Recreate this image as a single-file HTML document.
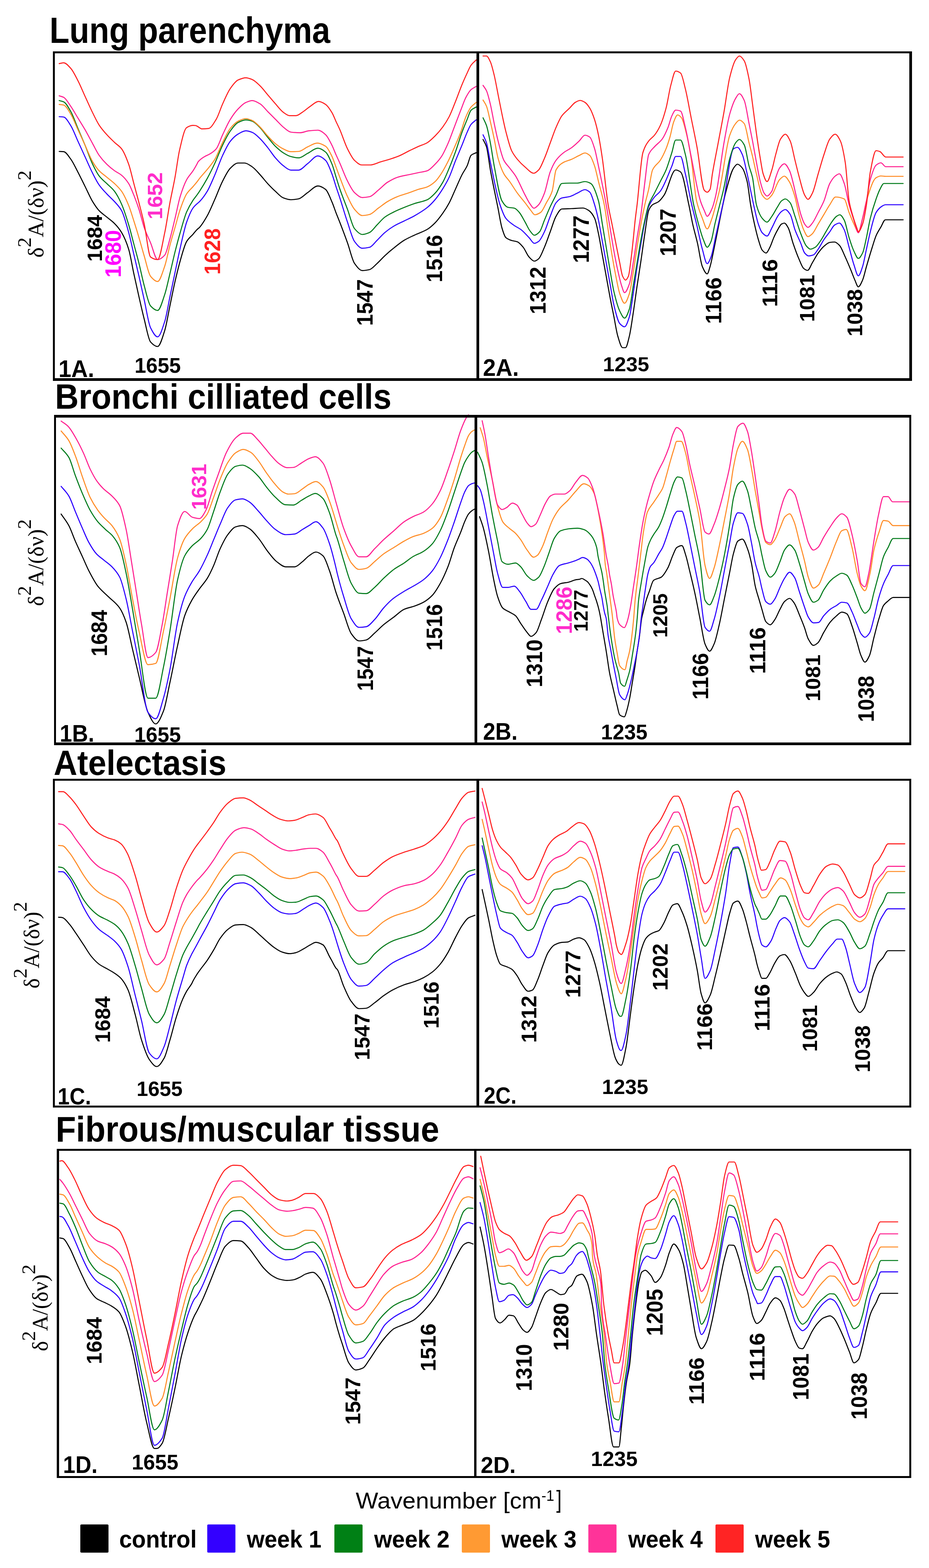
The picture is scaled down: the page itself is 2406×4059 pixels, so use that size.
<!DOCTYPE html><html><head><meta charset="utf-8"><style>html,body{margin:0;padding:0;background:#fff;}svg{display:block;}</style></head><body><svg xmlns="http://www.w3.org/2000/svg" width="2406" height="4059" viewBox="0 0 2406 4059">
<rect width="2406" height="4059" fill="#ffffff"/>
<g fill="none" stroke-width="2.7" stroke-linejoin="round" stroke-linecap="round">
<path d="M153.3,392.0 C157.2,392.2 161.1,392.3 165.0,392.7 C171.1,393.3 177.2,403.8 183.3,412.0 C189.4,420.2 195.6,433.7 201.7,445.3 C207.8,457.0 213.9,469.8 220.0,482.0 C226.7,495.3 233.3,511.1 240.0,522.0 C245.6,531.1 251.1,539.5 256.7,545.3 C263.3,552.4 270.0,556.4 276.7,562.0 C283.3,567.6 290.0,571.9 296.7,578.7 C302.8,584.8 308.9,591.9 315.0,602.0 C321.1,612.1 327.2,625.7 333.3,645.3 C337.8,659.6 342.2,688.1 346.7,708.7 C351.1,729.2 355.6,749.2 360.0,768.7 C364.4,788.1 368.9,808.0 373.3,825.3 C378.9,847.1 384.4,879.3 390.0,885.3 C396.1,892.0 402.2,897.0 408.3,897.0 C414.4,897.0 420.6,874.5 426.7,855.3 C431.1,841.4 435.6,813.1 440.0,792.0 C444.4,770.9 448.9,748.0 453.3,728.7 C457.8,709.4 462.2,690.7 466.7,675.3 C472.2,656.2 477.8,634.5 483.3,625.3 C488.9,616.1 494.4,612.7 500.0,606.3 C503.4,602.3 506.9,597.6 510.3,594.2 C512.4,592.1 514.6,590.9 516.7,588.7 C523.3,581.7 530.0,570.5 536.7,558.7 C543.3,546.8 550.0,530.3 556.7,515.3 C563.3,500.4 570.0,481.6 576.7,468.7 C583.3,455.7 590.0,441.7 596.7,435.3 C603.3,429.0 610.0,422.0 616.7,422.0 C622.2,422.0 627.8,422.0 633.3,422.0 C640.0,422.0 646.7,427.6 653.3,432.0 C660.0,436.4 666.7,444.8 673.3,452.0 C680.0,459.2 686.7,468.2 693.3,475.3 C700.0,482.5 706.7,489.3 713.3,495.3 C720.0,501.4 726.7,509.4 733.3,512.0 C740.0,514.6 746.7,517.0 753.3,517.0 C760.0,517.0 766.7,516.0 773.3,514.7 C781.1,513.1 788.9,503.9 796.7,498.7 C805.6,492.7 814.4,481.3 823.3,481.3 C830.0,481.3 836.7,485.3 843.3,490.3 C848.9,494.5 854.4,510.6 860.0,523.4 C863.4,531.3 866.9,542.0 870.3,550.9 C873.6,559.3 876.8,567.0 880.0,575.3 C886.7,592.6 893.3,610.1 900.0,628.7 C906.1,645.7 912.2,673.4 918.3,682.0 C925.0,691.4 931.7,700.3 938.3,700.3 C944.4,700.3 950.6,699.3 956.7,698.0 C963.3,696.6 970.0,687.9 976.7,682.0 C983.3,676.1 990.0,668.2 996.7,662.0 C1004.4,654.8 1012.2,648.2 1020.0,642.0 C1028.9,634.9 1037.8,627.3 1046.7,622.0 C1055.6,616.7 1064.4,612.9 1073.3,608.7 C1084.4,603.4 1095.6,600.3 1106.7,593.7 C1113.3,589.7 1120.0,583.7 1126.7,577.0 C1133.3,570.3 1140.0,561.4 1146.7,552.0 C1152.2,544.2 1157.8,535.6 1163.3,525.3 C1168.9,515.0 1174.4,500.9 1180.0,488.7 C1185.6,476.4 1191.1,462.8 1196.7,452.0 C1201.1,443.4 1205.6,438.2 1210.0,428.7 C1213.3,421.6 1216.7,404.9 1220.0,402.0 C1224.4,398.1 1228.9,397.6 1233.3,395.3" stroke="#000000"/>
<path d="M153.3,302.0 C157.2,302.3 161.1,302.4 165.0,303.0 C171.1,303.9 177.2,315.8 183.3,325.3 C189.4,334.9 195.6,352.0 201.7,365.3 C207.8,378.7 213.9,392.0 220.0,405.3 C226.7,419.8 233.3,435.6 240.0,448.7 C245.6,459.6 251.1,470.8 256.7,478.7 C263.3,488.2 270.0,494.8 276.7,502.0 C283.3,509.2 290.0,514.5 296.7,522.0 C302.8,528.9 308.9,534.3 315.0,545.3 C321.1,556.4 327.2,579.9 333.3,602.0 C337.8,618.0 342.2,639.8 346.7,658.7 C351.1,677.6 355.6,695.9 360.0,715.3 C364.4,734.8 368.9,755.5 373.3,775.3 C378.9,800.1 384.4,837.6 390.0,848.7 C396.1,860.8 402.2,872.0 408.3,872.0 C414.4,872.0 420.6,850.6 426.7,832.0 C431.1,818.4 435.6,789.8 440.0,768.7 C444.4,747.6 448.9,726.4 453.3,705.3 C457.8,684.2 462.2,661.4 466.7,642.0 C472.2,617.8 477.8,591.2 483.3,575.3 C488.9,559.4 494.4,545.9 500.0,538.2 C503.4,533.5 506.9,530.7 510.3,527.5 C512.4,525.5 514.6,524.1 516.7,522.0 C523.3,515.3 530.0,506.3 536.7,495.3 C543.3,484.3 550.0,467.5 556.7,452.0 C563.3,436.5 570.0,416.1 576.7,402.0 C583.3,387.9 590.0,373.5 596.7,365.3 C603.3,357.2 610.0,350.8 616.7,347.0 C623.3,343.2 630.0,338.7 636.7,338.7 C642.2,338.7 647.8,340.6 653.3,342.7 C660.0,345.1 666.7,352.3 673.3,358.7 C680.0,365.0 686.7,373.7 693.3,382.0 C700.0,390.3 706.7,401.0 713.3,408.7 C720.0,416.3 726.7,423.8 733.3,428.7 C740.0,433.6 746.7,440.3 753.3,440.3 C760.0,440.3 766.7,440.3 773.3,440.3 C781.1,440.3 788.9,429.4 796.7,423.7 C805.6,417.2 814.4,403.7 823.3,403.7 C830.0,403.7 836.7,409.1 843.3,415.3 C848.9,420.5 854.4,436.7 860.0,451.0 C863.4,459.9 866.9,472.9 870.3,483.4 C873.6,493.2 876.8,502.2 880.0,512.0 C886.7,532.3 893.3,555.8 900.0,575.3 C906.1,593.2 912.2,617.2 918.3,625.3 C925.0,634.2 931.7,642.7 938.3,642.7 C944.4,642.7 950.6,641.7 956.7,640.3 C963.3,638.9 970.0,628.4 976.7,622.0 C983.3,615.6 990.0,607.6 996.7,602.0 C1004.4,595.5 1012.2,589.9 1020.0,585.3 C1028.9,580.1 1037.8,576.4 1046.7,572.0 C1055.6,567.6 1064.4,563.7 1073.3,558.7 C1084.4,552.4 1095.6,545.9 1106.7,537.0 C1113.3,531.7 1120.0,524.8 1126.7,517.0 C1133.3,509.2 1140.0,499.3 1146.7,488.7 C1152.2,479.8 1157.8,470.5 1163.3,458.7 C1168.9,446.8 1174.4,429.2 1180.0,415.3 C1185.6,401.5 1191.1,388.9 1196.7,375.3 C1201.1,364.4 1205.6,351.8 1210.0,342.0 C1213.3,334.6 1216.7,326.1 1220.0,322.0 C1224.4,316.5 1228.9,314.2 1233.3,310.3" stroke="#2a00ff"/>
<path d="M153.3,260.3 C157.2,261.4 161.1,261.9 165.0,263.7 C171.1,266.4 177.2,278.1 183.3,288.7 C189.4,299.2 195.6,317.6 201.7,332.0 C207.8,346.4 213.9,360.5 220.0,375.3 C226.7,391.5 233.3,411.4 240.0,425.3 C245.6,436.9 251.1,448.1 256.7,455.3 C263.3,464.0 270.0,468.7 276.7,475.3 C283.3,482.0 290.0,486.7 296.7,495.3 C302.8,503.3 308.9,515.0 315.0,528.7 C321.1,542.3 327.2,561.8 333.3,582.0 C337.8,596.7 342.2,615.3 346.7,632.0 C351.1,648.7 355.6,664.3 360.0,682.0 C364.4,699.7 368.9,722.4 373.3,738.7 C378.9,759.1 384.4,786.0 390.0,792.0 C396.1,798.6 402.2,803.7 408.3,803.7 C414.4,803.7 420.6,780.0 426.7,762.0 C431.1,748.9 435.6,727.0 440.0,708.7 C444.4,690.4 448.9,669.7 453.3,652.0 C457.8,634.3 462.2,617.4 466.7,602.0 C472.2,582.8 477.8,561.6 483.3,548.7 C488.9,535.8 494.4,526.7 500.0,518.2 C503.4,513.0 506.9,509.3 510.3,504.5 C512.4,501.6 514.6,498.6 516.7,495.3 C523.3,485.1 530.0,474.1 536.7,462.0 C543.3,449.9 550.0,436.4 556.7,422.0 C563.3,407.6 570.0,389.0 576.7,375.3 C583.3,361.6 590.0,347.7 596.7,338.7 C603.3,329.6 610.0,320.4 616.7,317.0 C623.3,313.6 630.0,310.3 636.7,310.3 C642.2,310.3 647.8,311.9 653.3,313.7 C660.0,315.8 666.7,323.7 673.3,330.3 C680.0,337.0 686.7,347.3 693.3,355.3 C700.0,363.4 706.7,372.2 713.3,378.7 C720.0,385.1 726.7,391.2 733.3,395.3 C740.0,399.5 746.7,403.7 753.3,405.3 C760.0,407.0 766.7,408.7 773.3,408.7 C781.1,408.7 788.9,400.9 796.7,397.0 C805.6,392.6 814.4,383.7 823.3,383.7 C830.0,383.7 836.7,388.3 843.3,393.7 C848.9,398.1 854.4,411.8 860.0,425.3 C863.4,433.7 866.9,447.3 870.3,458.2 C873.6,468.4 876.8,479.3 880.0,488.7 C886.7,508.1 893.3,524.0 900.0,542.0 C906.1,558.5 912.2,584.8 918.3,592.0 C925.0,599.9 931.7,607.0 938.3,607.0 C944.4,607.0 950.6,604.6 956.7,602.0 C963.3,599.2 970.0,588.7 976.7,582.0 C983.3,575.3 990.0,566.9 996.7,562.0 C1004.4,556.3 1012.2,552.5 1020.0,548.7 C1028.9,544.2 1037.8,540.6 1046.7,537.0 C1055.6,533.4 1064.4,530.0 1073.3,527.0 C1084.4,523.3 1095.6,522.1 1106.7,517.0 C1113.3,513.9 1120.0,507.3 1126.7,500.3 C1133.3,493.3 1140.0,483.6 1146.7,472.0 C1152.2,462.4 1157.8,448.6 1163.3,435.3 C1168.9,422.1 1174.4,407.5 1180.0,392.0 C1185.6,376.5 1191.1,357.1 1196.7,342.0 C1201.1,329.9 1205.6,319.4 1210.0,308.7 C1213.3,300.6 1216.7,288.7 1220.0,285.3 C1224.4,280.8 1228.9,279.8 1233.3,277.0" stroke="#007a1a"/>
<path d="M153.3,270.3 C157.2,270.9 161.1,271.1 165.0,272.0 C171.1,273.5 177.2,285.5 183.3,295.3 C189.4,305.2 195.6,322.0 201.7,335.3 C207.8,348.7 213.9,362.0 220.0,375.3 C226.7,389.8 233.3,407.4 240.0,418.7 C245.6,428.1 251.1,436.2 256.7,442.0 C263.3,449.0 270.0,453.1 276.7,458.7 C283.3,464.2 290.0,469.0 296.7,475.3 C302.8,481.1 308.9,486.7 315.0,495.3 C321.1,504.0 327.2,517.2 333.3,532.0 C337.8,542.8 342.2,558.1 346.7,572.0 C351.1,585.9 355.6,600.4 360.0,615.3 C364.4,630.3 368.9,647.1 373.3,662.0 C378.9,680.6 384.4,708.7 390.0,715.3 C396.1,722.6 402.2,728.7 408.3,728.7 C414.4,728.7 420.6,706.2 426.7,688.7 C431.1,675.9 435.6,651.9 440.0,635.3 C444.4,618.7 448.9,604.2 453.3,588.7 C457.8,573.1 462.2,554.7 466.7,542.0 C472.2,526.1 477.8,510.6 483.3,502.0 C488.9,493.4 494.4,489.4 500.0,483.0 C503.4,479.0 506.9,475.1 510.3,470.7 C512.4,468.0 514.6,464.7 516.7,462.0 C523.3,453.5 530.0,447.0 536.7,438.7 C543.3,430.4 550.0,423.0 556.7,412.0 C563.3,401.0 570.0,381.9 576.7,368.7 C583.3,355.4 590.0,340.1 596.7,332.0 C603.3,323.9 610.0,316.9 616.7,313.7 C623.3,310.4 630.0,307.0 636.7,307.0 C642.2,307.0 647.8,309.6 653.3,312.0 C660.0,314.9 666.7,322.2 673.3,328.7 C680.0,335.1 686.7,344.8 693.3,352.0 C700.0,359.2 706.7,366.7 713.3,372.0 C720.0,377.3 726.7,382.2 733.3,385.3 C740.0,388.5 746.7,392.7 753.3,392.7 C760.0,392.7 766.7,392.4 773.3,392.0 C781.1,391.5 788.9,383.8 796.7,380.3 C805.0,376.6 813.3,370.3 821.7,370.3 C828.9,370.3 836.1,374.1 843.3,378.7 C848.9,382.2 854.4,394.0 860.0,405.3 C863.4,412.3 866.9,423.5 870.3,432.6 C873.6,441.2 876.8,450.3 880.0,458.7 C886.7,476.0 893.3,494.7 900.0,508.7 C906.1,521.5 912.2,535.2 918.3,542.0 C925.0,549.4 931.7,558.0 938.3,558.0 C944.4,558.0 950.6,556.8 956.7,555.3 C964.4,553.5 972.2,544.2 980.0,538.7 C987.8,533.1 995.6,526.6 1003.3,522.0 C1012.2,516.8 1021.1,512.2 1030.0,508.7 C1040.0,504.7 1050.0,502.1 1060.0,498.7 C1067.8,496.0 1075.6,492.8 1083.3,490.3 C1091.1,487.9 1098.9,486.8 1106.7,483.7 C1113.3,481.0 1120.0,476.3 1126.7,470.3 C1132.2,465.4 1137.8,457.1 1143.3,448.7 C1148.9,440.3 1154.4,429.7 1160.0,418.7 C1165.6,407.7 1171.1,394.8 1176.7,382.0 C1182.2,369.2 1187.8,356.9 1193.3,342.0 C1197.8,330.1 1202.2,312.3 1206.7,302.0 C1211.1,291.7 1215.6,282.3 1220.0,277.0 C1224.4,271.7 1228.9,269.2 1233.3,265.3" stroke="#ff8c26"/>
<path d="M153.3,248.0 C157.2,249.3 161.1,250.0 165.0,252.0 C171.1,255.2 177.2,266.6 183.3,275.3 C189.4,284.1 195.6,295.3 201.7,305.3 C207.8,315.3 213.9,324.8 220.0,335.3 C226.7,346.9 233.3,359.9 240.0,372.0 C245.6,382.1 251.1,394.1 256.7,402.0 C263.3,411.5 270.0,418.9 276.7,425.3 C283.3,431.8 290.0,437.2 296.7,442.0 C302.8,446.4 308.9,448.6 315.0,453.7 C321.1,458.7 327.2,465.7 333.3,475.3 C337.8,482.3 342.2,494.3 346.7,505.3 C351.1,516.3 355.6,528.3 360.0,542.0 C364.4,555.7 368.9,575.9 373.3,588.7 C378.9,604.6 384.4,615.4 390.0,628.7 C396.1,643.2 402.2,672.0 408.3,672.0 C414.4,672.0 420.6,667.0 426.7,660.3 C431.1,655.5 435.6,634.3 440.0,618.7 C444.4,603.1 448.9,583.6 453.3,565.3 C457.8,547.0 462.2,523.1 466.7,508.7 C472.2,490.6 477.8,475.4 483.3,465.3 C488.9,455.2 494.4,450.6 500.0,442.0 C503.4,436.7 506.9,430.5 510.3,424.3 C511.3,422.5 512.3,419.9 513.3,418.7 C518.9,411.8 524.4,408.7 530.0,405.3 C534.4,402.6 538.9,401.4 543.3,398.7 C548.9,395.3 554.4,391.9 560.0,385.3 C565.6,378.8 571.1,360.3 576.7,348.7 C583.3,334.7 590.0,319.3 596.7,308.7 C603.3,298.0 610.0,288.8 616.7,282.0 C623.3,275.2 630.0,268.2 636.7,265.3 C642.2,262.9 647.8,260.3 653.3,260.3 C660.0,260.3 666.7,264.7 673.3,268.7 C680.0,272.6 686.7,282.0 693.3,288.7 C700.0,295.3 706.7,302.0 713.3,308.7 C720.0,315.3 726.7,323.3 733.3,328.7 C740.0,334.0 746.7,341.1 753.3,342.0 C761.1,343.0 768.9,343.7 776.7,343.7 C784.4,343.7 792.2,339.5 800.0,338.7 C807.8,337.8 815.6,337.0 823.3,337.0 C830.0,337.0 836.7,342.8 843.3,348.7 C848.9,353.6 854.4,365.7 860.0,376.7 C863.4,383.5 866.9,393.1 870.3,400.8 C873.6,408.1 876.8,414.7 880.0,422.0 C886.7,437.0 893.3,455.9 900.0,468.7 C906.1,480.4 912.2,493.0 918.3,498.7 C925.0,504.8 931.7,511.3 938.3,511.3 C944.4,511.3 950.6,510.5 956.7,509.3 C964.4,507.9 972.2,498.2 980.0,492.0 C987.8,485.8 995.6,476.9 1003.3,472.0 C1012.2,466.4 1021.1,461.4 1030.0,458.7 C1040.0,455.6 1050.0,454.2 1060.0,452.0 C1067.8,450.3 1075.6,448.7 1083.3,447.0 C1091.1,445.3 1098.9,444.7 1106.7,442.0 C1113.3,439.7 1120.0,431.9 1126.7,425.3 C1132.2,419.8 1137.8,413.7 1143.3,405.3 C1148.9,397.0 1154.4,384.6 1160.0,372.0 C1165.6,359.4 1171.1,343.1 1176.7,328.7 C1182.2,314.2 1187.8,299.5 1193.3,285.3 C1197.8,274.0 1202.2,260.3 1206.7,252.0 C1211.1,243.7 1215.6,235.9 1220.0,232.0 C1224.4,228.1 1228.9,226.4 1233.3,223.7" stroke="#ff1f8f"/>
<path d="M153.3,164.7 C157.2,164.0 161.1,162.7 165.0,162.7 C171.1,162.7 177.2,170.4 183.3,177.0 C189.4,183.6 195.6,196.9 201.7,208.7 C207.8,220.4 213.9,235.4 220.0,248.7 C226.7,263.2 233.3,278.5 240.0,292.0 C245.6,303.2 251.1,315.2 256.7,323.7 C263.3,333.8 270.0,341.3 276.7,348.7 C283.3,356.1 290.0,362.3 296.7,368.7 C302.8,374.5 308.9,377.5 315.0,385.3 C321.1,393.2 327.2,408.2 333.3,425.3 C337.8,437.8 342.2,458.7 346.7,475.3 C351.1,492.0 355.6,508.1 360.0,525.3 C364.4,542.5 368.9,558.7 373.3,578.7 C378.9,603.7 384.4,661.5 390.0,665.3 C396.1,669.5 402.2,672.0 408.3,672.0 C414.4,672.0 420.6,630.3 426.7,602.0 C431.1,581.4 435.6,549.1 440.0,525.3 C444.4,501.6 448.9,483.0 453.3,458.7 C457.2,437.4 461.1,405.2 465.0,388.7 C471.1,362.7 477.2,334.0 483.3,330.3 C488.9,327.0 494.4,324.7 500.0,324.7 C502.2,324.7 504.4,324.8 506.7,325.0 C507.9,325.2 509.1,325.9 510.3,326.5 C514.7,328.4 519.0,333.7 523.3,333.7 C528.9,333.7 534.4,333.3 540.0,332.7 C546.7,331.9 553.3,319.4 560.0,308.7 C565.6,299.7 571.1,280.8 576.7,268.7 C583.3,254.1 590.0,238.0 596.7,228.7 C603.3,219.3 610.0,210.0 616.7,207.0 C623.3,204.0 630.0,201.3 636.7,201.3 C642.2,201.3 647.8,203.7 653.3,206.0 C660.0,208.7 666.7,215.7 673.3,222.0 C680.0,228.3 686.7,237.6 693.3,245.3 C700.0,253.1 706.7,261.2 713.3,268.7 C720.0,276.2 726.7,285.6 733.3,290.3 C738.9,294.3 744.4,299.3 750.0,299.3 C755.6,299.3 761.1,299.3 766.7,299.3 C772.2,299.3 777.8,293.8 783.3,290.3 C790.0,286.2 796.7,279.7 803.3,275.3 C810.6,270.6 817.8,262.7 825.0,262.7 C831.1,262.7 837.2,266.4 843.3,270.3 C848.9,273.9 854.4,282.7 860.0,292.0 C863.4,297.7 866.9,307.2 870.3,314.7 C873.6,321.6 876.8,328.0 880.0,335.3 C886.7,350.6 893.3,372.2 900.0,385.3 C906.1,397.4 912.2,409.7 918.3,415.3 C924.4,420.9 930.6,427.0 936.7,427.0 C943.9,427.0 951.1,427.0 958.3,427.0 C967.8,427.0 977.2,421.4 986.7,418.7 C994.4,416.4 1002.2,414.5 1010.0,412.0 C1017.8,409.5 1025.6,406.9 1033.3,403.7 C1042.2,400.0 1051.1,394.6 1060.0,390.3 C1067.8,386.6 1075.6,382.8 1083.3,379.3 C1091.1,375.8 1098.9,373.8 1106.7,369.3 C1113.3,365.5 1120.0,358.6 1126.7,352.0 C1133.3,345.4 1140.0,337.7 1146.7,328.7 C1152.2,321.1 1157.8,312.7 1163.3,302.0 C1168.9,291.3 1174.4,275.9 1180.0,262.0 C1185.6,248.1 1191.1,232.0 1196.7,218.7 C1201.1,208.0 1205.6,198.1 1210.0,188.7 C1213.3,181.6 1216.7,173.2 1220.0,168.7 C1224.4,162.6 1228.9,159.8 1233.3,155.3" stroke="#ff1f1f"/>
<path d="M158.3,1330.7 C165.0,1340.7 171.7,1348.3 178.3,1360.7 C183.9,1371.0 189.4,1388.0 195.0,1400.7 C201.1,1414.6 207.2,1427.3 213.3,1440.7 C218.9,1452.8 224.4,1466.6 230.0,1477.3 C237.8,1492.4 245.6,1507.5 253.3,1517.3 C262.2,1528.6 271.1,1535.1 280.0,1544.0 C290.0,1554.0 300.0,1559.7 310.0,1574.0 C315.6,1581.9 321.1,1594.6 326.7,1610.7 C332.2,1626.7 337.8,1657.3 343.3,1680.7 C348.9,1704.0 354.4,1727.9 360.0,1750.7 C367.8,1782.6 375.6,1827.2 383.3,1844.0 C390.0,1858.4 396.7,1874.0 403.3,1874.0 C410.0,1874.0 416.7,1857.0 423.3,1840.7 C428.9,1827.0 434.4,1792.9 440.0,1767.3 C446.7,1736.7 453.3,1700.5 460.0,1670.7 C466.1,1643.3 472.2,1611.5 478.3,1594.0 C484.4,1576.5 490.6,1564.9 496.7,1554.0 C503.3,1542.1 510.0,1533.4 516.7,1524.0 C523.3,1514.6 530.0,1508.1 536.7,1497.3 C542.2,1488.4 547.8,1476.6 553.3,1464.0 C558.9,1451.4 564.4,1432.7 570.0,1420.7 C576.7,1406.3 583.3,1392.6 590.0,1384.0 C596.7,1375.4 603.3,1366.0 610.0,1364.0 C616.1,1362.1 622.2,1360.7 628.3,1360.7 C634.4,1360.7 640.6,1365.2 646.7,1369.0 C654.4,1373.9 662.2,1384.5 670.0,1394.0 C677.8,1403.5 685.6,1417.5 693.3,1427.3 C701.1,1437.2 708.9,1448.1 716.7,1454.0 C724.4,1459.9 732.2,1467.3 740.0,1467.3 C747.8,1467.3 755.6,1467.3 763.3,1467.3 C770.0,1467.3 776.7,1459.1 783.3,1454.0 C788.9,1449.7 794.4,1442.8 800.0,1439.0 C806.1,1434.8 812.2,1429.0 818.3,1429.0 C824.4,1429.0 830.6,1433.6 836.7,1439.0 C842.2,1443.9 847.8,1462.2 853.3,1477.3 C859.0,1492.7 864.7,1517.0 870.3,1534.0 C876.9,1553.7 883.4,1569.7 890.0,1587.3 C896.7,1605.3 903.3,1631.6 910.0,1640.7 C916.7,1649.8 923.3,1659.0 930.0,1659.0 C936.1,1659.0 942.2,1658.0 948.3,1656.7 C955.6,1655.1 962.8,1645.3 970.0,1639.0 C977.8,1632.3 985.6,1623.8 993.3,1617.3 C1002.2,1609.9 1011.1,1604.0 1020.0,1597.3 C1028.9,1590.7 1037.8,1581.3 1046.7,1577.3 C1055.6,1573.4 1064.4,1572.2 1073.3,1569.0 C1081.1,1566.2 1088.9,1563.3 1096.7,1559.0 C1104.4,1554.7 1112.2,1548.8 1120.0,1540.7 C1126.7,1533.7 1133.3,1522.5 1140.0,1510.7 C1146.7,1498.8 1153.3,1484.2 1160.0,1467.3 C1165.6,1453.3 1171.1,1432.1 1176.7,1417.3 C1182.2,1402.5 1187.8,1391.4 1193.3,1377.3 C1196.7,1368.9 1200.0,1358.3 1203.3,1350.7 C1206.7,1343.0 1210.0,1335.1 1213.3,1330.7 C1216.1,1327.0 1218.9,1324.4 1221.7,1322.3 C1224.4,1320.2 1227.2,1319.0 1230.0,1317.3" stroke="#000000"/>
<path d="M158.3,1259.0 C165.0,1267.3 171.7,1272.9 178.3,1284.0 C183.9,1293.2 189.4,1310.8 195.0,1324.0 C201.1,1338.6 207.2,1353.4 213.3,1367.3 C218.9,1380.0 224.4,1394.0 230.0,1404.0 C236.7,1416.0 243.3,1426.9 250.0,1434.0 C256.7,1441.1 263.3,1445.1 270.0,1450.7 C276.7,1456.2 283.3,1460.5 290.0,1467.3 C296.7,1474.2 303.3,1481.1 310.0,1494.0 C315.6,1504.8 321.1,1528.2 326.7,1550.7 C332.2,1573.2 337.8,1606.2 343.3,1634.0 C348.9,1661.8 354.4,1688.5 360.0,1717.3 C367.8,1757.7 375.6,1833.0 383.3,1844.0 C390.0,1853.5 396.7,1860.7 403.3,1860.7 C410.0,1860.7 416.7,1829.6 423.3,1807.3 C428.9,1788.7 434.4,1762.4 440.0,1734.0 C446.7,1699.9 453.3,1641.1 460.0,1610.7 C466.1,1582.8 472.2,1559.8 478.3,1544.0 C484.4,1528.2 490.6,1517.8 496.7,1507.3 C503.3,1495.9 510.0,1488.8 516.7,1477.3 C523.3,1465.9 530.0,1451.9 536.7,1437.3 C542.2,1425.2 547.8,1410.7 553.3,1397.3 C558.9,1384.0 564.4,1370.0 570.0,1357.3 C576.7,1342.1 583.3,1323.1 590.0,1314.0 C596.7,1304.9 603.3,1295.7 610.0,1294.0 C616.1,1292.5 622.2,1291.3 628.3,1291.3 C634.4,1291.3 640.6,1296.1 646.7,1300.0 C654.4,1305.0 662.2,1315.5 670.0,1324.0 C676.7,1331.3 683.3,1340.1 690.0,1347.3 C697.8,1355.7 705.6,1365.4 713.3,1370.7 C722.2,1376.6 731.1,1384.0 740.0,1384.0 C747.8,1384.0 755.6,1383.3 763.3,1382.3 C770.0,1381.5 776.7,1374.6 783.3,1370.7 C788.9,1367.4 794.4,1363.8 800.0,1360.7 C806.1,1357.2 812.2,1350.7 818.3,1350.7 C824.4,1350.7 830.6,1359.2 836.7,1367.3 C842.2,1374.7 847.8,1391.1 853.3,1407.3 C859.0,1423.9 864.7,1447.2 870.3,1470.7 C871.3,1474.8 872.3,1479.9 873.3,1484.0 C878.9,1506.7 884.4,1526.0 890.0,1544.0 C896.7,1565.6 903.3,1591.8 910.0,1602.3 C916.7,1612.9 923.3,1624.0 930.0,1624.0 C936.1,1624.0 942.2,1623.3 948.3,1622.3 C955.6,1621.2 962.8,1611.4 970.0,1604.0 C977.8,1596.1 985.6,1582.8 993.3,1574.0 C1001.1,1565.2 1008.9,1556.9 1016.7,1550.7 C1026.7,1542.6 1036.7,1536.8 1046.7,1530.7 C1055.6,1525.3 1064.4,1521.0 1073.3,1515.7 C1081.1,1511.0 1088.9,1506.8 1096.7,1500.7 C1104.4,1494.6 1112.2,1487.1 1120.0,1477.3 C1126.7,1468.9 1133.3,1457.0 1140.0,1444.0 C1146.7,1431.0 1153.3,1414.3 1160.0,1397.3 C1165.6,1383.2 1171.1,1366.8 1176.7,1350.7 C1182.2,1334.6 1187.8,1316.3 1193.3,1300.7 C1196.7,1291.3 1200.0,1280.8 1203.3,1274.0 C1206.7,1267.2 1210.0,1260.2 1213.3,1257.3 C1216.1,1254.9 1218.9,1253.4 1221.7,1252.3 C1224.4,1251.3 1227.2,1250.8 1230.0,1250.0" stroke="#2a00ff"/>
<path d="M158.3,1160.0 C165.0,1168.0 171.7,1172.7 178.3,1184.0 C183.9,1193.4 189.4,1215.8 195.0,1230.7 C201.1,1247.0 207.2,1263.0 213.3,1277.3 C220.0,1293.0 226.7,1308.8 233.3,1320.7 C240.0,1332.5 246.7,1342.7 253.3,1350.7 C260.0,1358.7 266.7,1364.3 273.3,1370.7 C279.4,1376.5 285.6,1380.2 291.7,1387.3 C297.8,1394.5 303.9,1403.0 310.0,1417.3 C315.6,1430.3 321.1,1458.1 326.7,1484.0 C332.2,1509.9 337.8,1545.1 343.3,1577.3 C348.9,1609.5 354.4,1645.2 360.0,1677.3 C367.8,1722.4 375.6,1807.3 383.3,1807.3 C390.0,1807.3 396.7,1807.3 403.3,1807.3 C410.0,1807.3 416.7,1758.6 423.3,1727.3 C428.9,1701.3 434.4,1667.7 440.0,1634.0 C446.7,1593.5 453.3,1530.3 460.0,1500.7 C466.1,1473.5 472.2,1450.9 478.3,1439.0 C484.4,1427.1 490.6,1420.5 496.7,1414.0 C504.4,1405.7 512.2,1402.4 520.0,1394.0 C525.6,1388.0 531.1,1381.0 536.7,1370.7 C542.2,1360.3 547.8,1340.1 553.3,1324.0 C558.9,1307.9 564.4,1288.6 570.0,1274.0 C576.7,1256.4 583.3,1236.7 590.0,1227.3 C596.7,1218.0 603.3,1209.4 610.0,1207.3 C616.1,1205.5 622.2,1204.0 628.3,1204.0 C634.4,1204.0 640.6,1208.7 646.7,1212.3 C654.4,1217.0 662.2,1225.4 670.0,1234.0 C676.7,1241.3 683.3,1252.4 690.0,1260.7 C697.8,1270.3 705.6,1280.4 713.3,1287.3 C722.2,1295.3 731.1,1306.1 740.0,1306.7 C746.7,1307.1 753.3,1307.3 760.0,1307.3 C766.7,1307.3 773.3,1299.6 780.0,1295.7 C786.7,1291.8 793.3,1287.1 800.0,1284.0 C805.6,1281.4 811.1,1277.3 816.7,1277.3 C823.3,1277.3 830.0,1283.7 836.7,1290.7 C842.2,1296.4 847.8,1312.4 853.3,1327.3 C859.0,1342.5 864.7,1368.7 870.3,1385.7 C871.3,1388.7 872.3,1391.0 873.3,1394.0 C878.9,1410.6 884.4,1432.9 890.0,1450.7 C896.7,1472.0 903.3,1498.9 910.0,1510.7 C916.7,1522.4 923.3,1535.0 930.0,1535.7 C936.1,1536.3 942.2,1536.7 948.3,1536.7 C955.6,1536.7 962.8,1526.8 970.0,1520.7 C977.8,1514.1 985.6,1504.6 993.3,1497.3 C1002.2,1489.0 1011.1,1480.5 1020.0,1474.0 C1028.9,1467.5 1037.8,1463.3 1046.7,1457.3 C1054.4,1452.1 1062.2,1445.3 1070.0,1440.7 C1078.9,1435.4 1087.8,1433.0 1096.7,1427.3 C1104.4,1422.4 1112.2,1416.2 1120.0,1407.3 C1126.7,1399.7 1133.3,1387.3 1140.0,1374.0 C1146.7,1360.7 1153.3,1342.2 1160.0,1324.0 C1165.6,1308.8 1171.1,1290.7 1176.7,1274.0 C1182.2,1257.3 1187.8,1239.6 1193.3,1224.0 C1196.7,1214.6 1200.0,1204.2 1203.3,1197.3 C1206.7,1190.5 1210.0,1185.3 1213.3,1180.7 C1216.1,1176.8 1218.9,1172.9 1221.7,1170.7 C1224.4,1168.4 1227.2,1167.3 1230.0,1165.7" stroke="#007a1a"/>
<path d="M158.3,1115.7 C165.0,1124.0 171.7,1129.7 178.3,1140.7 C184.4,1150.7 190.6,1167.8 196.7,1184.0 C202.2,1198.7 207.8,1218.3 213.3,1234.0 C220.0,1252.9 226.7,1273.7 233.3,1287.3 C240.0,1301.0 246.7,1311.4 253.3,1320.7 C258.9,1328.4 264.4,1334.6 270.0,1340.7 C276.7,1348.0 283.3,1352.2 290.0,1360.7 C296.7,1369.2 303.3,1379.4 310.0,1395.7 C315.6,1409.2 321.1,1435.5 326.7,1460.7 C332.2,1485.8 337.8,1521.8 343.3,1550.7 C348.9,1579.5 354.4,1610.1 360.0,1634.0 C367.8,1667.4 375.6,1720.7 383.3,1720.7 C390.0,1720.7 396.7,1719.5 403.3,1717.3 C410.0,1715.2 416.7,1664.4 423.3,1634.0 C428.9,1608.7 434.4,1579.3 440.0,1550.7 C446.7,1516.3 453.3,1467.9 460.0,1444.0 C466.1,1422.0 472.2,1404.5 478.3,1394.0 C485.6,1381.6 492.8,1374.5 500.0,1367.3 C506.7,1360.7 513.3,1357.3 520.0,1350.7 C525.6,1345.2 531.1,1339.8 536.7,1330.7 C542.2,1321.5 547.8,1302.3 553.3,1287.3 C558.9,1272.4 564.4,1254.3 570.0,1240.7 C576.7,1224.3 583.3,1207.9 590.0,1197.3 C596.7,1186.8 603.3,1176.7 610.0,1172.3 C616.7,1167.9 623.3,1163.3 630.0,1163.3 C636.7,1163.3 643.3,1167.4 650.0,1171.3 C656.7,1175.3 663.3,1185.4 670.0,1194.0 C676.7,1202.6 683.3,1214.6 690.0,1224.0 C696.7,1233.4 703.3,1243.0 710.0,1250.7 C717.8,1259.6 725.6,1269.9 733.3,1274.0 C737.8,1276.3 742.2,1279.0 746.7,1279.0 C752.2,1279.0 757.8,1278.6 763.3,1278.0 C770.0,1277.3 776.7,1270.0 783.3,1265.7 C788.9,1262.0 794.4,1256.8 800.0,1254.0 C806.1,1250.9 812.2,1246.7 818.3,1246.7 C824.4,1246.7 830.6,1253.7 836.7,1260.7 C842.2,1267.0 847.8,1283.0 853.3,1297.3 C859.0,1312.0 864.7,1332.2 870.3,1350.7 C871.3,1353.9 872.3,1357.5 873.3,1360.7 C878.9,1378.4 884.4,1396.0 890.0,1410.7 C896.7,1428.2 903.3,1449.1 910.0,1457.3 C916.7,1465.5 923.3,1474.0 930.0,1474.0 C936.1,1474.0 942.2,1472.8 948.3,1471.3 C955.6,1469.6 962.8,1460.0 970.0,1454.0 C977.8,1447.6 985.6,1439.6 993.3,1434.0 C1002.2,1427.6 1011.1,1422.9 1020.0,1417.3 C1028.9,1411.8 1037.8,1405.6 1046.7,1400.7 C1054.4,1396.4 1062.2,1392.0 1070.0,1389.0 C1078.9,1385.6 1087.8,1384.3 1096.7,1380.7 C1104.4,1377.5 1112.2,1373.6 1120.0,1367.3 C1126.7,1361.9 1133.3,1352.3 1140.0,1340.7 C1146.7,1329.1 1153.3,1308.9 1160.0,1290.7 C1165.6,1275.5 1171.1,1258.4 1176.7,1240.7 C1182.2,1223.0 1187.8,1201.6 1193.3,1184.0 C1196.7,1173.4 1200.0,1163.3 1203.3,1154.0 C1206.7,1144.7 1210.0,1133.7 1213.3,1128.0 C1216.1,1123.3 1218.9,1119.6 1221.7,1117.3 C1224.4,1115.1 1227.2,1114.0 1230.0,1112.3" stroke="#ff8c26"/>
<path d="M158.3,1090.0 C164.4,1094.7 170.6,1097.8 176.7,1104.0 C183.9,1111.3 191.1,1124.7 198.3,1137.3 C204.4,1148.0 210.6,1160.6 216.7,1174.0 C222.2,1186.1 227.8,1202.6 233.3,1214.0 C238.9,1225.4 244.4,1236.0 250.0,1244.0 C255.6,1252.0 261.1,1258.4 266.7,1264.0 C274.4,1271.9 282.2,1276.1 290.0,1284.0 C296.7,1290.8 303.3,1296.4 310.0,1309.0 C315.6,1319.5 321.1,1345.0 326.7,1370.7 C331.1,1391.2 335.6,1423.5 340.0,1450.7 C344.4,1477.9 348.9,1506.2 353.3,1534.0 C357.8,1561.8 362.2,1592.3 366.7,1617.3 C372.2,1648.7 377.8,1702.3 383.3,1702.3 C390.0,1702.3 396.7,1696.9 403.3,1689.0 C408.9,1682.4 414.4,1645.8 420.0,1617.3 C424.4,1594.5 428.9,1561.8 433.3,1534.0 C437.8,1506.2 442.2,1479.5 446.7,1450.7 C451.1,1421.8 455.6,1374.8 460.0,1360.7 C466.1,1341.3 472.2,1324.0 478.3,1324.0 C485.0,1324.0 491.7,1337.1 498.3,1339.0 C504.4,1340.8 510.6,1342.3 516.7,1342.3 C522.2,1342.3 527.8,1330.7 533.3,1320.7 C538.9,1310.6 544.4,1286.8 550.0,1270.7 C555.6,1254.6 561.1,1239.2 566.7,1224.0 C573.3,1205.8 580.0,1183.9 586.7,1170.7 C594.4,1155.2 602.2,1140.9 610.0,1134.0 C616.7,1128.0 623.3,1121.3 630.0,1121.3 C636.1,1121.3 642.2,1121.3 648.3,1121.3 C654.4,1121.3 660.6,1131.2 666.7,1137.3 C673.3,1144.0 680.0,1152.8 686.7,1160.7 C692.2,1167.2 697.8,1174.6 703.3,1180.7 C710.0,1188.0 716.7,1196.2 723.3,1200.7 C730.0,1205.1 736.7,1210.7 743.3,1210.7 C748.9,1210.7 754.4,1210.4 760.0,1210.0 C766.7,1209.5 773.3,1202.8 780.0,1199.0 C786.7,1195.2 793.3,1189.9 800.0,1187.3 C805.6,1185.2 811.1,1182.3 816.7,1182.3 C823.3,1182.3 830.0,1190.5 836.7,1199.0 C842.2,1206.1 847.8,1224.4 853.3,1240.7 C859.0,1257.2 864.7,1281.1 870.3,1300.7 C876.9,1323.3 883.4,1349.2 890.0,1367.3 C896.7,1385.8 903.3,1402.5 910.0,1414.0 C916.7,1425.5 923.3,1441.3 930.0,1441.3 C936.1,1441.3 942.2,1441.3 948.3,1441.3 C955.6,1441.3 962.8,1427.7 970.0,1420.7 C977.8,1413.1 985.6,1404.6 993.3,1397.3 C1002.2,1389.0 1011.1,1381.8 1020.0,1374.0 C1028.9,1366.2 1037.8,1356.8 1046.7,1350.7 C1054.4,1345.3 1062.2,1341.2 1070.0,1337.3 C1078.9,1332.9 1087.8,1331.0 1096.7,1325.7 C1104.4,1321.0 1112.2,1313.3 1120.0,1304.0 C1126.7,1296.0 1133.3,1284.3 1140.0,1270.7 C1146.7,1257.0 1153.3,1236.2 1160.0,1217.3 C1165.6,1201.6 1171.1,1184.5 1176.7,1167.3 C1182.2,1150.1 1187.8,1128.7 1193.3,1114.0 C1198.0,1101.6 1202.7,1089.6 1207.3,1082.0 C1209.3,1078.7 1211.3,1076.7 1213.3,1074.0" stroke="#ff1f8f"/>
<path d="M151.7,2374.3 C155.0,2374.7 158.3,2374.8 161.7,2375.3 C167.8,2376.4 173.9,2385.7 180.0,2392.7 C185.6,2399.0 191.1,2408.0 196.7,2416.0 C203.3,2425.6 210.0,2436.0 216.7,2446.0 C223.3,2456.0 230.0,2468.0 236.7,2476.0 C243.3,2484.0 250.0,2491.1 256.7,2496.0 C264.4,2501.7 272.2,2504.8 280.0,2509.3 C285.6,2512.6 291.1,2515.5 296.7,2519.3 C302.2,2523.1 307.8,2526.7 313.3,2532.7 C319.4,2539.2 325.6,2549.1 331.7,2562.7 C337.8,2576.2 343.9,2603.3 350.0,2626.0 C355.6,2646.6 361.1,2675.5 366.7,2692.7 C373.3,2713.3 380.0,2733.5 386.7,2742.7 C393.1,2751.5 399.6,2761.0 406.0,2761.0 C412.3,2761.0 418.7,2750.1 425.0,2739.3 C430.0,2730.8 435.0,2709.3 440.0,2692.7 C445.6,2674.1 451.1,2650.2 456.7,2632.7 C462.2,2615.2 467.8,2598.8 473.3,2586.0 C476.7,2578.3 480.0,2571.8 483.3,2566.0 C487.8,2558.3 492.2,2554.0 496.7,2546.0 C497.8,2544.0 498.9,2541.2 500.0,2539.1 C503.4,2532.6 506.9,2527.2 510.3,2521.8 C512.4,2518.6 514.6,2515.6 516.7,2512.7 C523.3,2503.3 530.0,2495.7 536.7,2486.0 C542.2,2477.9 547.8,2468.7 553.3,2459.3 C558.9,2449.9 564.4,2437.2 570.0,2429.3 C576.7,2419.8 583.3,2411.2 590.0,2406.0 C596.7,2400.8 603.3,2394.9 610.0,2394.3 C616.7,2393.7 623.3,2393.3 630.0,2393.3 C636.7,2393.3 643.3,2397.5 650.0,2401.0 C656.7,2404.5 663.3,2411.8 670.0,2417.7 C676.7,2423.5 683.3,2430.2 690.0,2436.0 C696.7,2441.8 703.3,2448.1 710.0,2452.7 C716.7,2457.2 723.3,2462.2 730.0,2464.3 C736.7,2466.4 743.3,2468.7 750.0,2468.7 C755.6,2468.7 761.1,2467.3 766.7,2466.0 C773.3,2464.4 780.0,2459.6 786.7,2456.0 C792.2,2453.0 797.8,2448.8 803.3,2446.0 C808.3,2443.5 813.3,2439.3 818.3,2439.3 C824.4,2439.3 830.6,2442.3 836.7,2446.0 C842.2,2449.4 847.8,2466.0 853.3,2476.0 C855.6,2480.0 857.8,2484.1 860.0,2488.1 C863.4,2494.3 866.9,2502.1 870.3,2506.3 C871.3,2507.5 872.3,2508.0 873.3,2509.3 C878.9,2516.7 884.4,2540.1 890.0,2552.7 C896.7,2567.8 903.3,2584.3 910.0,2592.7 C916.7,2601.0 923.3,2611.0 930.0,2611.0 C936.1,2611.0 942.2,2610.6 948.3,2610.0 C955.6,2609.3 962.8,2601.1 970.0,2596.0 C977.8,2590.5 985.6,2583.2 993.3,2577.7 C1001.1,2572.2 1008.9,2566.8 1016.7,2562.7 C1026.7,2557.4 1036.7,2553.0 1046.7,2549.3 C1055.6,2546.1 1064.4,2544.2 1073.3,2541.0 C1081.1,2538.2 1088.9,2535.0 1096.7,2531.0 C1104.4,2527.0 1112.2,2522.1 1120.0,2516.0 C1126.7,2510.8 1133.3,2504.0 1140.0,2496.0 C1146.7,2488.0 1153.3,2477.4 1160.0,2466.0 C1166.7,2454.6 1173.3,2438.6 1180.0,2426.0 C1185.6,2415.5 1191.1,2404.0 1196.7,2396.0 C1202.2,2388.0 1207.8,2379.3 1213.3,2376.0 C1218.9,2372.7 1224.4,2371.6 1230.0,2369.3" stroke="#000000"/>
<path d="M151.7,2256.7 C155.0,2256.7 158.3,2256.7 161.7,2256.7 C167.8,2256.7 173.9,2266.5 180.0,2274.3 C185.6,2281.5 191.1,2294.8 196.7,2306.0 C203.3,2319.5 210.0,2336.8 216.7,2349.3 C223.3,2361.9 230.0,2373.5 236.7,2382.7 C243.3,2391.8 250.0,2400.1 256.7,2406.0 C264.4,2412.9 272.2,2416.8 280.0,2422.7 C285.6,2426.9 291.1,2430.7 296.7,2436.0 C302.2,2441.3 307.8,2447.0 313.3,2456.0 C319.4,2465.9 325.6,2483.7 331.7,2502.7 C337.8,2521.7 343.9,2551.6 350.0,2576.0 C355.6,2598.2 361.1,2620.0 366.7,2642.7 C373.3,2669.9 380.0,2717.3 386.7,2726.0 C393.1,2734.4 399.6,2741.0 406.0,2741.0 C412.3,2741.0 418.7,2723.9 425.0,2709.3 C430.0,2697.8 435.0,2674.8 440.0,2656.0 C445.6,2635.1 451.1,2609.8 456.7,2589.3 C462.2,2568.9 467.8,2551.4 473.3,2532.7 C476.7,2521.5 480.0,2508.4 483.3,2499.3 C487.8,2487.3 492.2,2478.0 496.7,2469.3 C497.8,2467.2 498.9,2465.4 500.0,2463.4 C503.4,2457.2 506.9,2451.0 510.3,2444.6 C512.4,2440.7 514.6,2436.6 516.7,2432.7 C523.3,2420.2 530.0,2408.8 536.7,2396.0 C542.2,2385.4 547.8,2373.8 553.3,2362.7 C558.9,2351.6 564.4,2338.3 570.0,2329.3 C576.7,2318.6 583.3,2309.1 590.0,2302.7 C596.7,2296.3 603.3,2289.0 610.0,2287.7 C616.7,2286.3 623.3,2285.3 630.0,2285.3 C636.7,2285.3 643.3,2289.2 650.0,2292.7 C656.7,2296.2 663.3,2304.4 670.0,2311.0 C676.7,2317.6 683.3,2326.0 690.0,2332.7 C696.7,2339.3 703.3,2346.2 710.0,2351.0 C716.7,2355.8 723.3,2360.9 730.0,2362.7 C736.7,2364.4 743.3,2366.0 750.0,2366.0 C755.6,2366.0 761.1,2365.3 766.7,2364.3 C773.3,2363.2 780.0,2356.6 786.7,2352.7 C792.2,2349.4 797.8,2345.0 803.3,2342.7 C808.3,2340.5 813.3,2337.7 818.3,2337.7 C824.4,2337.7 830.6,2343.4 836.7,2349.3 C842.2,2354.7 847.8,2369.7 853.3,2382.7 C855.6,2387.8 857.8,2394.1 860.0,2400.4 C863.4,2410.2 866.9,2421.5 870.3,2432.7 C871.3,2435.9 872.3,2439.5 873.3,2442.7 C878.9,2460.4 884.4,2478.6 890.0,2492.7 C896.7,2509.5 903.3,2528.0 910.0,2536.0 C916.7,2544.0 923.3,2552.7 930.0,2552.7 C936.1,2552.7 942.2,2552.0 948.3,2551.0 C955.6,2549.8 962.8,2539.1 970.0,2532.7 C977.8,2525.8 985.6,2517.6 993.3,2511.0 C1001.1,2504.4 1008.9,2497.5 1016.7,2492.7 C1026.7,2486.5 1036.7,2482.3 1046.7,2477.7 C1055.6,2473.5 1064.4,2470.2 1073.3,2466.0 C1081.1,2462.4 1088.9,2459.1 1096.7,2454.3 C1104.4,2449.6 1112.2,2443.3 1120.0,2436.0 C1126.7,2429.7 1133.3,2422.2 1140.0,2412.7 C1146.7,2403.2 1153.3,2389.2 1160.0,2376.0 C1166.7,2362.8 1173.3,2347.2 1180.0,2332.7 C1185.6,2320.5 1191.1,2306.3 1196.7,2296.0 C1202.2,2285.7 1207.8,2272.9 1213.3,2269.3 C1218.9,2265.8 1224.4,2264.9 1230.0,2262.7" stroke="#2a00ff"/>
<path d="M151.7,2244.3 C155.0,2244.9 158.3,2245.1 161.7,2246.0 C167.8,2247.6 173.9,2258.0 180.0,2266.0 C185.6,2273.2 191.1,2283.2 196.7,2292.7 C203.3,2304.0 210.0,2319.4 216.7,2329.3 C223.3,2339.2 230.0,2347.7 236.7,2354.3 C243.3,2361.0 250.0,2366.8 256.7,2371.0 C264.4,2375.9 272.2,2378.4 280.0,2382.7 C285.6,2385.7 291.1,2388.5 296.7,2392.7 C302.2,2396.8 307.8,2402.2 313.3,2409.3 C319.4,2417.2 325.6,2428.7 331.7,2442.7 C337.8,2456.7 343.9,2479.0 350.0,2499.3 C355.6,2517.8 361.1,2540.1 366.7,2559.3 C373.3,2582.4 380.0,2614.8 386.7,2626.0 C393.1,2636.8 399.6,2647.7 406.0,2647.7 C412.3,2647.7 418.7,2636.8 425.0,2626.0 C430.0,2617.5 435.0,2595.6 440.0,2579.3 C445.6,2561.3 451.1,2540.4 456.7,2522.7 C462.2,2505.0 467.8,2485.8 473.3,2472.7 C476.7,2464.8 480.0,2458.9 483.3,2452.7 C487.8,2444.3 492.2,2437.2 496.7,2429.3 C497.8,2427.4 498.9,2425.4 500.0,2423.4 C503.4,2417.2 506.9,2411.0 510.3,2404.6 C512.4,2400.7 514.6,2396.4 516.7,2392.7 C523.3,2380.7 530.0,2370.2 536.7,2359.3 C542.2,2350.3 547.8,2341.6 553.3,2332.7 C558.9,2323.8 564.4,2313.5 570.0,2306.0 C576.7,2297.0 583.3,2289.1 590.0,2282.7 C596.7,2276.2 603.3,2266.6 610.0,2266.0 C616.7,2265.4 623.3,2265.0 630.0,2265.0 C636.7,2265.0 643.3,2269.3 650.0,2272.7 C656.7,2276.0 663.3,2282.7 670.0,2287.7 C676.7,2292.7 683.3,2297.4 690.0,2302.7 C696.7,2307.9 703.3,2314.8 710.0,2319.3 C716.7,2323.9 723.3,2328.7 730.0,2331.0 C736.7,2333.3 743.3,2336.0 750.0,2336.0 C755.6,2336.0 761.1,2335.7 766.7,2335.3 C773.3,2334.9 780.0,2330.3 786.7,2327.7 C792.2,2325.5 797.8,2322.0 803.3,2321.0 C808.3,2320.1 813.3,2319.3 818.3,2319.3 C824.4,2319.3 830.6,2324.3 836.7,2329.3 C842.2,2333.9 847.8,2346.1 853.3,2356.0 C855.6,2360.0 857.8,2364.6 860.0,2369.1 C863.4,2376.0 866.9,2384.0 870.3,2390.6 C871.3,2392.5 872.3,2394.0 873.3,2396.0 C878.9,2407.1 884.4,2423.3 890.0,2436.0 C896.7,2451.2 903.3,2471.3 910.0,2479.3 C916.7,2487.4 923.3,2496.0 930.0,2496.0 C936.1,2496.0 942.2,2494.2 948.3,2492.0 C955.6,2489.4 962.8,2476.1 970.0,2469.3 C977.8,2462.0 985.6,2454.7 993.3,2449.3 C1001.1,2444.0 1008.9,2439.3 1016.7,2436.0 C1026.7,2431.7 1036.7,2429.2 1046.7,2426.0 C1055.6,2423.1 1064.4,2420.9 1073.3,2417.7 C1081.1,2414.8 1088.9,2412.0 1096.7,2407.7 C1104.4,2403.4 1112.2,2396.2 1120.0,2389.3 C1126.7,2383.4 1133.3,2377.7 1140.0,2369.3 C1146.7,2361.0 1153.3,2347.6 1160.0,2336.0 C1166.7,2324.4 1173.3,2310.7 1180.0,2299.3 C1185.6,2289.9 1191.1,2279.5 1196.7,2272.7 C1202.2,2265.8 1207.8,2258.6 1213.3,2256.0 C1218.9,2253.4 1224.4,2252.7 1230.0,2251.0" stroke="#007a1a"/>
<path d="M151.7,2188.7 C155.0,2188.9 158.3,2188.9 161.7,2189.3 C167.8,2190.0 173.9,2200.3 180.0,2207.7 C185.6,2214.4 191.1,2223.9 196.7,2232.7 C203.3,2243.2 210.0,2256.1 216.7,2266.0 C223.3,2275.9 230.0,2285.4 236.7,2292.7 C243.3,2299.9 250.0,2306.3 256.7,2311.0 C264.4,2316.5 272.2,2320.7 280.0,2324.3 C285.6,2326.9 291.1,2328.0 296.7,2331.0 C302.2,2334.0 307.8,2338.5 313.3,2344.3 C319.4,2350.7 325.6,2360.3 331.7,2372.7 C337.8,2385.0 343.9,2406.3 350.0,2426.0 C355.6,2443.9 361.1,2467.2 366.7,2486.0 C373.3,2508.5 380.0,2539.6 386.7,2549.3 C393.1,2558.7 399.6,2567.7 406.0,2567.7 C412.3,2567.7 418.7,2556.8 425.0,2546.0 C430.0,2537.5 435.0,2515.1 440.0,2499.3 C445.6,2481.8 451.1,2462.6 456.7,2446.0 C462.2,2429.4 467.8,2411.2 473.3,2399.3 C477.8,2389.8 482.2,2383.0 486.7,2376.0 C491.1,2369.0 495.6,2362.8 500.0,2357.0 C503.4,2352.4 506.9,2348.6 510.3,2344.3 C512.4,2341.6 514.6,2338.8 516.7,2336.0 C523.3,2327.2 530.0,2319.1 536.7,2309.3 C542.2,2301.2 547.8,2291.6 553.3,2282.7 C558.9,2273.8 564.4,2264.1 570.0,2256.0 C576.7,2246.3 583.3,2237.0 590.0,2229.3 C596.7,2221.7 603.3,2211.5 610.0,2209.3 C615.6,2207.5 621.1,2206.0 626.7,2206.0 C633.3,2206.0 640.0,2208.6 646.7,2211.0 C654.4,2213.8 662.2,2221.7 670.0,2227.7 C676.7,2232.8 683.3,2239.1 690.0,2244.3 C696.7,2249.6 703.3,2255.1 710.0,2259.3 C716.7,2263.6 723.3,2268.4 730.0,2270.3 C736.7,2272.3 743.3,2274.3 750.0,2274.3 C755.6,2274.3 761.1,2273.5 766.7,2272.7 C773.3,2271.7 780.0,2268.4 786.7,2266.0 C792.2,2264.0 797.8,2260.3 803.3,2259.3 C808.3,2258.5 813.3,2257.7 818.3,2257.7 C824.4,2257.7 830.6,2262.7 836.7,2267.7 C842.2,2272.1 847.8,2283.0 853.3,2292.7 C855.6,2296.5 857.8,2301.2 860.0,2305.7 C863.4,2312.7 866.9,2320.7 870.3,2327.3 C871.3,2329.2 872.3,2330.7 873.3,2332.7 C878.9,2343.8 884.4,2361.1 890.0,2372.7 C896.7,2386.6 903.3,2402.8 910.0,2409.3 C916.7,2415.9 923.3,2422.7 930.0,2422.7 C936.1,2422.7 942.2,2422.4 948.3,2422.0 C955.6,2421.5 962.8,2411.7 970.0,2406.0 C977.8,2399.8 985.6,2391.3 993.3,2386.0 C1001.1,2380.7 1008.9,2376.0 1016.7,2372.7 C1026.7,2368.4 1036.7,2365.9 1046.7,2362.7 C1055.6,2359.8 1064.4,2357.8 1073.3,2354.3 C1081.1,2351.3 1088.9,2347.4 1096.7,2342.7 C1104.4,2337.9 1112.2,2331.4 1120.0,2324.3 C1126.7,2318.2 1133.3,2311.1 1140.0,2302.7 C1146.7,2294.3 1153.3,2283.2 1160.0,2272.7 C1166.7,2262.1 1173.3,2250.9 1180.0,2239.3 C1185.6,2229.7 1191.1,2216.9 1196.7,2209.3 C1202.2,2201.7 1207.8,2193.3 1213.3,2191.0 C1218.9,2188.7 1224.4,2188.1 1230.0,2186.7" stroke="#ff8c26"/>
<path d="M151.7,2132.7 C155.0,2133.2 158.3,2133.5 161.7,2134.3 C167.8,2135.9 173.9,2143.0 180.0,2149.3 C185.6,2155.1 191.1,2165.1 196.7,2172.7 C203.3,2181.8 210.0,2190.4 216.7,2199.3 C223.3,2208.2 230.0,2218.8 236.7,2226.0 C243.3,2233.2 250.0,2240.0 256.7,2244.3 C264.4,2249.4 272.2,2252.6 280.0,2256.0 C285.6,2258.5 291.1,2259.8 296.7,2262.7 C302.2,2265.5 307.8,2269.2 313.3,2274.3 C319.4,2280.0 325.6,2288.0 331.7,2299.3 C337.8,2310.7 343.9,2333.5 350.0,2352.7 C355.6,2370.1 361.1,2391.1 366.7,2409.3 C373.3,2431.2 380.0,2460.5 386.7,2472.7 C393.1,2484.5 399.6,2497.7 406.0,2497.7 C412.3,2497.7 418.7,2490.7 425.0,2482.7 C430.0,2476.3 435.0,2454.5 440.0,2439.3 C445.6,2422.5 451.1,2403.2 456.7,2386.0 C462.2,2368.8 467.8,2349.1 473.3,2336.0 C476.7,2328.1 480.0,2321.8 483.3,2316.0 C487.8,2308.3 492.2,2302.2 496.7,2296.0 C497.8,2294.5 498.9,2293.0 500.0,2291.6 C503.4,2287.2 506.9,2282.9 510.3,2279.1 C512.4,2276.8 514.6,2274.9 516.7,2272.7 C523.3,2265.5 530.0,2257.8 536.7,2249.3 C542.2,2242.2 547.8,2234.3 553.3,2226.0 C558.9,2217.7 564.4,2207.9 570.0,2199.3 C576.7,2189.0 583.3,2177.3 590.0,2169.3 C596.7,2161.3 603.3,2152.5 610.0,2149.3 C617.2,2145.9 624.4,2142.7 631.7,2142.7 C637.8,2142.7 643.9,2144.3 650.0,2146.0 C656.7,2147.8 663.3,2153.3 670.0,2157.7 C676.7,2162.0 683.3,2168.0 690.0,2172.7 C696.7,2177.4 703.3,2181.9 710.0,2186.0 C716.7,2190.1 723.3,2195.3 730.0,2197.7 C736.7,2200.0 743.3,2202.7 750.0,2202.7 C755.6,2202.7 761.1,2201.7 766.7,2201.0 C773.3,2200.2 780.0,2198.5 786.7,2197.7 C792.2,2197.0 797.8,2196.0 803.3,2196.0 C808.3,2196.0 813.3,2196.0 818.3,2196.0 C824.4,2196.0 830.6,2201.0 836.7,2206.0 C842.2,2210.6 847.8,2223.1 853.3,2232.7 C855.6,2236.5 857.8,2240.6 860.0,2244.8 C863.4,2251.2 866.9,2259.2 870.3,2264.8 C871.3,2266.5 872.3,2267.6 873.3,2269.3 C878.9,2278.8 884.4,2294.9 890.0,2306.0 C896.7,2319.4 903.3,2335.3 910.0,2342.7 C916.7,2350.0 923.3,2358.3 930.0,2358.3 C936.1,2358.3 942.2,2358.1 948.3,2357.7 C955.6,2357.2 962.8,2347.1 970.0,2341.0 C977.8,2334.5 985.6,2325.2 993.3,2319.3 C1001.1,2313.4 1008.9,2308.1 1016.7,2304.3 C1026.7,2299.4 1036.7,2295.2 1046.7,2292.7 C1055.6,2290.4 1064.4,2289.9 1073.3,2287.7 C1081.1,2285.7 1088.9,2283.0 1096.7,2279.3 C1104.4,2275.6 1112.2,2269.6 1120.0,2262.7 C1126.7,2256.7 1133.3,2248.5 1140.0,2239.3 C1146.7,2230.2 1153.3,2217.6 1160.0,2206.0 C1166.7,2194.4 1173.3,2182.1 1180.0,2169.3 C1185.6,2158.7 1191.1,2142.9 1196.7,2136.0 C1202.2,2129.1 1207.8,2123.5 1213.3,2121.0 C1218.9,2118.5 1224.4,2117.7 1230.0,2116.0" stroke="#ff1f8f"/>
<path d="M151.7,2049.3 C155.6,2049.3 159.4,2049.3 163.3,2049.3 C168.9,2049.3 174.4,2057.3 180.0,2062.7 C185.6,2068.0 191.1,2075.3 196.7,2082.7 C203.3,2091.5 210.0,2103.0 216.7,2112.7 C223.3,2122.4 230.0,2134.0 236.7,2141.0 C243.3,2148.0 250.0,2153.5 256.7,2157.7 C264.4,2162.6 272.2,2166.5 280.0,2169.3 C285.6,2171.4 291.1,2172.1 296.7,2174.3 C302.2,2176.6 307.8,2179.6 313.3,2184.3 C318.9,2189.1 324.4,2198.5 330.0,2209.3 C336.7,2222.3 343.3,2244.8 350.0,2266.0 C355.6,2283.7 361.1,2307.2 366.7,2326.0 C373.3,2348.5 380.0,2377.7 386.7,2389.3 C393.1,2400.6 399.6,2412.7 406.0,2412.7 C412.3,2412.7 418.7,2404.5 425.0,2396.0 C430.0,2389.3 435.0,2370.9 440.0,2356.0 C445.6,2339.4 451.1,2316.4 456.7,2299.3 C462.2,2282.3 467.8,2265.6 473.3,2252.7 C477.8,2242.4 482.2,2234.3 486.7,2226.0 C491.1,2217.7 495.6,2209.7 500.0,2202.7 C503.4,2197.2 506.9,2192.3 510.3,2187.6 C512.4,2184.7 514.6,2182.1 516.7,2179.3 C523.3,2170.6 530.0,2161.8 536.7,2152.7 C542.2,2145.1 547.8,2137.6 553.3,2129.3 C558.9,2121.0 564.4,2110.2 570.0,2102.7 C576.7,2093.6 583.3,2084.8 590.0,2079.3 C596.7,2073.9 603.3,2067.5 610.0,2066.7 C616.7,2065.9 623.3,2065.3 630.0,2065.3 C635.6,2065.3 641.1,2068.5 646.7,2071.0 C653.3,2074.0 660.0,2079.9 666.7,2084.3 C673.3,2088.8 680.0,2093.2 686.7,2097.7 C693.3,2102.1 700.0,2107.2 706.7,2111.0 C713.3,2114.8 720.0,2119.1 726.7,2121.0 C733.3,2122.9 740.0,2125.0 746.7,2125.0 C752.2,2125.0 757.8,2124.2 763.3,2123.3 C770.0,2122.3 776.7,2118.6 783.3,2116.0 C788.9,2113.9 794.4,2110.5 800.0,2109.3 C805.6,2108.2 811.1,2107.0 816.7,2107.0 C823.3,2107.0 830.0,2111.2 836.7,2116.0 C842.2,2120.0 847.8,2133.5 853.3,2142.7 C855.6,2146.3 857.8,2150.0 860.0,2153.8 C863.4,2159.7 866.9,2167.0 870.3,2172.1 C871.3,2173.5 872.3,2174.4 873.3,2176.0 C877.8,2183.0 882.2,2196.9 886.7,2206.0 C894.4,2222.0 902.2,2239.5 910.0,2249.3 C916.7,2257.7 923.3,2268.7 930.0,2268.7 C936.1,2268.7 942.2,2268.7 948.3,2268.7 C955.6,2268.7 962.8,2258.4 970.0,2252.7 C977.8,2246.5 985.6,2238.4 993.3,2232.7 C1001.1,2227.0 1008.9,2221.5 1016.7,2217.7 C1026.7,2212.8 1036.7,2209.5 1046.7,2206.0 C1055.6,2202.9 1064.4,2200.6 1073.3,2197.7 C1081.1,2195.1 1088.9,2193.0 1096.7,2189.3 C1104.4,2185.6 1112.2,2179.2 1120.0,2172.7 C1126.7,2167.1 1133.3,2160.3 1140.0,2152.7 C1146.7,2145.0 1153.3,2135.9 1160.0,2126.0 C1166.7,2116.1 1173.3,2103.5 1180.0,2092.7 C1185.6,2083.6 1191.1,2072.4 1196.7,2066.0 C1202.2,2059.6 1207.8,2052.8 1213.3,2051.0 C1218.9,2049.2 1224.4,2048.8 1230.0,2047.7" stroke="#ff1f1f"/>
<path d="M155.0,3204.7 C157.8,3205.2 160.6,3205.4 163.3,3206.3 C168.9,3208.1 174.4,3220.2 180.0,3229.7 C185.6,3239.2 191.1,3254.1 196.7,3266.3 C202.2,3278.6 207.8,3291.4 213.3,3303.0 C218.9,3314.6 224.4,3327.7 230.0,3336.3 C236.7,3346.7 243.3,3356.6 250.0,3361.3 C256.7,3366.1 263.3,3368.0 270.0,3371.3 C275.6,3374.1 281.1,3376.3 286.7,3379.7 C293.9,3384.0 301.1,3387.9 308.3,3396.3 C313.9,3402.8 319.4,3417.8 325.0,3433.0 C331.1,3449.7 337.2,3473.9 343.3,3499.7 C348.9,3523.1 354.4,3555.2 360.0,3583.0 C366.7,3616.3 373.3,3656.3 380.0,3683.0 C386.7,3709.7 393.3,3749.7 400.0,3749.7 C402.2,3749.7 404.4,3749.7 406.7,3749.7 C411.1,3749.7 415.6,3743.3 420.0,3736.3 C425.6,3727.6 431.1,3693.4 436.7,3669.7 C442.2,3645.9 447.8,3619.6 453.3,3593.0 C458.9,3566.4 464.4,3532.9 470.0,3509.7 C475.6,3486.4 481.1,3466.4 486.7,3449.7 C492.2,3432.9 497.8,3417.9 503.3,3406.3 C505.6,3401.7 507.8,3398.4 510.0,3394.2 C513.4,3387.6 516.9,3380.6 520.3,3373.4 C522.4,3369.0 524.6,3364.4 526.7,3359.7 C532.2,3347.1 537.8,3333.3 543.3,3319.7 C550.0,3303.4 556.7,3285.1 563.3,3269.7 C570.0,3254.2 576.7,3233.4 583.3,3226.3 C590.6,3218.7 597.8,3211.3 605.0,3211.3 C611.1,3211.3 617.2,3211.7 623.3,3212.3 C630.0,3213.0 636.7,3222.7 643.3,3229.7 C650.0,3236.7 656.7,3247.4 663.3,3256.3 C670.0,3265.2 676.7,3275.8 683.3,3283.0 C690.0,3290.2 696.7,3297.0 703.3,3301.3 C710.0,3305.6 716.7,3309.7 723.3,3311.3 C730.0,3313.0 736.7,3314.7 743.3,3314.7 C748.9,3314.7 754.4,3313.9 760.0,3313.0 C765.6,3312.1 771.1,3308.9 776.7,3306.3 C781.7,3304.0 786.7,3299.7 791.7,3298.0 C797.8,3295.9 803.9,3293.7 810.0,3293.7 C816.7,3293.7 823.3,3302.7 830.0,3311.3 C835.6,3318.5 841.1,3335.2 846.7,3349.7 C852.2,3364.1 857.8,3380.7 863.3,3399.7 C865.6,3407.3 867.8,3417.0 870.0,3425.0 C873.4,3437.5 876.9,3449.4 880.3,3460.4 C882.4,3467.2 884.6,3473.4 886.7,3479.7 C892.2,3496.2 897.8,3519.7 903.3,3528.0 C909.4,3537.2 915.6,3546.3 921.7,3546.3 C927.8,3546.3 933.9,3544.1 940.0,3541.3 C945.6,3538.8 951.1,3527.4 956.7,3519.7 C963.3,3510.4 970.0,3499.1 976.7,3489.7 C983.3,3480.3 990.0,3470.6 996.7,3463.0 C1004.4,3454.1 1012.2,3444.3 1020.0,3439.7 C1027.8,3435.0 1035.6,3433.0 1043.3,3429.7 C1052.2,3425.8 1061.1,3423.2 1070.0,3418.0 C1076.7,3414.1 1083.3,3407.6 1090.0,3401.3 C1096.7,3395.1 1103.3,3387.6 1110.0,3379.7 C1116.7,3371.7 1123.3,3363.3 1130.0,3353.0 C1135.6,3344.5 1141.1,3333.5 1146.7,3323.0 C1152.2,3312.5 1157.8,3300.8 1163.3,3289.7 C1168.9,3278.6 1174.4,3266.3 1180.0,3256.3 C1187.2,3243.4 1194.4,3226.0 1201.7,3221.3 C1205.6,3218.8 1209.4,3216.3 1213.3,3216.3 C1217.2,3216.3 1221.1,3219.0 1225.0,3220.3" stroke="#000000"/>
<path d="M155.0,3149.0 C156.7,3149.2 158.3,3149.3 160.0,3149.7 C165.6,3150.8 171.1,3163.5 176.7,3173.0 C182.2,3182.5 187.8,3197.1 193.3,3209.7 C200.0,3224.8 206.7,3242.0 213.3,3256.3 C219.4,3269.5 225.6,3283.5 231.7,3293.0 C237.8,3302.5 243.9,3311.0 250.0,3316.3 C256.7,3322.2 263.3,3325.5 270.0,3329.7 C275.6,3333.2 281.1,3335.7 286.7,3339.7 C293.9,3344.9 301.1,3349.8 308.3,3359.7 C313.9,3367.2 319.4,3383.7 325.0,3399.7 C331.1,3417.3 337.2,3440.5 343.3,3466.3 C348.9,3489.8 354.4,3521.9 360.0,3549.7 C366.7,3583.0 373.3,3617.8 380.0,3649.7 C386.7,3681.6 393.3,3741.3 400.0,3741.3 C406.7,3741.3 413.3,3733.5 420.0,3723.0 C425.6,3714.3 431.1,3670.7 436.7,3643.0 C442.2,3615.3 447.8,3585.8 453.3,3556.3 C458.9,3526.9 464.4,3491.1 470.0,3466.3 C475.6,3441.6 481.1,3419.3 486.7,3403.0 C492.2,3386.7 497.8,3371.7 503.3,3363.0 C505.6,3359.5 507.8,3357.9 510.0,3354.7 C513.4,3349.7 516.9,3343.5 520.3,3336.8 C522.4,3332.6 524.6,3327.8 526.7,3323.0 C532.2,3310.4 537.8,3296.6 543.3,3283.0 C550.0,3266.7 556.7,3250.2 563.3,3233.0 C570.0,3215.8 576.7,3188.3 583.3,3179.7 C590.6,3170.3 597.8,3161.3 605.0,3161.3 C611.1,3161.3 617.2,3161.3 623.3,3161.3 C630.0,3161.3 636.7,3170.2 643.3,3176.3 C650.0,3182.4 656.7,3191.9 663.3,3199.7 C670.0,3207.4 676.7,3215.8 683.3,3223.0 C690.0,3230.2 696.7,3237.7 703.3,3243.0 C710.0,3248.3 716.7,3253.6 723.3,3256.3 C728.9,3258.6 734.4,3261.3 740.0,3261.3 C745.6,3261.3 751.1,3260.6 756.7,3259.7 C762.2,3258.7 767.8,3254.2 773.3,3251.3 C779.4,3248.1 785.6,3241.9 791.7,3241.3 C797.8,3240.7 803.9,3240.3 810.0,3240.3 C816.7,3240.3 823.3,3250.4 830.0,3259.7 C835.6,3267.4 841.1,3284.0 846.7,3299.7 C852.2,3315.3 857.8,3335.8 863.3,3356.3 C865.6,3364.5 867.8,3374.1 870.0,3382.6 C873.4,3395.8 876.9,3408.6 880.3,3421.0 C882.4,3428.5 884.6,3435.8 886.7,3443.0 C892.2,3461.9 897.8,3488.8 903.3,3498.0 C909.4,3508.1 915.6,3518.0 921.7,3518.0 C927.8,3518.0 933.9,3516.6 940.0,3514.7 C945.6,3512.9 951.1,3500.7 956.7,3493.0 C963.3,3483.7 970.0,3473.5 976.7,3463.0 C983.3,3452.5 990.0,3437.3 996.7,3429.7 C1004.4,3420.8 1012.2,3415.0 1020.0,3409.7 C1027.8,3404.3 1035.6,3400.5 1043.3,3396.3 C1052.2,3391.6 1061.1,3388.6 1070.0,3383.0 C1076.7,3378.8 1083.3,3372.8 1090.0,3366.3 C1096.7,3359.9 1103.3,3351.8 1110.0,3343.0 C1116.7,3334.2 1123.3,3323.9 1130.0,3313.0 C1135.6,3303.9 1141.1,3293.5 1146.7,3283.0 C1152.2,3272.5 1157.8,3262.2 1163.3,3249.7 C1168.9,3237.1 1174.4,3217.8 1180.0,3206.3 C1187.2,3191.4 1194.4,3174.3 1201.7,3169.7 C1205.6,3167.2 1209.4,3164.7 1213.3,3164.7 C1217.2,3164.7 1221.1,3166.9 1225.0,3168.0" stroke="#2a00ff"/>
<path d="M155.0,3114.7 C157.8,3115.2 160.6,3115.4 163.3,3116.3 C168.9,3118.2 174.4,3132.7 180.0,3143.0 C185.6,3153.3 191.1,3166.4 196.7,3179.7 C202.2,3192.9 207.8,3209.2 213.3,3223.0 C219.4,3238.1 225.6,3256.4 231.7,3266.3 C238.9,3278.1 246.1,3287.3 253.3,3293.0 C260.0,3298.3 266.7,3300.7 273.3,3304.7 C278.9,3308.0 284.4,3310.3 290.0,3314.7 C296.1,3319.5 302.2,3326.6 308.3,3336.3 C313.9,3345.2 319.4,3360.3 325.0,3376.3 C331.1,3393.9 337.2,3417.7 343.3,3443.0 C348.9,3466.0 354.4,3496.7 360.0,3523.0 C366.7,3554.6 373.3,3586.7 380.0,3616.3 C386.7,3646.0 393.3,3701.3 400.0,3701.3 C406.7,3701.3 413.3,3689.7 420.0,3676.3 C425.6,3665.2 431.1,3626.3 436.7,3599.7 C442.2,3573.0 447.8,3542.3 453.3,3516.3 C458.9,3490.3 464.4,3466.3 470.0,3443.0 C475.6,3419.7 481.1,3394.6 486.7,3376.3 C492.2,3358.0 497.8,3338.0 503.3,3329.7 C505.6,3326.3 507.8,3325.2 510.0,3322.3 C513.4,3317.7 516.9,3311.3 520.3,3304.3 C522.4,3300.1 524.6,3294.6 526.7,3289.7 C532.2,3276.6 537.8,3263.3 543.3,3249.7 C550.0,3233.4 556.7,3215.8 563.3,3199.7 C570.0,3183.6 576.7,3161.3 583.3,3153.0 C590.6,3144.0 597.8,3135.4 605.0,3134.7 C611.1,3134.1 617.2,3133.7 623.3,3133.7 C630.0,3133.7 636.7,3141.0 643.3,3146.3 C650.0,3151.7 656.7,3160.8 663.3,3168.0 C670.0,3175.2 676.7,3182.7 683.3,3189.7 C690.0,3196.6 696.7,3203.6 703.3,3209.7 C710.0,3215.7 716.7,3222.2 723.3,3226.3 C728.9,3229.8 734.4,3234.7 740.0,3234.7 C745.6,3234.7 751.1,3234.7 756.7,3234.7 C762.2,3234.7 767.8,3231.8 773.3,3229.7 C779.4,3227.3 785.6,3221.7 791.7,3219.7 C797.8,3217.7 803.9,3215.3 810.0,3215.3 C816.7,3215.3 823.3,3224.3 830.0,3233.0 C835.6,3240.3 841.1,3257.4 846.7,3273.0 C852.2,3288.6 857.8,3312.3 863.3,3329.7 C865.6,3336.6 867.8,3342.4 870.0,3349.3 C873.4,3360.0 876.9,3371.5 880.3,3383.4 C882.4,3390.7 884.6,3399.3 886.7,3406.3 C892.2,3424.8 897.8,3447.4 903.3,3456.3 C909.4,3466.2 915.6,3476.3 921.7,3476.3 C927.8,3476.3 933.9,3474.6 940.0,3472.3 C945.6,3470.3 951.1,3460.2 956.7,3453.0 C963.3,3444.3 970.0,3431.8 976.7,3423.0 C983.3,3414.2 990.0,3406.3 996.7,3399.7 C1004.4,3392.0 1012.2,3384.6 1020.0,3379.7 C1027.8,3374.8 1035.6,3371.3 1043.3,3368.0 C1052.2,3364.2 1061.1,3362.3 1070.0,3358.0 C1076.7,3354.8 1083.3,3350.2 1090.0,3344.7 C1096.7,3339.2 1103.3,3331.0 1110.0,3323.0 C1116.7,3315.0 1123.3,3306.6 1130.0,3296.3 C1135.6,3287.8 1141.1,3277.3 1146.7,3266.3 C1152.2,3255.3 1157.8,3241.9 1163.3,3229.7 C1168.9,3217.4 1174.4,3206.4 1180.0,3193.0 C1187.2,3175.6 1194.4,3141.9 1201.7,3134.7 C1205.6,3130.8 1209.4,3127.0 1213.3,3127.0 C1217.2,3127.0 1221.1,3127.7 1225.0,3128.0" stroke="#007a1a"/>
<path d="M155.0,3091.3 C157.8,3091.9 160.6,3092.1 163.3,3093.0 C168.9,3094.8 174.4,3106.8 180.0,3116.3 C185.6,3125.8 191.1,3140.8 196.7,3153.0 C202.2,3165.2 207.8,3177.5 213.3,3189.7 C219.4,3203.1 225.6,3220.4 231.7,3229.7 C238.9,3240.7 246.1,3248.1 253.3,3254.7 C260.0,3260.7 266.7,3265.7 273.3,3269.7 C278.9,3273.0 284.4,3274.6 290.0,3278.0 C296.1,3281.8 302.2,3285.7 308.3,3293.0 C313.9,3299.7 319.4,3315.1 325.0,3329.7 C331.1,3345.7 337.2,3366.2 343.3,3389.7 C348.9,3411.0 354.4,3440.6 360.0,3466.3 C366.7,3497.2 373.3,3530.9 380.0,3559.7 C386.7,3588.4 393.3,3639.7 400.0,3639.7 C406.7,3639.7 413.3,3630.6 420.0,3619.7 C425.6,3610.5 431.1,3574.1 436.7,3549.7 C442.2,3525.3 447.8,3498.0 453.3,3473.0 C458.9,3448.0 464.4,3421.7 470.0,3399.7 C475.6,3377.7 481.1,3355.7 486.7,3339.7 C492.2,3323.7 497.8,3308.8 503.3,3299.7 C505.6,3296.0 507.8,3294.2 510.0,3290.8 C513.4,3285.6 516.9,3278.8 520.3,3271.5 C522.4,3267.0 524.6,3261.4 526.7,3256.3 C532.2,3243.0 537.8,3230.3 543.3,3216.3 C550.0,3199.5 556.7,3178.9 563.3,3163.0 C570.0,3147.1 576.7,3128.3 583.3,3119.7 C590.6,3110.3 597.8,3100.8 605.0,3099.7 C611.1,3098.7 617.2,3098.0 623.3,3098.0 C630.0,3098.0 636.7,3108.4 643.3,3114.7 C650.0,3120.9 656.7,3129.4 663.3,3136.3 C670.0,3143.3 676.7,3149.4 683.3,3156.3 C690.0,3163.3 696.7,3171.7 703.3,3178.0 C710.0,3184.3 716.7,3191.5 723.3,3194.7 C728.9,3197.3 734.4,3200.3 740.0,3200.3 C745.6,3200.3 751.1,3199.7 756.7,3199.0 C762.2,3198.3 767.8,3195.2 773.3,3193.0 C779.4,3190.5 785.6,3184.7 791.7,3184.7 C798.3,3184.7 805.0,3184.9 811.7,3185.3 C817.8,3185.7 823.9,3196.8 830.0,3206.3 C835.6,3215.0 841.1,3231.1 846.7,3246.3 C852.2,3261.6 857.8,3283.7 863.3,3299.7 C865.6,3306.0 867.8,3311.3 870.0,3317.4 C873.4,3326.9 876.9,3336.9 880.3,3347.1 C882.4,3353.3 884.6,3360.3 886.7,3366.3 C892.2,3382.1 897.8,3401.1 903.3,3409.7 C909.4,3419.1 915.6,3429.7 921.7,3429.7 C927.8,3429.7 933.9,3428.3 940.0,3426.3 C945.6,3424.6 951.1,3413.3 956.7,3406.3 C963.3,3397.9 970.0,3388.6 976.7,3379.7 C983.3,3370.8 990.0,3360.0 996.7,3353.0 C1004.4,3344.8 1012.2,3337.9 1020.0,3333.0 C1027.8,3328.1 1035.6,3325.0 1043.3,3321.3 C1052.2,3317.2 1061.1,3314.4 1070.0,3309.7 C1076.7,3306.1 1083.3,3301.7 1090.0,3296.3 C1096.7,3291.0 1103.3,3284.3 1110.0,3276.3 C1116.7,3268.3 1123.3,3257.8 1130.0,3246.3 C1135.6,3236.8 1141.1,3224.6 1146.7,3213.0 C1152.2,3201.4 1157.8,3189.1 1163.3,3176.3 C1168.9,3163.6 1174.4,3147.2 1180.0,3136.3 C1187.2,3122.3 1194.4,3104.6 1201.7,3101.3 C1205.6,3099.6 1209.4,3098.0 1213.3,3098.0 C1217.2,3098.0 1221.1,3100.2 1225.0,3101.3" stroke="#ff8c26"/>
<path d="M155.0,3053.0 C157.8,3056.3 160.6,3059.2 163.3,3063.0 C168.9,3070.5 174.4,3079.8 180.0,3089.7 C185.6,3099.5 191.1,3111.9 196.7,3123.0 C202.2,3134.1 207.8,3145.2 213.3,3156.3 C219.4,3168.6 225.6,3185.2 231.7,3193.0 C238.9,3202.2 246.1,3209.5 253.3,3213.0 C260.0,3216.2 266.7,3217.0 273.3,3219.7 C278.9,3221.9 284.4,3224.4 290.0,3228.0 C296.1,3231.9 302.2,3237.1 308.3,3244.7 C313.9,3251.5 319.4,3263.0 325.0,3276.3 C331.1,3291.0 337.2,3312.5 343.3,3336.3 C348.9,3358.0 354.4,3391.0 360.0,3416.3 C366.7,3446.7 373.3,3476.5 380.0,3503.0 C386.7,3529.5 393.3,3576.3 400.0,3576.3 C406.7,3576.3 413.3,3569.0 420.0,3559.7 C425.6,3551.8 431.1,3516.8 436.7,3493.0 C442.2,3469.2 447.8,3441.3 453.3,3416.3 C458.9,3391.3 464.4,3363.6 470.0,3343.0 C475.6,3322.4 481.1,3304.9 486.7,3289.7 C492.2,3274.4 497.8,3258.4 503.3,3249.7 C505.6,3246.2 507.8,3244.7 510.0,3241.3 C513.4,3236.0 516.9,3228.6 520.3,3220.4 C522.4,3215.5 524.6,3208.7 526.7,3203.0 C532.2,3188.1 537.8,3173.4 543.3,3159.7 C550.0,3143.2 556.7,3126.0 563.3,3113.0 C570.0,3100.0 576.7,3088.0 583.3,3079.7 C590.6,3070.6 597.8,3058.7 605.0,3058.0 C611.1,3057.4 617.2,3057.0 623.3,3057.0 C630.0,3057.0 636.7,3064.9 643.3,3069.7 C650.0,3074.5 656.7,3080.8 663.3,3086.3 C670.0,3091.9 676.7,3097.4 683.3,3103.0 C690.0,3108.6 696.7,3114.9 703.3,3119.7 C710.0,3124.4 716.7,3130.3 723.3,3132.0 C730.0,3133.7 736.7,3135.3 743.3,3135.3 C748.9,3135.3 754.4,3134.5 760.0,3133.7 C765.6,3132.9 771.1,3131.1 776.7,3129.7 C781.7,3128.4 786.7,3125.7 791.7,3125.7 C797.8,3125.7 803.9,3126.3 810.0,3127.3 C816.7,3128.5 823.3,3141.4 830.0,3153.0 C835.6,3162.6 841.1,3179.6 846.7,3196.3 C852.2,3213.1 857.8,3237.1 863.3,3256.3 C865.6,3264.0 867.8,3271.3 870.0,3278.8 C873.4,3290.6 876.9,3302.4 880.3,3314.3 C882.4,3321.6 884.6,3330.2 886.7,3336.3 C892.2,3352.6 897.8,3369.5 903.3,3376.3 C909.4,3383.8 915.6,3391.3 921.7,3391.3 C927.8,3391.3 933.9,3386.3 940.0,3381.3 C945.6,3376.9 951.1,3364.9 956.7,3356.3 C962.2,3347.7 967.8,3338.3 973.3,3329.7 C980.0,3319.3 986.7,3307.4 993.3,3299.7 C1001.1,3290.7 1008.9,3282.6 1016.7,3278.0 C1024.4,3273.4 1032.2,3270.8 1040.0,3268.0 C1048.9,3264.8 1057.8,3263.6 1066.7,3259.7 C1074.4,3256.3 1082.2,3249.9 1090.0,3243.0 C1096.7,3237.1 1103.3,3228.4 1110.0,3219.7 C1116.7,3210.9 1123.3,3201.6 1130.0,3189.7 C1135.6,3179.7 1141.1,3165.2 1146.7,3153.0 C1152.2,3140.8 1157.8,3128.0 1163.3,3116.3 C1170.0,3102.3 1176.7,3087.5 1183.3,3076.3 C1189.4,3066.1 1195.6,3052.4 1201.7,3049.7 C1205.6,3047.9 1209.4,3046.3 1213.3,3046.3 C1217.2,3046.3 1221.1,3049.7 1225.0,3051.3" stroke="#ff1f8f"/>
<path d="M155.0,3005.7 C156.7,3005.3 158.3,3004.7 160.0,3004.7 C165.6,3004.7 171.1,3015.4 176.7,3023.0 C182.2,3030.6 187.8,3042.0 193.3,3053.0 C198.9,3064.0 204.4,3078.0 210.0,3089.7 C216.7,3103.7 223.3,3119.8 230.0,3129.7 C236.7,3139.5 243.3,3147.8 250.0,3153.0 C256.7,3158.2 263.3,3161.4 270.0,3164.7 C276.7,3167.9 283.3,3169.6 290.0,3173.0 C296.1,3176.1 302.2,3178.7 308.3,3184.7 C314.4,3190.6 320.6,3206.8 326.7,3223.0 C332.2,3237.8 337.8,3259.7 343.3,3283.0 C348.9,3306.3 354.4,3338.6 360.0,3366.3 C366.7,3399.7 373.3,3435.1 380.0,3466.3 C386.7,3497.6 393.3,3554.7 400.0,3554.7 C406.7,3554.7 413.3,3548.2 420.0,3539.7 C425.6,3532.6 431.1,3499.5 436.7,3476.3 C442.2,3453.2 447.8,3426.3 453.3,3399.7 C458.9,3373.0 464.4,3341.0 470.0,3316.3 C475.6,3291.6 481.1,3268.0 486.7,3249.7 C492.2,3231.4 497.8,3216.9 503.3,3203.0 C505.6,3197.4 507.8,3192.8 510.0,3187.5 C513.4,3179.3 516.9,3171.0 520.3,3162.4 C522.4,3157.1 524.6,3151.6 526.7,3146.3 C532.2,3132.6 537.8,3119.5 543.3,3106.3 C550.0,3090.6 556.7,3072.2 563.3,3059.7 C570.0,3047.1 576.7,3033.4 583.3,3028.0 C590.6,3022.2 597.8,3016.3 605.0,3016.3 C611.1,3016.3 617.2,3016.7 623.3,3017.3 C630.0,3018.0 636.7,3027.1 643.3,3033.0 C650.0,3038.9 656.7,3046.3 663.3,3053.0 C670.0,3059.7 676.7,3066.3 683.3,3073.0 C690.0,3079.7 696.7,3087.8 703.3,3093.0 C710.0,3098.2 716.7,3103.9 723.3,3105.7 C730.0,3107.4 736.7,3109.0 743.3,3109.0 C747.8,3109.0 752.2,3108.0 756.7,3107.0 C762.2,3105.8 767.8,3102.4 773.3,3099.7 C779.4,3096.7 785.6,3089.7 791.7,3089.7 C798.3,3089.7 805.0,3089.7 811.7,3089.7 C817.8,3089.7 823.9,3096.4 830.0,3103.0 C835.6,3109.0 841.1,3122.7 846.7,3136.3 C852.2,3150.0 857.8,3171.3 863.3,3189.7 C865.6,3197.0 867.8,3204.9 870.0,3212.2 C873.4,3223.4 876.9,3234.3 880.3,3244.7 C882.4,3251.0 884.6,3257.0 886.7,3263.0 C892.2,3278.9 897.8,3299.7 903.3,3309.7 C909.4,3320.6 915.6,3333.7 921.7,3333.7 C927.8,3333.7 933.9,3332.7 940.0,3331.3 C946.7,3329.8 953.3,3318.1 960.0,3309.7 C966.7,3301.3 973.3,3289.3 980.0,3279.7 C985.6,3271.6 991.1,3262.8 996.7,3256.3 C1003.3,3248.5 1010.0,3241.6 1016.7,3236.3 C1024.4,3230.2 1032.2,3225.4 1040.0,3221.3 C1048.9,3216.7 1057.8,3214.1 1066.7,3209.7 C1074.4,3205.8 1082.2,3202.0 1090.0,3196.3 C1096.7,3191.5 1103.3,3184.0 1110.0,3176.3 C1116.7,3168.7 1123.3,3159.5 1130.0,3149.7 C1136.7,3139.8 1143.3,3128.5 1150.0,3116.3 C1155.6,3106.2 1161.1,3094.1 1166.7,3083.0 C1172.2,3071.9 1177.8,3059.7 1183.3,3049.7 C1189.4,3038.6 1195.6,3022.5 1201.7,3019.7 C1205.6,3017.9 1209.4,3016.3 1213.3,3016.3 C1217.2,3016.3 1221.1,3018.6 1225.0,3019.7" stroke="#ff1f1f"/>
<path d="M1251.0,361.0 C1254.0,367.3 1257.0,370.7 1260.0,380.0 C1263.3,390.3 1266.7,421.6 1270.0,440.0 C1276.7,476.7 1283.3,506.7 1290.0,540.0 C1293.3,556.7 1296.7,578.9 1300.0,590.0 C1303.3,601.1 1306.7,612.1 1310.0,615.0 C1315.0,619.4 1320.0,620.9 1325.0,622.5 C1330.0,624.1 1335.0,624.1 1340.0,626.0 C1345.0,627.9 1350.0,634.0 1355.0,640.0 C1360.0,646.0 1365.0,659.7 1370.0,665.0 C1374.7,670.0 1379.3,676.0 1384.0,676.0 C1387.7,676.0 1391.3,673.1 1395.0,670.0 C1400.0,665.8 1405.0,651.4 1410.0,640.0 C1415.0,628.6 1420.0,613.3 1425.0,600.0 C1430.0,586.7 1435.0,568.6 1440.0,560.0 C1445.0,551.4 1450.0,541.4 1455.0,541.0 C1463.3,540.3 1471.7,540.4 1480.0,540.0 C1490.0,539.6 1500.0,538.5 1510.0,538.5 C1515.0,538.5 1520.0,541.7 1525.0,545.0 C1530.0,548.3 1535.0,554.7 1540.0,565.0 C1543.3,571.9 1546.7,589.6 1550.0,605.0 C1553.3,620.4 1556.7,641.7 1560.0,660.0 C1563.3,678.3 1566.7,696.7 1570.0,715.0 C1573.3,733.3 1576.7,752.5 1580.0,770.0 C1583.3,787.5 1586.7,803.3 1590.0,820.0 C1593.3,836.7 1596.7,859.0 1600.0,870.0 C1604.2,883.7 1608.3,900.0 1612.5,900.0 C1615.0,900.0 1617.5,900.0 1620.0,900.0 C1623.3,900.0 1626.7,883.3 1630.0,870.0 C1633.3,856.7 1636.7,831.5 1640.0,810.0 C1643.3,788.5 1646.7,762.5 1650.0,740.0 C1653.3,717.5 1656.7,697.5 1660.0,675.0 C1663.3,652.5 1666.7,626.5 1670.0,605.0 C1673.3,583.5 1676.7,553.0 1680.0,545.0 C1683.3,537.0 1686.7,532.6 1690.0,530.0 C1695.0,526.1 1700.0,526.0 1705.0,522.5 C1710.0,519.0 1715.0,512.3 1720.0,505.0 C1730.0,490.3 1740.0,440.0 1750.0,440.0 C1754.2,440.0 1758.3,442.2 1762.5,445.0 C1769.7,449.9 1776.8,497.9 1784.0,530.0 C1787.3,544.9 1790.7,565.1 1794.0,580.0 C1798.2,598.6 1802.3,611.8 1806.5,630.0 C1810.7,648.2 1814.8,680.4 1819.0,690.0 C1823.2,699.6 1827.3,709.0 1831.5,709.0 C1834.0,709.0 1836.5,698.0 1839.0,690.0 C1842.3,679.3 1845.7,660.8 1849.0,645.0 C1852.3,629.2 1855.7,611.7 1859.0,595.0 C1862.3,578.3 1865.7,560.8 1869.0,545.0 C1872.3,529.2 1875.7,512.5 1879.0,500.0 C1886.0,473.8 1893.0,445.0 1900.0,435.0 C1903.3,430.2 1906.7,425.0 1910.0,425.0 C1914.2,425.0 1918.3,429.8 1922.5,435.0 C1926.7,440.2 1930.8,453.2 1935.0,470.0 C1938.0,482.1 1941.0,512.8 1944.0,530.0 C1947.3,549.1 1950.7,565.2 1954.0,580.0 C1957.3,594.8 1960.7,609.1 1964.0,620.0 C1967.3,630.9 1970.7,643.6 1974.0,647.5 C1977.3,651.4 1980.7,655.0 1984.0,655.0 C1987.3,655.0 1990.7,646.2 1994.0,640.0 C1997.3,633.8 2000.7,622.4 2004.0,615.0 C2007.3,607.6 2010.7,600.7 2014.0,595.0 C2017.3,589.3 2020.7,581.8 2024.0,580.0 C2026.5,578.7 2029.0,577.5 2031.5,577.5 C2034.8,577.5 2038.2,584.1 2041.5,590.0 C2045.7,597.4 2049.8,617.8 2054.0,630.0 C2059.0,644.6 2064.0,658.6 2069.0,670.0 C2073.2,679.5 2077.3,691.7 2081.5,695.0 C2084.8,697.6 2088.2,700.0 2091.5,700.0 C2095.7,700.0 2099.8,686.8 2104.0,680.0 C2109.0,671.8 2114.0,661.9 2119.0,655.0 C2124.0,648.1 2129.0,641.7 2134.0,637.5 C2139.0,633.3 2144.0,628.2 2149.0,627.5 C2153.2,626.9 2157.3,626.5 2161.5,626.5 C2165.7,626.5 2169.8,630.8 2174.0,635.0 C2179.0,640.0 2184.0,654.2 2189.0,665.0 C2194.0,675.8 2199.0,687.9 2204.0,700.0 C2207.3,708.1 2210.7,717.7 2214.0,725.0 C2217.0,731.5 2220.0,742.5 2223.0,742.5 C2226.7,742.5 2230.3,733.1 2234.0,725.0 C2237.3,717.7 2240.7,701.4 2244.0,690.0 C2249.0,672.9 2254.0,655.7 2259.0,640.0 C2262.3,629.5 2265.7,617.6 2269.0,610.0 C2273.2,600.5 2277.3,594.6 2281.5,587.5 C2285.3,581.0 2289.2,569.0 2293.0,569.0 C2308.3,569.0 2323.7,569.0 2339.0,569.0" stroke="#000000"/>
<path d="M1251.0,349.0 C1254.0,356.0 1257.0,360.5 1260.0,370.0 C1263.3,380.5 1266.7,404.3 1270.0,420.0 C1278.3,459.4 1286.7,505.2 1295.0,530.0 C1300.0,544.9 1305.0,558.5 1310.0,565.0 C1316.7,573.7 1323.3,577.6 1330.0,582.5 C1336.7,587.4 1343.3,589.9 1350.0,595.0 C1356.7,600.1 1363.3,608.1 1370.0,615.0 C1374.7,619.8 1379.3,630.0 1384.0,630.0 C1387.7,630.0 1391.3,627.5 1395.0,625.0 C1400.0,621.5 1405.0,610.3 1410.0,600.0 C1415.0,589.7 1420.0,572.4 1425.0,560.0 C1430.0,547.6 1435.0,531.1 1440.0,525.0 C1445.0,518.9 1450.0,514.0 1455.0,512.5 C1461.7,510.5 1468.3,510.7 1475.0,509.0 C1481.7,507.3 1488.3,503.0 1495.0,500.0 C1501.7,497.0 1508.3,491.0 1515.0,491.0 C1519.2,491.0 1523.3,493.9 1527.5,497.5 C1531.7,501.1 1535.8,516.8 1540.0,530.0 C1543.3,540.6 1546.7,554.6 1550.0,570.0 C1553.3,585.4 1556.7,606.7 1560.0,625.0 C1563.3,643.3 1566.7,661.7 1570.0,680.0 C1573.3,698.3 1576.7,716.7 1580.0,735.0 C1583.3,753.3 1586.7,776.4 1590.0,790.0 C1595.0,810.5 1600.0,832.0 1605.0,837.5 C1609.2,842.1 1613.3,846.0 1617.5,846.0 C1621.7,846.0 1625.8,833.1 1630.0,820.0 C1633.3,809.5 1636.7,781.5 1640.0,760.0 C1643.3,738.5 1646.7,711.5 1650.0,690.0 C1653.3,668.5 1656.7,649.1 1660.0,630.0 C1663.3,610.9 1666.7,590.4 1670.0,575.0 C1673.3,559.6 1676.7,543.1 1680.0,535.0 C1685.0,522.9 1690.0,516.2 1695.0,510.0 C1700.0,503.8 1705.0,501.6 1710.0,495.0 C1720.0,481.9 1730.0,453.5 1740.0,430.0 C1743.3,422.2 1746.7,405.0 1750.0,405.0 C1754.2,405.0 1758.3,405.0 1762.5,405.0 C1766.7,405.0 1770.8,432.9 1775.0,450.0 C1780.5,472.6 1786.0,506.0 1791.5,530.0 C1795.7,548.2 1799.8,562.7 1804.0,580.0 C1809.0,600.8 1814.0,627.4 1819.0,645.0 C1823.2,659.7 1827.3,682.5 1831.5,682.5 C1834.8,682.5 1838.2,673.2 1841.5,665.0 C1845.7,654.7 1849.8,628.5 1854.0,610.0 C1857.3,595.2 1860.7,580.0 1864.0,565.0 C1867.3,550.0 1870.7,535.9 1874.0,520.0 C1882.7,478.7 1891.3,390.0 1900.0,385.0 C1903.3,383.1 1906.7,381.5 1910.0,381.5 C1914.2,381.5 1918.3,391.0 1922.5,400.0 C1926.7,409.0 1930.8,432.0 1935.0,450.0 C1941.3,477.3 1947.7,512.8 1954.0,540.0 C1957.3,554.3 1960.7,570.4 1964.0,580.0 C1967.3,589.6 1970.7,598.9 1974.0,602.5 C1978.2,606.9 1982.3,611.0 1986.5,611.0 C1990.7,611.0 1994.8,597.6 1999.0,590.0 C2004.0,580.9 2009.0,567.6 2014.0,560.0 C2017.3,554.9 2020.7,549.9 2024.0,547.5 C2027.3,545.1 2030.7,542.5 2034.0,542.5 C2038.2,542.5 2042.3,548.7 2046.5,555.0 C2050.7,561.3 2054.8,583.7 2059.0,595.0 C2064.0,608.6 2069.0,617.9 2074.0,630.0 C2077.3,638.1 2080.7,651.2 2084.0,655.0 C2087.3,658.8 2090.7,662.5 2094.0,662.5 C2098.2,662.5 2102.3,661.4 2106.5,660.0 C2110.7,658.6 2114.8,650.8 2119.0,645.0 C2124.0,638.1 2129.0,627.4 2134.0,620.0 C2139.0,612.6 2144.0,606.8 2149.0,600.0 C2153.2,594.3 2157.3,585.1 2161.5,582.5 C2165.7,579.9 2169.8,577.5 2174.0,577.5 C2178.2,577.5 2182.3,586.6 2186.5,595.0 C2190.7,603.4 2194.8,625.0 2199.0,640.0 C2203.2,655.0 2207.3,672.7 2211.5,685.0 C2215.3,696.3 2219.2,714.0 2223.0,714.0 C2226.7,714.0 2230.3,700.8 2234.0,690.0 C2237.3,680.1 2240.7,660.0 2244.0,645.0 C2247.3,630.0 2250.7,612.9 2254.0,600.0 C2259.0,580.7 2264.0,558.1 2269.0,550.0 C2274.0,541.9 2279.0,537.0 2284.0,534.0 C2287.0,532.2 2290.0,530.0 2293.0,530.0 C2308.3,530.0 2323.7,530.0 2339.0,530.0" stroke="#2a00ff"/>
<path d="M1251.0,305.0 C1254.0,311.7 1257.0,316.1 1260.0,325.0 C1263.3,334.9 1266.7,352.9 1270.0,370.0 C1273.3,387.1 1276.7,412.6 1280.0,430.0 C1286.7,464.8 1293.3,508.5 1300.0,520.0 C1305.0,528.6 1310.0,535.2 1315.0,536.5 C1320.8,538.0 1326.7,537.5 1332.5,539.0 C1336.7,540.1 1340.8,545.2 1345.0,550.0 C1350.0,555.7 1355.0,566.3 1360.0,575.0 C1364.2,582.2 1368.3,592.2 1372.5,597.5 C1376.3,602.4 1380.2,609.0 1384.0,609.0 C1388.5,609.0 1393.0,604.7 1397.5,600.0 C1401.7,595.6 1405.8,579.9 1410.0,570.0 C1415.0,558.2 1420.0,545.8 1425.0,535.0 C1430.0,524.2 1435.0,515.0 1440.0,505.0 C1445.0,495.0 1450.0,475.5 1455.0,475.0 C1461.7,474.3 1468.3,474.0 1475.0,474.0 C1481.7,474.0 1488.3,474.0 1495.0,474.0 C1501.7,474.0 1508.3,470.0 1515.0,470.0 C1520.0,470.0 1525.0,472.2 1530.0,475.0 C1536.7,478.7 1543.3,497.0 1550.0,520.0 C1553.3,531.5 1556.7,560.0 1560.0,580.0 C1563.3,600.0 1566.7,620.0 1570.0,640.0 C1573.3,660.0 1576.7,680.9 1580.0,700.0 C1583.3,719.1 1586.7,740.9 1590.0,755.0 C1595.0,776.1 1600.0,794.9 1605.0,805.0 C1609.2,813.4 1613.3,823.5 1617.5,823.5 C1621.7,823.5 1625.8,812.2 1630.0,800.0 C1633.3,790.3 1636.7,760.0 1640.0,740.0 C1643.3,720.0 1646.7,700.0 1650.0,680.0 C1653.3,660.0 1656.7,638.2 1660.0,620.0 C1663.3,601.8 1666.7,584.8 1670.0,570.0 C1673.3,555.2 1676.7,539.1 1680.0,530.0 C1685.0,516.4 1690.0,510.0 1695.0,500.0 C1700.0,490.0 1705.0,480.0 1710.0,470.0 C1715.0,460.0 1720.0,452.0 1725.0,440.0 C1730.0,428.0 1735.0,410.6 1740.0,395.0 C1743.3,384.6 1746.7,362.5 1750.0,362.5 C1754.2,362.5 1758.3,362.5 1762.5,362.5 C1766.7,362.5 1770.8,383.8 1775.0,400.0 C1782.2,427.9 1789.3,496.1 1796.5,530.0 C1800.7,549.7 1804.8,565.2 1809.0,580.0 C1813.2,594.8 1817.3,609.8 1821.5,620.0 C1824.8,628.1 1828.2,640.0 1831.5,640.0 C1834.8,640.0 1838.2,632.5 1841.5,625.0 C1844.8,617.5 1848.2,594.1 1851.5,580.0 C1855.7,562.3 1859.8,546.7 1864.0,530.0 C1867.3,516.7 1870.7,504.7 1874.0,490.0 C1879.3,466.5 1884.7,428.5 1890.0,410.0 C1895.0,392.7 1900.0,376.5 1905.0,370.0 C1908.3,365.7 1911.7,361.0 1915.0,361.0 C1919.2,361.0 1923.3,367.6 1927.5,375.0 C1931.7,382.4 1935.8,414.3 1940.0,430.0 C1943.0,441.3 1946.0,446.5 1949.0,460.0 C1952.3,475.0 1955.7,517.9 1959.0,530.0 C1964.0,548.1 1969.0,559.1 1974.0,565.0 C1978.2,569.9 1982.3,575.0 1986.5,575.0 C1990.7,575.0 1994.8,565.8 1999.0,560.0 C2004.0,553.1 2009.0,542.9 2014.0,535.0 C2017.3,529.8 2020.7,522.5 2024.0,520.0 C2027.3,517.5 2030.7,515.0 2034.0,515.0 C2038.2,515.0 2042.3,519.8 2046.5,525.0 C2050.7,530.2 2054.8,547.9 2059.0,560.0 C2064.0,574.5 2069.0,592.4 2074.0,605.0 C2079.0,617.6 2084.0,632.1 2089.0,637.5 C2092.3,641.1 2095.7,645.0 2099.0,645.0 C2103.2,645.0 2107.3,642.5 2111.5,640.0 C2115.7,637.5 2119.8,630.8 2124.0,625.0 C2129.0,618.1 2134.0,608.3 2139.0,600.0 C2144.0,591.7 2149.0,581.9 2154.0,575.0 C2158.2,569.2 2162.3,562.7 2166.5,560.0 C2169.3,558.1 2172.2,556.0 2175.0,556.0 C2178.8,556.0 2182.7,563.1 2186.5,570.0 C2190.7,577.5 2194.8,601.9 2199.0,615.0 C2203.2,628.1 2207.3,641.4 2211.5,650.0 C2215.3,657.9 2219.2,669.0 2223.0,669.0 C2226.7,669.0 2230.3,662.1 2234.0,655.0 C2237.3,648.5 2240.7,629.8 2244.0,615.0 C2247.3,600.2 2250.7,578.5 2254.0,565.0 C2259.0,544.7 2264.0,529.2 2269.0,515.0 C2272.3,505.6 2275.7,496.2 2279.0,490.0 C2282.3,483.8 2285.7,475.0 2289.0,475.0 C2305.7,475.0 2322.3,475.0 2339.0,475.0" stroke="#007a1a"/>
<path d="M1251.0,259.0 C1254.0,264.3 1257.0,267.7 1260.0,275.0 C1263.3,283.2 1266.7,300.9 1270.0,315.0 C1273.3,329.1 1276.7,344.2 1280.0,360.0 C1283.3,375.8 1286.7,398.2 1290.0,410.0 C1295.0,427.8 1300.0,441.1 1305.0,450.0 C1310.0,458.9 1315.0,463.0 1320.0,470.0 C1326.7,479.4 1333.3,490.9 1340.0,500.0 C1346.7,509.1 1353.3,516.4 1360.0,525.0 C1365.0,531.5 1370.0,539.0 1375.0,545.0 C1378.3,549.0 1381.7,556.0 1385.0,556.0 C1390.0,556.0 1395.0,553.2 1400.0,550.0 C1405.0,546.8 1410.0,534.1 1415.0,525.0 C1420.0,515.9 1425.0,510.1 1430.0,495.0 C1433.3,484.9 1436.7,446.1 1440.0,440.0 C1446.7,427.8 1453.3,423.6 1460.0,420.0 C1466.7,416.4 1473.3,415.4 1480.0,412.5 C1486.7,409.6 1493.3,405.6 1500.0,402.5 C1505.0,400.2 1510.0,396.0 1515.0,396.0 C1519.2,396.0 1523.3,399.0 1527.5,402.5 C1531.7,406.0 1535.8,418.0 1540.0,430.0 C1543.3,439.6 1546.7,456.7 1550.0,470.0 C1555.0,490.0 1560.0,504.8 1565.0,530.0 C1568.3,546.8 1571.7,573.3 1575.0,595.0 C1578.3,616.7 1581.7,640.1 1585.0,660.0 C1588.3,679.9 1591.7,698.5 1595.0,715.0 C1598.3,731.5 1601.7,750.6 1605.0,760.0 C1609.2,771.7 1613.3,785.0 1617.5,785.0 C1621.7,785.0 1625.8,772.4 1630.0,760.0 C1633.3,750.1 1636.7,724.9 1640.0,705.0 C1643.3,685.1 1646.7,660.8 1650.0,640.0 C1653.3,619.2 1656.7,598.2 1660.0,580.0 C1663.3,561.8 1666.7,544.8 1670.0,530.0 C1673.3,515.2 1676.7,504.8 1680.0,490.0 C1683.3,475.2 1686.7,447.1 1690.0,440.0 C1696.7,425.7 1703.3,425.4 1710.0,415.0 C1715.0,407.2 1720.0,397.2 1725.0,385.0 C1728.3,376.9 1731.7,366.4 1735.0,355.0 C1738.3,343.6 1741.7,323.1 1745.0,315.0 C1748.3,306.9 1751.7,297.5 1755.0,297.5 C1758.3,297.5 1761.7,301.0 1765.0,305.0 C1769.2,309.9 1773.3,328.5 1777.5,345.0 C1781.7,361.5 1785.8,384.0 1790.0,410.0 C1794.7,439.1 1799.3,499.6 1804.0,520.0 C1809.0,541.8 1814.0,552.4 1819.0,565.0 C1823.2,575.5 1827.3,592.5 1831.5,592.5 C1835.7,592.5 1839.8,576.4 1844.0,565.0 C1847.3,555.9 1850.7,542.4 1854.0,530.0 C1857.3,517.6 1860.7,505.0 1864.0,490.0 C1872.7,451.1 1881.3,374.3 1890.0,350.0 C1895.0,336.0 1900.0,326.1 1905.0,320.0 C1908.3,316.0 1911.7,311.0 1915.0,311.0 C1919.2,311.0 1923.3,314.9 1927.5,320.0 C1931.7,325.1 1935.8,353.6 1940.0,370.0 C1943.0,381.8 1946.0,392.5 1949.0,405.0 C1952.3,418.9 1955.7,436.4 1959.0,450.0 C1964.0,470.3 1969.0,498.0 1974.0,505.0 C1978.2,510.8 1982.3,516.0 1986.5,516.0 C1990.7,516.0 1994.8,509.9 1999.0,505.0 C2005.7,497.1 2012.3,471.8 2019.0,465.0 C2023.2,460.7 2027.3,456.0 2031.5,456.0 C2035.7,456.0 2039.8,463.5 2044.0,470.0 C2049.0,477.8 2054.0,493.0 2059.0,510.0 C2062.3,521.4 2065.7,542.5 2069.0,555.0 C2073.2,570.7 2077.3,586.2 2081.5,595.0 C2085.2,602.7 2088.8,612.5 2092.5,612.5 C2096.3,612.5 2100.2,608.5 2104.0,605.0 C2109.0,600.4 2114.0,588.3 2119.0,580.0 C2124.0,571.7 2129.0,563.3 2134.0,555.0 C2139.0,546.7 2144.0,537.4 2149.0,530.0 C2154.0,522.6 2159.0,510.0 2164.0,510.0 C2171.5,510.0 2179.0,511.6 2186.5,515.0 C2190.7,516.9 2194.8,539.2 2199.0,550.0 C2203.2,560.8 2207.3,571.6 2211.5,580.0 C2215.3,587.7 2219.2,600.0 2223.0,600.0 C2226.7,600.0 2230.3,578.7 2234.0,565.0 C2237.3,552.5 2240.7,530.9 2244.0,520.0 C2252.3,492.7 2260.7,464.8 2269.0,460.0 C2273.2,457.6 2277.3,455.5 2281.5,455.5 C2285.7,455.5 2289.8,456.5 2294.0,456.5 C2309.0,456.5 2324.0,456.5 2339.0,456.5" stroke="#ff8c26"/>
<path d="M1251.0,221.0 C1254.0,225.7 1257.0,228.6 1260.0,235.0 C1263.3,242.1 1266.7,256.3 1270.0,270.0 C1273.3,283.7 1276.7,304.2 1280.0,320.0 C1283.3,335.8 1286.7,352.1 1290.0,365.0 C1295.0,384.3 1300.0,405.5 1305.0,415.0 C1310.0,424.5 1315.0,428.3 1320.0,435.0 C1325.0,441.7 1330.0,447.1 1335.0,455.0 C1343.3,468.1 1351.7,489.3 1360.0,505.0 C1364.2,512.8 1368.3,521.7 1372.5,527.5 C1375.8,532.1 1379.2,539.0 1382.5,539.0 C1386.7,539.0 1390.8,534.3 1395.0,530.0 C1400.0,524.8 1405.0,512.9 1410.0,500.0 C1415.0,487.1 1420.0,457.9 1425.0,445.0 C1430.0,432.1 1435.0,421.8 1440.0,415.0 C1446.7,406.0 1453.3,400.1 1460.0,395.0 C1466.7,389.9 1473.3,387.4 1480.0,382.5 C1486.7,377.6 1493.3,371.2 1500.0,365.0 C1505.0,360.3 1510.0,350.0 1515.0,350.0 C1519.2,350.0 1523.3,352.1 1527.5,355.0 C1531.7,357.9 1535.8,371.8 1540.0,385.0 C1543.3,395.6 1546.7,414.3 1550.0,430.0 C1556.7,461.4 1563.3,493.3 1570.0,530.0 C1573.3,548.4 1576.7,570.0 1580.0,590.0 C1583.3,610.0 1586.7,631.8 1590.0,650.0 C1593.3,668.2 1596.7,685.2 1600.0,700.0 C1603.3,714.8 1606.7,730.3 1610.0,740.0 C1612.5,747.3 1615.0,757.5 1617.5,757.5 C1621.7,757.5 1625.8,746.5 1630.0,735.0 C1633.3,725.8 1636.7,699.9 1640.0,680.0 C1643.3,660.1 1646.7,635.8 1650.0,615.0 C1653.3,594.2 1656.7,578.2 1660.0,555.0 C1663.3,531.8 1666.7,498.2 1670.0,472.5 C1673.3,446.8 1676.7,407.9 1680.0,400.0 C1685.0,388.2 1690.0,385.8 1695.0,380.0 C1701.7,372.3 1708.3,369.0 1715.0,360.0 C1720.0,353.2 1725.0,342.2 1730.0,330.0 C1733.3,321.9 1736.7,306.7 1740.0,300.0 C1743.3,293.3 1746.7,285.0 1750.0,285.0 C1754.2,285.0 1758.3,285.9 1762.5,287.5 C1766.7,289.1 1770.8,313.2 1775.0,330.0 C1780.0,350.1 1785.0,380.5 1790.0,405.0 C1798.0,444.2 1806.0,494.8 1814.0,520.0 C1817.3,530.5 1820.7,537.6 1824.0,545.0 C1826.5,550.5 1829.0,560.0 1831.5,560.0 C1835.7,560.0 1839.8,549.3 1844.0,540.0 C1847.3,532.6 1850.7,519.6 1854.0,505.0 C1861.0,474.3 1868.0,409.1 1875.0,370.0 C1880.0,342.1 1885.0,312.4 1890.0,295.0 C1895.0,277.6 1900.0,263.3 1905.0,255.0 C1908.3,249.5 1911.7,242.5 1915.0,242.5 C1919.2,242.5 1923.3,251.0 1927.5,260.0 C1931.7,269.0 1935.8,299.6 1940.0,320.0 C1943.0,334.7 1946.0,349.3 1949.0,365.0 C1952.3,382.4 1955.7,402.5 1959.0,420.0 C1962.3,437.5 1965.7,457.5 1969.0,470.0 C1972.3,482.5 1975.7,495.1 1979.0,500.0 C1981.5,503.7 1984.0,507.5 1986.5,507.5 C1990.7,507.5 1994.8,501.6 1999.0,495.0 C2002.3,489.7 2005.7,469.7 2009.0,460.0 C2012.3,450.3 2015.7,439.4 2019.0,435.0 C2023.2,429.5 2027.3,424.0 2031.5,424.0 C2035.7,424.0 2039.8,432.3 2044.0,440.0 C2050.7,452.3 2057.3,489.1 2064.0,515.0 C2067.3,527.9 2070.7,544.7 2074.0,555.0 C2077.3,565.3 2080.7,575.3 2084.0,580.0 C2086.8,584.0 2089.7,588.5 2092.5,588.5 C2096.3,588.5 2100.2,582.3 2104.0,577.5 C2109.0,571.3 2114.0,559.6 2119.0,550.0 C2124.0,540.4 2129.0,532.0 2134.0,520.0 C2139.0,508.0 2144.0,484.2 2149.0,475.0 C2154.0,465.8 2159.0,458.5 2164.0,455.0 C2167.3,452.6 2170.7,450.0 2174.0,450.0 C2178.2,450.0 2182.3,463.5 2186.5,475.0 C2190.7,486.5 2194.8,514.6 2199.0,530.0 C2203.2,545.4 2207.3,557.5 2211.5,570.0 C2215.3,581.5 2219.2,602.5 2223.0,602.5 C2226.7,602.5 2230.3,579.3 2234.0,565.0 C2237.3,552.0 2240.7,536.5 2244.0,520.0 C2247.3,503.5 2250.7,476.8 2254.0,465.0 C2259.0,447.4 2264.0,431.4 2269.0,427.5 C2273.2,424.2 2277.3,421.5 2281.5,421.5 C2285.7,421.5 2289.8,431.5 2294.0,431.5 C2309.0,431.5 2324.0,431.5 2339.0,431.5" stroke="#ff1f8f"/>
<path d="M1251.0,145.0 C1254.0,145.0 1257.0,145.0 1260.0,145.0 C1263.3,145.0 1266.7,153.0 1270.0,160.0 C1273.3,167.0 1276.7,181.3 1280.0,195.0 C1283.3,208.7 1286.7,228.3 1290.0,245.0 C1293.3,261.7 1296.7,279.2 1300.0,295.0 C1303.3,310.8 1306.7,327.1 1310.0,340.0 C1315.0,359.3 1320.0,379.7 1325.0,390.0 C1330.0,400.3 1335.0,406.4 1340.0,412.5 C1346.7,420.6 1353.3,426.9 1360.0,432.5 C1367.5,438.8 1375.0,448.5 1382.5,448.5 C1386.7,448.5 1390.8,444.2 1395.0,440.0 C1400.0,435.0 1405.0,421.4 1410.0,410.0 C1415.0,398.6 1420.0,383.3 1425.0,370.0 C1430.0,356.7 1435.0,341.4 1440.0,330.0 C1445.0,318.6 1450.0,306.8 1455.0,300.0 C1461.7,291.0 1468.3,286.7 1475.0,280.0 C1480.0,275.0 1485.0,267.8 1490.0,265.0 C1494.2,262.6 1498.3,260.0 1502.5,260.0 C1506.7,260.0 1510.8,262.5 1515.0,265.0 C1519.2,267.5 1523.3,273.3 1527.5,280.0 C1531.7,286.7 1535.8,297.4 1540.0,310.0 C1543.3,320.1 1546.7,334.0 1550.0,350.0 C1553.3,366.0 1556.7,387.4 1560.0,410.0 C1565.0,444.0 1570.0,499.7 1575.0,530.0 C1578.3,550.2 1581.7,563.3 1585.0,580.0 C1588.3,596.7 1591.7,613.3 1595.0,630.0 C1598.3,646.7 1601.7,663.9 1605.0,680.0 C1607.5,692.0 1610.0,709.8 1612.5,715.0 C1615.0,720.2 1617.5,725.0 1620.0,725.0 C1622.5,725.0 1625.0,720.6 1627.5,715.0 C1630.0,709.4 1632.5,684.3 1635.0,665.0 C1636.7,652.1 1638.3,635.8 1640.0,620.0 C1641.7,604.2 1643.3,584.8 1645.0,570.0 C1646.7,555.2 1648.3,544.0 1650.0,530.0 C1655.0,488.1 1660.0,411.4 1665.0,395.0 C1670.0,378.6 1675.0,371.7 1680.0,365.0 C1685.0,358.3 1690.0,356.2 1695.0,350.0 C1700.0,343.8 1705.0,335.7 1710.0,325.0 C1715.0,314.3 1720.0,298.6 1725.0,280.0 C1729.2,264.5 1733.3,235.0 1737.5,220.0 C1741.7,205.0 1745.8,184.0 1750.0,184.0 C1754.2,184.0 1758.3,186.0 1762.5,189.0 C1766.7,192.0 1770.8,213.6 1775.0,230.0 C1780.0,249.7 1785.0,280.0 1790.0,305.0 C1795.0,330.0 1800.0,353.0 1805.0,380.0 C1811.3,414.2 1817.7,485.7 1824.0,492.5 C1826.5,495.2 1829.0,497.5 1831.5,497.5 C1834.0,497.5 1836.5,494.5 1839.0,490.0 C1841.0,486.4 1843.0,462.0 1845.0,450.0 C1850.0,419.9 1855.0,396.7 1860.0,370.0 C1865.0,343.3 1870.0,318.2 1875.0,290.0 C1880.0,261.8 1885.0,220.0 1890.0,200.0 C1895.0,180.0 1900.0,162.3 1905.0,155.0 C1908.3,150.2 1911.7,145.0 1915.0,145.0 C1919.2,145.0 1923.3,150.9 1927.5,157.5 C1931.7,164.1 1935.8,183.9 1940.0,205.0 C1943.0,220.2 1946.0,247.9 1949.0,270.0 C1952.3,294.5 1955.7,321.8 1959.0,345.0 C1962.3,368.2 1965.7,390.6 1969.0,410.0 C1971.5,424.6 1974.0,442.6 1976.5,450.0 C1979.8,459.9 1983.2,470.0 1986.5,470.0 C1990.7,470.0 1994.8,452.6 1999.0,440.0 C2002.3,429.9 2005.7,411.9 2009.0,400.0 C2013.2,385.1 2017.3,366.3 2021.5,360.0 C2025.7,353.7 2029.8,347.5 2034.0,347.5 C2038.2,347.5 2042.3,356.4 2046.5,365.0 C2050.7,373.6 2054.8,398.3 2059.0,415.0 C2062.3,428.3 2065.7,442.8 2069.0,455.0 C2074.0,473.3 2079.0,496.0 2084.0,505.0 C2086.8,510.1 2089.7,516.0 2092.5,516.0 C2096.3,516.0 2100.2,507.4 2104.0,500.0 C2109.0,490.4 2114.0,466.7 2119.0,450.0 C2124.0,433.3 2129.0,414.8 2134.0,400.0 C2139.0,385.2 2144.0,366.7 2149.0,360.0 C2153.7,353.8 2158.3,347.5 2163.0,347.5 C2167.5,347.5 2172.0,355.9 2176.5,365.0 C2180.7,373.4 2184.8,394.2 2189.0,420.0 C2192.3,440.7 2195.7,501.0 2199.0,520.0 C2202.3,539.0 2205.7,548.6 2209.0,560.0 C2212.3,571.4 2215.7,581.0 2219.0,590.0 C2220.3,593.6 2221.7,600.0 2223.0,600.0 C2226.7,600.0 2230.3,589.9 2234.0,580.0 C2237.3,571.0 2240.7,551.0 2244.0,530.0 C2247.3,509.0 2250.7,462.5 2254.0,445.0 C2259.0,418.7 2264.0,390.0 2269.0,390.0 C2272.3,390.0 2275.7,391.2 2279.0,392.5 C2284.0,394.4 2289.0,406.5 2294.0,406.5 C2309.0,406.5 2324.0,406.5 2339.0,406.5" stroke="#ff1f1f"/>
<path d="M1242.0,1337.3 C1245.3,1347.3 1248.7,1355.4 1252.0,1367.3 C1256.4,1383.2 1260.9,1405.3 1265.3,1427.3 C1269.8,1449.3 1274.2,1479.2 1278.7,1500.7 C1282.0,1516.7 1285.3,1534.0 1288.7,1544.0 C1293.1,1557.4 1297.6,1569.7 1302.0,1574.0 C1307.6,1579.4 1313.1,1580.7 1318.7,1584.0 C1324.2,1587.3 1329.8,1589.2 1335.3,1594.0 C1339.8,1597.9 1344.2,1607.6 1348.7,1614.0 C1354.2,1622.1 1359.8,1630.9 1365.3,1637.3 C1368.7,1641.2 1372.0,1647.3 1375.3,1647.3 C1379.8,1647.3 1384.2,1642.5 1388.7,1637.3 C1393.1,1632.2 1397.6,1615.7 1402.0,1604.0 C1407.6,1589.4 1413.1,1570.3 1418.7,1557.3 C1424.2,1544.4 1429.8,1530.3 1435.3,1524.0 C1440.9,1517.7 1446.4,1512.2 1452.0,1510.7 C1458.7,1508.8 1465.3,1508.8 1472.0,1507.3 C1478.7,1505.9 1485.3,1501.8 1492.0,1500.7 C1494.7,1500.2 1497.3,1500.1 1500.0,1499.7 C1502.4,1499.2 1504.8,1497.5 1507.2,1497.5 C1509.6,1497.5 1512.0,1499.7 1514.4,1501.1 C1516.8,1502.5 1519.2,1504.0 1521.6,1506.1 C1524.0,1508.3 1526.4,1511.8 1528.8,1515.5 C1530.7,1518.4 1532.6,1521.9 1534.5,1526.3 C1536.2,1530.1 1537.9,1535.9 1539.5,1540.6 C1541.2,1545.4 1542.9,1549.9 1544.6,1555.0 C1546.0,1559.5 1547.4,1564.1 1548.9,1569.4 C1550.3,1574.7 1551.8,1580.6 1553.2,1587.4 C1554.0,1591.1 1554.8,1595.6 1555.6,1600.0 C1557.7,1612.1 1559.9,1626.1 1562.1,1638.9 C1564.7,1654.3 1567.3,1668.5 1569.8,1684.3 C1572.9,1702.8 1575.9,1726.9 1578.9,1742.7 C1582.4,1760.8 1585.9,1773.2 1589.3,1788.2 C1592.3,1801.3 1595.4,1815.3 1598.4,1827.1 C1600.6,1835.5 1602.7,1848.7 1604.9,1850.5 C1609.0,1853.8 1613.1,1855.6 1617.2,1855.6 C1619.2,1855.6 1621.1,1846.3 1623.1,1840.1 C1625.6,1831.7 1628.2,1820.5 1630.8,1807.6 C1633.0,1796.9 1635.2,1781.7 1637.3,1768.7 C1639.5,1755.7 1641.7,1743.7 1643.8,1729.8 C1646.0,1715.8 1648.1,1698.6 1650.3,1684.3 C1652.0,1672.9 1653.8,1664.0 1655.5,1651.9 C1657.7,1636.8 1659.8,1611.5 1662.0,1600.0 C1663.5,1592.1 1665.0,1587.7 1666.5,1581.7 C1668.6,1573.0 1670.7,1563.3 1672.9,1556.1 C1675.8,1546.0 1678.8,1538.6 1681.8,1530.5 C1685.4,1520.6 1689.1,1505.1 1692.7,1502.3 C1699.3,1497.2 1706.0,1498.4 1712.7,1494.0 C1718.2,1490.4 1723.8,1480.7 1729.3,1470.7 C1733.8,1462.6 1738.2,1447.2 1742.7,1437.3 C1746.0,1430.0 1749.3,1419.5 1752.7,1417.3 C1757.1,1414.4 1761.6,1412.3 1766.0,1412.3 C1769.3,1412.3 1772.7,1427.1 1776.0,1437.3 C1779.3,1447.6 1782.7,1463.6 1786.0,1477.3 C1790.4,1495.6 1794.9,1513.6 1799.3,1534.0 C1803.8,1554.4 1808.2,1578.4 1812.7,1600.7 C1817.1,1622.9 1821.6,1656.8 1826.0,1667.3 C1829.9,1676.5 1833.8,1685.7 1837.7,1685.7 C1841.6,1685.7 1845.4,1675.9 1849.3,1667.3 C1853.8,1657.6 1858.2,1636.4 1862.7,1617.3 C1867.1,1598.3 1871.6,1572.9 1876.0,1550.7 C1880.4,1528.4 1884.9,1506.2 1889.3,1484.0 C1892.7,1467.3 1896.0,1446.2 1899.3,1434.0 C1903.2,1419.8 1907.1,1403.6 1911.0,1400.7 C1914.9,1397.8 1918.8,1395.7 1922.7,1395.7 C1927.1,1395.7 1931.6,1409.5 1936.0,1420.7 C1939.3,1429.1 1942.7,1442.2 1946.0,1457.3 C1949.3,1472.5 1952.7,1502.6 1956.0,1517.3 C1959.5,1532.8 1963.0,1541.9 1966.5,1554.0 C1968.8,1561.9 1971.1,1569.8 1973.3,1577.3 C1976.7,1588.3 1980.0,1605.1 1983.3,1609.0 C1987.2,1613.6 1991.1,1617.3 1995.0,1617.3 C1998.9,1617.3 2002.8,1609.6 2006.7,1604.0 C2011.1,1597.6 2015.6,1585.5 2020.0,1577.3 C2023.9,1570.2 2027.8,1560.9 2031.7,1557.3 C2036.1,1553.2 2040.6,1549.0 2045.0,1549.0 C2048.9,1549.0 2052.8,1555.3 2056.7,1560.7 C2061.1,1566.8 2065.6,1580.1 2070.0,1590.7 C2074.4,1601.2 2078.9,1611.8 2083.3,1624.0 C2086.7,1633.1 2090.0,1648.0 2093.3,1654.0 C2097.8,1662.0 2102.2,1670.7 2106.7,1670.7 C2110.6,1670.7 2114.4,1667.3 2118.3,1664.0 C2123.3,1659.8 2128.3,1645.8 2133.3,1637.3 C2138.9,1628.0 2144.4,1617.5 2150.0,1610.7 C2155.6,1603.8 2161.1,1598.5 2166.7,1594.0 C2171.1,1590.4 2175.6,1584.7 2180.0,1584.7 C2184.4,1584.7 2188.9,1586.5 2193.3,1589.0 C2197.8,1591.5 2202.2,1608.5 2206.7,1620.7 C2211.1,1632.9 2215.6,1649.4 2220.0,1664.0 C2223.3,1675.0 2226.7,1689.9 2230.0,1697.3 C2233.3,1704.7 2236.7,1714.0 2240.0,1714.0 C2243.9,1714.0 2247.8,1705.5 2251.7,1697.3 C2255.6,1689.1 2259.4,1665.7 2263.3,1650.7 C2267.8,1633.5 2272.2,1615.0 2276.7,1600.7 C2280.6,1588.1 2284.4,1573.1 2288.3,1567.3 C2292.2,1561.6 2296.1,1558.8 2300.0,1555.7 C2304.4,1552.1 2308.9,1546.7 2313.3,1546.7 C2327.2,1546.7 2341.1,1546.7 2355.0,1546.7" stroke="#000000"/>
<path d="M1237.0,1257.3 C1239.2,1260.7 1241.4,1262.7 1243.7,1267.3 C1246.4,1273.1 1249.2,1285.8 1252.0,1297.3 C1256.4,1315.7 1260.9,1341.2 1265.3,1364.0 C1269.8,1386.8 1274.2,1411.3 1278.7,1434.0 C1282.0,1451.1 1285.3,1472.0 1288.7,1484.0 C1293.1,1500.0 1297.6,1520.7 1302.0,1520.7 C1306.4,1520.7 1310.9,1520.7 1315.3,1520.7 C1320.9,1520.7 1326.4,1517.3 1332.0,1517.3 C1336.4,1517.3 1340.9,1525.2 1345.3,1530.7 C1350.9,1537.4 1356.4,1548.7 1362.0,1557.3 C1366.4,1564.2 1370.9,1577.3 1375.3,1577.3 C1379.8,1577.3 1384.2,1577.3 1388.7,1577.3 C1393.1,1577.3 1397.6,1562.6 1402.0,1554.0 C1407.6,1543.2 1413.1,1529.7 1418.7,1517.3 C1423.1,1507.4 1427.6,1495.1 1432.0,1487.3 C1437.6,1477.7 1443.1,1466.7 1448.7,1464.0 C1456.4,1460.2 1464.2,1459.7 1472.0,1457.3 C1478.7,1455.3 1485.3,1453.2 1492.0,1450.7 C1494.7,1449.6 1497.3,1448.4 1500.0,1447.2 C1502.9,1445.9 1505.8,1443.2 1508.6,1443.2 C1512.5,1443.2 1516.3,1445.1 1520.1,1447.2 C1523.0,1448.7 1525.9,1452.7 1528.8,1456.5 C1531.2,1459.7 1533.5,1463.9 1535.9,1468.8 C1538.3,1473.6 1540.7,1480.0 1543.1,1486.7 C1545.1,1492.1 1547.0,1497.7 1548.9,1504.7 C1550.6,1510.8 1552.2,1519.1 1553.9,1526.3 C1555.6,1533.5 1557.3,1539.4 1559.0,1547.8 C1560.1,1553.9 1561.3,1562.9 1562.5,1569.4 C1563.7,1575.9 1564.9,1582.5 1566.1,1587.4 C1567.4,1592.4 1568.6,1594.1 1569.8,1600.0 C1571.6,1608.3 1573.3,1633.8 1575.0,1645.4 C1577.2,1660.0 1579.4,1668.7 1581.5,1680.5 C1584.1,1694.6 1586.7,1709.7 1589.3,1723.3 C1591.5,1734.6 1593.6,1745.2 1595.8,1755.7 C1598.8,1770.4 1601.9,1793.5 1604.9,1798.5 C1609.4,1806.1 1614.0,1811.5 1618.5,1811.5 C1620.5,1811.5 1622.4,1803.8 1624.3,1798.5 C1627.4,1790.4 1630.4,1778.4 1633.4,1766.1 C1636.5,1753.8 1639.5,1738.0 1642.5,1723.3 C1645.1,1710.7 1647.7,1699.6 1650.3,1684.3 C1652.5,1671.7 1654.6,1657.0 1656.8,1638.9 C1658.1,1628.1 1659.4,1610.7 1660.7,1600.0 C1662.2,1587.7 1663.7,1579.3 1665.2,1568.9 C1667.3,1554.0 1669.4,1537.9 1671.6,1524.1 C1673.7,1510.3 1675.8,1494.2 1678.0,1485.7 C1680.1,1477.1 1682.2,1470.0 1684.4,1466.5 C1687.1,1461.9 1689.9,1461.0 1692.7,1457.3 C1697.1,1451.4 1701.6,1441.6 1706.0,1434.0 C1709.3,1428.3 1712.7,1424.2 1716.0,1417.3 C1719.3,1410.5 1722.7,1400.1 1726.0,1390.7 C1729.3,1381.3 1732.7,1370.1 1736.0,1360.7 C1739.3,1351.3 1742.7,1339.7 1746.0,1334.0 C1748.8,1329.2 1751.6,1323.3 1754.3,1323.3 C1758.2,1323.3 1762.1,1323.3 1766.0,1323.3 C1769.3,1323.3 1772.7,1341.7 1776.0,1354.0 C1779.3,1366.3 1782.7,1384.6 1786.0,1400.7 C1790.4,1422.1 1794.9,1445.1 1799.3,1467.3 C1803.8,1489.6 1808.2,1508.5 1812.7,1534.0 C1817.1,1559.5 1821.6,1617.4 1826.0,1624.0 C1829.9,1629.8 1833.8,1634.0 1837.7,1634.0 C1841.6,1634.0 1845.4,1616.4 1849.3,1604.0 C1853.8,1589.8 1858.2,1568.2 1862.7,1547.3 C1867.1,1526.5 1871.6,1500.7 1876.0,1477.3 C1880.4,1454.0 1884.9,1430.9 1889.3,1407.3 C1892.7,1389.7 1896.0,1364.8 1899.3,1354.0 C1903.2,1341.4 1907.1,1327.3 1911.0,1327.3 C1914.9,1327.3 1918.8,1328.0 1922.7,1329.0 C1927.1,1330.2 1931.6,1344.1 1936.0,1357.3 C1939.3,1367.2 1942.7,1387.4 1946.0,1404.0 C1949.3,1420.6 1952.7,1443.2 1956.0,1457.3 C1959.5,1472.1 1963.0,1480.3 1966.5,1494.0 C1968.8,1502.9 1971.1,1515.3 1973.3,1524.0 C1976.7,1536.7 1980.0,1554.0 1983.3,1557.3 C1987.2,1561.2 1991.1,1564.0 1995.0,1564.0 C1998.9,1564.0 2002.8,1556.5 2006.7,1550.7 C2011.1,1544.0 2015.6,1530.1 2020.0,1520.7 C2023.9,1512.4 2027.8,1503.2 2031.7,1497.3 C2036.1,1490.6 2040.6,1481.3 2045.0,1481.3 C2049.4,1481.3 2053.9,1488.6 2058.3,1495.7 C2062.2,1501.9 2066.1,1519.0 2070.0,1530.7 C2074.4,1544.0 2078.9,1558.2 2083.3,1570.7 C2086.7,1580.1 2090.0,1592.0 2093.3,1597.3 C2097.8,1604.5 2102.2,1612.3 2106.7,1612.3 C2111.1,1612.3 2115.6,1612.0 2120.0,1611.3 C2124.4,1610.7 2128.9,1599.0 2133.3,1594.0 C2138.9,1587.7 2144.4,1581.5 2150.0,1577.3 C2155.6,1573.2 2161.1,1570.7 2166.7,1567.3 C2171.1,1564.6 2175.6,1559.0 2180.0,1559.0 C2184.4,1559.0 2188.9,1559.6 2193.3,1560.7 C2197.8,1561.7 2202.2,1574.8 2206.7,1584.0 C2211.1,1593.2 2215.6,1606.6 2220.0,1617.3 C2223.3,1625.4 2226.7,1636.3 2230.0,1640.7 C2233.3,1645.0 2236.7,1649.7 2240.0,1649.7 C2243.9,1649.7 2247.8,1644.6 2251.7,1639.0 C2255.6,1633.4 2259.4,1615.1 2263.3,1600.7 C2267.2,1586.2 2271.1,1564.4 2275.0,1550.7 C2279.4,1534.9 2283.9,1521.3 2288.3,1510.7 C2292.2,1501.4 2296.1,1494.6 2300.0,1487.3 C2304.4,1479.0 2308.9,1464.0 2313.3,1464.0 C2327.2,1464.0 2341.1,1464.0 2355.0,1464.0" stroke="#2a00ff"/>
<path d="M1237.0,1170.7 C1240.9,1179.6 1244.8,1185.6 1248.7,1197.3 C1253.1,1210.7 1257.6,1234.9 1262.0,1257.3 C1266.4,1279.8 1270.9,1310.2 1275.3,1334.0 C1279.8,1357.8 1284.2,1379.5 1288.7,1400.7 C1292.6,1419.2 1296.4,1450.7 1300.3,1454.0 C1305.3,1458.2 1310.3,1460.7 1315.3,1460.7 C1322.0,1460.7 1328.7,1457.3 1335.3,1457.3 C1339.8,1457.3 1344.2,1463.0 1348.7,1467.3 C1354.2,1472.7 1359.8,1485.5 1365.3,1490.7 C1370.9,1495.9 1376.4,1502.3 1382.0,1502.3 C1386.4,1502.3 1390.9,1498.2 1395.3,1494.0 C1399.8,1489.8 1404.2,1477.6 1408.7,1467.3 C1413.1,1457.0 1417.6,1442.9 1422.0,1430.7 C1426.4,1418.4 1430.9,1401.5 1435.3,1394.0 C1440.9,1384.6 1446.4,1376.3 1452.0,1374.0 C1458.7,1371.2 1465.3,1369.8 1472.0,1369.0 C1479.8,1368.1 1487.6,1367.3 1495.3,1367.3 C1500.9,1367.3 1506.4,1368.9 1512.0,1370.7 C1518.7,1372.8 1525.3,1379.0 1532.0,1387.3 C1536.4,1392.9 1540.9,1401.0 1545.3,1417.3 C1546.5,1421.7 1547.7,1433.9 1548.9,1440.0 C1550.6,1448.7 1552.2,1454.4 1553.9,1461.6 C1555.6,1468.8 1557.3,1474.7 1559.0,1483.1 C1560.1,1489.2 1561.3,1496.7 1562.5,1504.7 C1563.5,1511.1 1564.5,1519.9 1565.4,1526.3 C1566.6,1534.3 1567.8,1540.6 1569.0,1547.8 C1570.2,1555.0 1571.4,1560.6 1572.6,1569.4 C1573.5,1575.9 1574.4,1586.2 1575.3,1593.7 C1577.8,1615.1 1580.3,1635.3 1582.8,1651.9 C1585.9,1671.9 1588.9,1690.0 1591.9,1703.8 C1595.4,1719.6 1598.8,1727.7 1602.3,1742.7 C1604.0,1750.3 1605.7,1766.2 1607.5,1768.7 C1610.9,1773.6 1614.4,1776.5 1617.9,1776.5 C1619.6,1776.5 1621.3,1767.4 1623.1,1762.2 C1625.6,1754.4 1628.2,1747.3 1630.8,1736.3 C1633.4,1725.2 1636.0,1707.0 1638.6,1690.8 C1641.2,1674.7 1643.8,1660.2 1646.4,1638.9 C1647.7,1628.3 1649.0,1614.8 1650.3,1600.0 C1651.4,1587.3 1652.5,1566.4 1653.6,1556.1 C1656.2,1532.4 1658.8,1520.7 1661.3,1504.9 C1664.3,1486.4 1667.3,1469.6 1670.3,1453.6 C1672.9,1440.0 1675.4,1423.8 1678.0,1415.2 C1680.5,1406.7 1683.1,1401.2 1685.7,1396.0 C1688.0,1391.3 1690.3,1387.8 1692.7,1384.0 C1697.1,1376.8 1701.6,1372.2 1706.0,1364.0 C1709.3,1357.8 1712.7,1349.4 1716.0,1340.7 C1719.3,1331.9 1722.7,1321.2 1726.0,1310.7 C1729.3,1300.1 1732.7,1287.9 1736.0,1277.3 C1739.3,1266.8 1742.7,1254.0 1746.0,1247.3 C1748.8,1241.8 1751.6,1234.7 1754.3,1234.7 C1758.2,1234.7 1762.1,1235.6 1766.0,1237.3 C1769.3,1238.8 1772.7,1257.7 1776.0,1270.7 C1779.3,1283.6 1782.7,1301.3 1786.0,1317.3 C1790.4,1338.8 1794.9,1361.8 1799.3,1384.0 C1803.8,1406.2 1808.2,1423.7 1812.7,1450.7 C1817.1,1477.7 1821.6,1546.3 1826.0,1554.0 C1829.9,1560.8 1833.8,1565.7 1837.7,1565.7 C1841.6,1565.7 1845.4,1553.4 1849.3,1544.0 C1853.8,1533.3 1858.2,1514.8 1862.7,1497.3 C1867.1,1479.8 1871.6,1459.8 1876.0,1437.3 C1880.4,1414.9 1884.9,1388.9 1889.3,1360.7 C1892.7,1339.5 1896.0,1305.3 1899.3,1290.7 C1903.2,1273.6 1907.1,1258.5 1911.0,1254.0 C1914.9,1249.5 1918.8,1245.7 1922.7,1245.7 C1927.1,1245.7 1931.6,1258.5 1936.0,1270.7 C1939.3,1279.8 1942.7,1301.2 1946.0,1317.3 C1949.3,1333.4 1952.7,1353.6 1956.0,1367.3 C1959.5,1381.7 1963.0,1389.6 1966.5,1404.0 C1968.8,1413.4 1971.1,1427.3 1973.3,1437.3 C1976.7,1452.1 1980.0,1470.2 1983.3,1477.3 C1987.2,1485.6 1991.1,1494.0 1995.0,1494.0 C1998.9,1494.0 2002.8,1488.8 2006.7,1484.0 C2011.1,1478.5 2015.6,1464.7 2020.0,1454.0 C2023.9,1444.7 2027.8,1429.7 2031.7,1424.0 C2036.1,1417.5 2040.6,1410.7 2045.0,1410.7 C2049.4,1410.7 2053.9,1417.3 2058.3,1424.0 C2062.2,1429.8 2066.1,1445.1 2070.0,1457.3 C2074.4,1471.3 2078.9,1488.8 2083.3,1504.0 C2086.7,1515.4 2090.0,1529.9 2093.3,1537.3 C2097.8,1547.2 2102.2,1559.0 2106.7,1559.0 C2110.6,1559.0 2114.4,1556.6 2118.3,1554.0 C2123.3,1550.6 2128.3,1535.2 2133.3,1527.3 C2138.9,1518.6 2144.4,1509.7 2150.0,1504.0 C2155.6,1498.3 2161.1,1494.1 2166.7,1490.7 C2171.1,1488.0 2175.6,1484.0 2180.0,1484.0 C2184.4,1484.0 2188.9,1486.2 2193.3,1489.0 C2197.8,1491.8 2202.2,1504.5 2206.7,1514.0 C2211.1,1523.5 2215.6,1535.8 2220.0,1547.3 C2223.3,1555.9 2226.7,1568.1 2230.0,1574.0 C2233.3,1579.9 2236.7,1587.3 2240.0,1587.3 C2243.9,1587.3 2247.8,1582.7 2251.7,1577.3 C2255.6,1571.9 2259.4,1548.5 2263.3,1534.0 C2267.8,1517.4 2272.2,1500.6 2276.7,1484.0 C2280.6,1469.5 2284.4,1450.8 2288.3,1440.7 C2292.2,1430.6 2296.1,1424.6 2300.0,1417.3 C2304.4,1409.0 2308.9,1394.0 2313.3,1394.0 C2327.2,1394.0 2341.1,1394.0 2355.0,1394.0" stroke="#007a1a"/>
<path d="M1243.7,1107.3 C1246.4,1116.2 1249.2,1123.2 1252.0,1134.0 C1255.3,1146.9 1258.7,1168.2 1262.0,1184.0 C1266.4,1205.1 1270.9,1222.9 1275.3,1244.0 C1279.8,1265.1 1284.2,1294.0 1288.7,1310.7 C1293.1,1327.3 1297.6,1343.9 1302.0,1350.7 C1307.6,1359.2 1313.1,1362.4 1318.7,1367.3 C1324.2,1372.3 1329.8,1375.2 1335.3,1380.7 C1339.8,1385.0 1344.2,1391.1 1348.7,1397.3 C1354.2,1405.1 1359.8,1416.8 1365.3,1424.0 C1370.9,1431.2 1376.4,1442.3 1382.0,1442.3 C1385.3,1442.3 1388.7,1439.9 1392.0,1437.3 C1396.4,1434.0 1400.9,1423.5 1405.3,1414.0 C1409.8,1404.5 1414.2,1389.0 1418.7,1377.3 C1423.1,1365.7 1427.6,1352.7 1432.0,1344.0 C1437.6,1333.1 1443.1,1324.3 1448.7,1317.3 C1456.4,1307.6 1464.2,1302.4 1472.0,1294.0 C1478.7,1286.8 1485.3,1277.5 1492.0,1270.7 C1498.7,1263.8 1505.3,1252.3 1512.0,1252.3 C1516.4,1252.3 1520.9,1254.7 1525.3,1257.3 C1529.8,1260.0 1534.2,1267.3 1538.7,1277.3 C1543.1,1287.3 1547.6,1312.9 1552.0,1337.3 C1556.3,1361.1 1560.7,1386.5 1565.0,1428.7 C1565.9,1437.0 1566.7,1454.4 1567.6,1461.6 C1568.8,1471.6 1570.0,1475.1 1571.2,1483.1 C1572.1,1489.6 1573.1,1497.5 1574.0,1504.7 C1575.0,1511.9 1576.0,1519.1 1576.9,1526.3 C1577.9,1533.5 1578.8,1540.6 1579.8,1547.8 C1580.8,1555.0 1581.7,1562.2 1582.7,1569.4 C1583.6,1576.6 1584.6,1583.0 1585.5,1591.0 C1587.7,1608.5 1589.8,1636.3 1591.9,1651.9 C1594.1,1667.9 1596.2,1679.0 1598.4,1690.8 C1600.6,1702.6 1602.7,1720.1 1604.9,1723.3 C1609.4,1729.9 1614.0,1733.7 1618.5,1733.7 C1620.5,1733.7 1622.4,1718.1 1624.3,1710.3 C1626.5,1701.7 1628.7,1695.4 1630.8,1684.3 C1633.0,1673.3 1635.2,1657.0 1637.3,1638.9 C1638.6,1628.1 1639.9,1614.5 1641.2,1600.0 C1642.4,1587.1 1643.5,1568.0 1644.7,1556.1 C1647.2,1529.6 1649.8,1513.4 1652.4,1492.1 C1654.9,1470.7 1657.5,1448.9 1660.1,1428.0 C1662.2,1410.6 1664.3,1390.2 1666.5,1376.8 C1669.9,1355.4 1673.3,1334.1 1676.7,1325.6 C1682.0,1312.4 1687.3,1308.8 1692.7,1300.7 C1697.1,1293.9 1701.6,1287.7 1706.0,1280.7 C1709.3,1275.4 1712.7,1271.4 1716.0,1264.0 C1719.3,1256.6 1722.7,1242.3 1726.0,1230.7 C1729.3,1219.0 1732.7,1205.6 1736.0,1194.0 C1739.3,1182.4 1742.7,1170.6 1746.0,1160.7 C1748.2,1154.0 1750.4,1142.3 1752.7,1142.3 C1756.6,1142.3 1760.4,1142.3 1764.3,1142.3 C1768.2,1142.3 1772.1,1160.2 1776.0,1174.0 C1779.3,1185.8 1782.7,1208.2 1786.0,1224.0 C1790.4,1245.1 1794.9,1262.9 1799.3,1284.0 C1803.8,1305.1 1808.2,1322.7 1812.7,1350.7 C1817.1,1378.7 1821.6,1445.2 1826.0,1464.0 C1829.9,1480.5 1833.8,1497.3 1837.7,1497.3 C1841.6,1497.3 1845.4,1482.2 1849.3,1470.7 C1853.8,1457.5 1858.2,1434.4 1862.7,1414.0 C1867.1,1393.6 1871.6,1370.1 1876.0,1347.3 C1880.4,1324.6 1884.9,1303.6 1889.3,1277.3 C1892.7,1257.6 1896.0,1228.2 1899.3,1210.7 C1903.2,1190.3 1907.1,1169.6 1911.0,1160.7 C1914.9,1151.7 1918.8,1142.3 1922.7,1142.3 C1927.1,1142.3 1931.6,1153.0 1936.0,1164.0 C1939.3,1172.2 1942.7,1193.2 1946.0,1210.7 C1949.3,1228.2 1952.7,1251.4 1956.0,1270.7 C1959.5,1290.9 1963.0,1309.5 1966.5,1329.0 C1968.8,1341.7 1971.1,1357.1 1973.3,1367.3 C1976.7,1382.3 1980.0,1400.9 1983.3,1404.0 C1987.2,1407.6 1991.1,1410.0 1995.0,1410.0 C1998.9,1410.0 2002.8,1403.0 2006.7,1397.3 C2011.1,1390.9 2015.6,1377.3 2020.0,1367.3 C2024.4,1357.3 2028.9,1341.6 2033.3,1337.3 C2037.2,1333.6 2041.1,1330.0 2045.0,1330.0 C2048.9,1330.0 2052.8,1341.4 2056.7,1350.7 C2061.1,1361.3 2065.6,1384.0 2070.0,1400.7 C2074.4,1417.3 2078.9,1432.7 2083.3,1450.7 C2086.7,1464.1 2090.0,1484.3 2093.3,1494.0 C2097.8,1506.9 2102.2,1522.3 2106.7,1522.3 C2111.1,1522.3 2115.6,1518.3 2120.0,1514.0 C2124.4,1509.7 2128.9,1494.3 2133.3,1484.0 C2138.9,1471.1 2144.4,1457.9 2150.0,1444.0 C2155.6,1430.1 2161.1,1413.2 2166.7,1400.7 C2171.1,1390.7 2175.6,1376.2 2180.0,1374.0 C2183.9,1372.1 2187.8,1370.7 2191.7,1370.7 C2196.7,1370.7 2201.7,1398.1 2206.7,1417.3 C2211.1,1434.5 2215.6,1466.4 2220.0,1484.0 C2223.3,1497.2 2226.7,1511.6 2230.0,1517.3 C2233.3,1523.1 2236.7,1529.0 2240.0,1529.0 C2244.4,1529.0 2248.9,1503.5 2253.3,1484.0 C2256.7,1469.4 2260.0,1438.9 2263.3,1424.0 C2267.8,1404.1 2272.2,1390.5 2276.7,1377.3 C2280.6,1365.8 2284.4,1347.3 2288.3,1347.3 C2292.2,1347.3 2296.1,1348.1 2300.0,1349.0 C2304.4,1350.1 2308.9,1360.7 2313.3,1360.7 C2327.2,1360.7 2341.1,1360.7 2355.0,1360.7" stroke="#ff8c26"/>
<path d="M1248.7,1089.0 C1250.9,1099.6 1253.1,1108.7 1255.3,1120.7 C1258.7,1138.6 1262.0,1163.5 1265.3,1184.0 C1268.7,1204.5 1272.0,1226.2 1275.3,1244.0 C1279.8,1267.7 1284.2,1300.1 1288.7,1307.3 C1292.6,1313.7 1296.4,1319.0 1300.3,1319.0 C1304.2,1319.0 1308.1,1316.1 1312.0,1314.0 C1317.0,1311.3 1322.0,1302.3 1327.0,1302.3 C1330.9,1302.3 1334.8,1304.7 1338.7,1307.3 C1343.1,1310.4 1347.6,1322.9 1352.0,1330.7 C1356.4,1338.4 1360.9,1348.7 1365.3,1354.0 C1368.7,1358.0 1372.0,1363.3 1375.3,1363.3 C1379.2,1363.3 1383.1,1360.5 1387.0,1357.3 C1390.9,1354.2 1394.8,1342.2 1398.7,1334.0 C1403.1,1324.6 1407.6,1312.0 1412.0,1304.0 C1416.4,1296.0 1420.9,1286.7 1425.3,1284.0 C1429.8,1281.3 1434.2,1279.0 1438.7,1279.0 C1446.4,1279.0 1454.2,1279.0 1462.0,1279.0 C1466.4,1279.0 1470.9,1274.5 1475.3,1270.7 C1480.9,1265.9 1486.4,1253.8 1492.0,1247.3 C1497.6,1240.9 1503.1,1230.7 1508.7,1230.7 C1513.1,1230.7 1517.6,1233.8 1522.0,1237.3 C1526.4,1240.9 1530.9,1252.1 1535.3,1264.0 C1539.8,1275.9 1544.2,1297.6 1548.7,1317.3 C1553.1,1337.1 1557.6,1358.4 1562.0,1384.0 C1564.8,1400.2 1567.6,1424.2 1570.5,1440.0 C1571.9,1448.1 1573.3,1453.4 1574.8,1461.6 C1576.2,1469.8 1577.6,1482.1 1579.1,1490.3 C1580.5,1498.5 1582.0,1503.7 1583.4,1511.9 C1584.8,1520.1 1586.3,1532.4 1587.7,1540.6 C1589.1,1548.9 1590.6,1555.0 1592.0,1562.2 C1593.5,1569.4 1594.9,1574.8 1596.3,1583.8 C1597.0,1588.1 1597.7,1597.1 1598.4,1600.0 C1600.6,1609.3 1602.7,1614.5 1604.9,1616.9 C1609.0,1621.3 1613.1,1624.7 1617.2,1624.7 C1619.2,1624.7 1621.1,1617.9 1623.1,1613.0 C1624.3,1609.7 1625.6,1605.1 1626.9,1600.0 C1629.0,1591.8 1631.1,1580.7 1633.2,1568.9 C1635.7,1554.3 1638.3,1534.7 1640.8,1517.7 C1643.4,1500.6 1646.0,1484.5 1648.5,1466.5 C1651.1,1448.4 1653.6,1426.6 1656.2,1408.8 C1659.2,1388.1 1662.2,1367.0 1665.2,1351.2 C1669.0,1330.9 1672.9,1314.8 1676.7,1300.0 C1677.6,1296.6 1678.5,1293.7 1679.3,1290.7 C1683.8,1275.5 1688.2,1259.2 1692.7,1247.3 C1697.1,1235.5 1701.6,1226.7 1706.0,1217.3 C1710.4,1207.9 1714.9,1200.5 1719.3,1190.7 C1723.8,1180.8 1728.2,1170.1 1732.7,1157.3 C1736.0,1147.7 1739.3,1131.6 1742.7,1124.0 C1746.0,1116.4 1749.3,1106.7 1752.7,1106.7 C1757.1,1106.7 1761.6,1111.4 1766.0,1117.3 C1769.3,1121.8 1772.7,1137.3 1776.0,1150.7 C1779.3,1164.0 1782.7,1185.3 1786.0,1200.7 C1790.4,1221.2 1794.9,1237.9 1799.3,1257.3 C1803.8,1276.8 1808.2,1297.3 1812.7,1317.3 C1817.1,1337.3 1821.6,1373.5 1826.0,1377.3 C1829.3,1380.2 1832.7,1382.3 1836.0,1382.3 C1840.4,1382.3 1844.9,1367.6 1849.3,1357.3 C1853.8,1347.1 1858.2,1332.1 1862.7,1317.3 C1867.1,1302.5 1871.6,1285.0 1876.0,1267.3 C1880.4,1249.6 1884.9,1233.0 1889.3,1210.7 C1892.7,1193.9 1896.0,1166.7 1899.3,1150.7 C1903.2,1131.9 1907.1,1108.3 1911.0,1104.0 C1915.4,1099.1 1919.9,1095.7 1924.3,1095.7 C1928.2,1095.7 1932.1,1106.7 1936.0,1117.3 C1939.3,1126.5 1942.7,1148.3 1946.0,1167.3 C1949.3,1186.4 1952.7,1211.0 1956.0,1234.0 C1959.5,1258.1 1963.0,1283.2 1966.5,1309.0 C1968.8,1325.8 1971.1,1348.5 1973.3,1360.7 C1976.7,1378.5 1980.0,1398.0 1983.3,1400.7 C1987.2,1403.7 1991.1,1405.7 1995.0,1405.7 C1998.9,1405.7 2002.8,1389.0 2006.7,1377.3 C2011.1,1364.0 2015.6,1339.6 2020.0,1324.0 C2023.9,1310.3 2027.8,1295.5 2031.7,1287.3 C2036.1,1278.0 2040.6,1266.7 2045.0,1266.7 C2049.4,1266.7 2053.9,1272.5 2058.3,1279.0 C2062.2,1284.7 2066.1,1303.7 2070.0,1317.3 C2074.4,1332.9 2078.9,1350.9 2083.3,1367.3 C2086.7,1379.7 2090.0,1396.8 2093.3,1404.0 C2097.8,1413.7 2102.2,1424.0 2106.7,1424.0 C2110.6,1424.0 2114.4,1420.6 2118.3,1417.3 C2123.3,1413.1 2128.3,1399.1 2133.3,1390.7 C2138.9,1381.3 2144.4,1372.3 2150.0,1364.0 C2155.6,1355.7 2161.1,1346.3 2166.7,1340.7 C2171.1,1336.2 2175.6,1330.0 2180.0,1330.0 C2184.4,1330.0 2188.9,1334.0 2193.3,1339.0 C2197.8,1344.0 2202.2,1366.1 2206.7,1384.0 C2211.1,1401.9 2215.6,1426.3 2220.0,1450.7 C2223.3,1468.9 2226.7,1505.8 2230.0,1510.7 C2233.3,1515.5 2236.7,1519.0 2240.0,1519.0 C2243.3,1519.0 2246.7,1498.8 2250.0,1484.0 C2254.4,1464.3 2258.9,1427.2 2263.3,1400.7 C2267.2,1377.5 2271.1,1351.3 2275.0,1334.0 C2279.4,1314.2 2283.9,1285.7 2288.3,1285.7 C2292.2,1285.7 2296.1,1285.7 2300.0,1285.7 C2303.9,1285.7 2307.8,1299.0 2311.7,1299.0 C2326.1,1299.0 2340.6,1299.0 2355.0,1299.0" stroke="#ff1f8f"/>
<path d="M1248.7,2302.7 C1251.1,2313.8 1253.6,2324.8 1256.0,2336.0 C1259.3,2351.3 1262.7,2366.6 1266.0,2382.7 C1269.3,2398.8 1272.7,2417.9 1276.0,2432.7 C1279.3,2447.5 1282.7,2462.8 1286.0,2472.7 C1289.3,2482.5 1292.7,2493.6 1296.0,2496.0 C1301.6,2500.0 1307.1,2500.2 1312.7,2502.7 C1317.1,2504.7 1321.6,2506.2 1326.0,2509.3 C1330.4,2512.5 1334.9,2519.5 1339.3,2526.0 C1343.8,2532.5 1348.2,2543.3 1352.7,2549.3 C1357.7,2556.2 1362.7,2566.0 1367.7,2566.0 C1371.6,2566.0 1375.4,2564.6 1379.3,2562.7 C1383.8,2560.5 1388.2,2546.3 1392.7,2536.0 C1397.1,2525.7 1401.6,2511.0 1406.0,2499.3 C1410.4,2487.7 1414.9,2473.3 1419.3,2466.0 C1424.9,2456.9 1430.4,2448.9 1436.0,2446.0 C1442.7,2442.5 1449.3,2439.9 1456.0,2439.3 C1460.4,2439.0 1464.9,2439.1 1469.3,2438.7 C1474.9,2438.2 1480.4,2432.8 1486.0,2431.0 C1490.4,2429.6 1494.9,2427.7 1499.3,2427.7 C1503.8,2427.7 1508.2,2430.0 1512.7,2432.7 C1517.1,2435.3 1521.6,2444.0 1526.0,2452.7 C1530.4,2461.3 1534.9,2474.8 1539.3,2489.3 C1543.8,2503.8 1548.2,2522.9 1552.7,2542.7 C1557.1,2562.4 1561.6,2587.1 1566.0,2609.3 C1570.4,2631.6 1574.9,2654.9 1579.3,2676.0 C1583.8,2697.1 1588.2,2722.8 1592.7,2736.0 C1593.8,2739.3 1594.9,2741.9 1596.0,2744.0 C1598.2,2748.4 1600.4,2752.8 1602.7,2754.5 C1604.7,2756.1 1606.7,2757.7 1608.7,2757.7 C1612.8,2757.7 1616.9,2732.8 1621.0,2712.7 C1624.9,2693.6 1628.8,2654.7 1632.7,2626.0 C1636.0,2601.4 1639.3,2574.7 1642.7,2552.7 C1646.0,2530.7 1649.3,2508.7 1652.7,2492.7 C1656.0,2476.7 1659.3,2462.5 1662.7,2452.7 C1666.0,2442.8 1669.3,2434.0 1672.7,2429.3 C1676.0,2424.7 1679.3,2421.6 1682.7,2419.3 C1687.1,2416.3 1691.6,2414.4 1696.0,2412.7 C1699.3,2411.3 1702.7,2411.1 1706.0,2409.3 C1710.4,2407.0 1714.9,2397.3 1719.3,2389.3 C1723.8,2381.3 1728.2,2367.8 1732.7,2359.3 C1736.0,2353.0 1739.3,2344.3 1742.7,2342.7 C1746.6,2340.7 1750.4,2339.3 1754.3,2339.3 C1758.2,2339.3 1762.1,2351.2 1766.0,2359.3 C1770.4,2368.7 1774.9,2381.5 1779.3,2396.0 C1783.8,2410.5 1788.2,2430.0 1792.7,2449.3 C1797.1,2468.6 1801.6,2489.0 1806.0,2512.7 C1809.3,2530.4 1812.7,2561.5 1816.0,2572.7 C1819.3,2583.9 1822.7,2596.0 1826.0,2596.0 C1830.4,2596.0 1834.9,2585.5 1839.3,2576.0 C1843.8,2566.5 1848.2,2543.7 1852.7,2526.0 C1857.1,2508.3 1861.6,2488.8 1866.0,2469.3 C1870.4,2449.9 1874.9,2428.9 1879.3,2409.3 C1882.7,2394.6 1886.0,2377.4 1889.3,2366.0 C1892.7,2354.6 1896.0,2340.2 1899.3,2337.7 C1903.2,2334.7 1907.1,2332.7 1911.0,2332.7 C1914.9,2332.7 1918.8,2343.8 1922.7,2352.7 C1926.0,2360.3 1929.3,2373.9 1932.7,2386.0 C1936.0,2398.1 1939.3,2413.1 1942.7,2426.0 C1947.1,2443.2 1951.6,2457.5 1956.0,2476.0 C1957.3,2481.5 1958.7,2488.8 1960.0,2494.0 C1962.1,2502.3 1964.2,2509.5 1966.3,2515.6 C1968.7,2522.2 1971.0,2532.7 1973.3,2532.7 C1976.7,2532.7 1980.0,2532.7 1983.3,2532.7 C1986.7,2532.7 1990.0,2524.6 1993.3,2519.3 C1997.8,2512.3 2002.2,2499.9 2006.7,2492.7 C2011.1,2485.4 2015.6,2476.4 2020.0,2474.3 C2023.9,2472.5 2027.8,2471.0 2031.7,2471.0 C2036.1,2471.0 2040.6,2479.4 2045.0,2486.0 C2050.0,2493.4 2055.0,2507.6 2060.0,2519.3 C2064.4,2529.8 2068.9,2543.9 2073.3,2552.7 C2076.7,2559.3 2080.0,2565.2 2083.3,2569.3 C2086.7,2573.5 2090.0,2579.3 2093.3,2579.3 C2097.8,2579.3 2102.2,2573.6 2106.7,2569.3 C2112.2,2564.0 2117.8,2552.5 2123.3,2546.0 C2128.9,2539.5 2134.4,2533.5 2140.0,2529.3 C2145.6,2525.2 2151.1,2521.7 2156.7,2519.3 C2160.0,2517.9 2163.3,2516.0 2166.7,2516.0 C2170.6,2516.0 2174.4,2518.3 2178.3,2521.0 C2182.2,2523.7 2186.1,2534.1 2190.0,2542.7 C2194.4,2552.5 2198.9,2568.3 2203.3,2579.3 C2207.8,2590.3 2212.2,2602.6 2216.7,2609.3 C2220.0,2614.4 2223.3,2621.0 2226.7,2621.0 C2230.6,2621.0 2234.4,2615.4 2238.3,2609.3 C2242.2,2603.3 2246.1,2583.2 2250.0,2569.3 C2254.4,2553.4 2258.9,2531.9 2263.3,2519.3 C2267.2,2508.3 2271.1,2498.6 2275.0,2492.7 C2278.9,2486.7 2282.8,2484.2 2286.7,2479.3 C2291.1,2473.8 2295.6,2461.0 2300.0,2461.0 C2314.4,2461.0 2328.9,2461.0 2343.3,2461.0" stroke="#000000"/>
<path d="M1248.7,2189.3 C1251.1,2199.3 1253.6,2208.4 1256.0,2219.3 C1259.3,2234.3 1262.7,2252.7 1266.0,2269.3 C1269.3,2286.0 1272.7,2303.2 1276.0,2319.3 C1279.3,2335.4 1282.7,2352.3 1286.0,2366.0 C1289.3,2379.7 1292.7,2398.5 1296.0,2402.7 C1301.6,2409.6 1307.1,2411.1 1312.7,2414.3 C1317.1,2416.9 1321.6,2417.7 1326.0,2421.0 C1330.4,2424.3 1334.9,2432.5 1339.3,2439.3 C1343.8,2446.2 1348.2,2456.6 1352.7,2462.7 C1357.7,2469.5 1362.7,2479.3 1367.7,2479.3 C1371.6,2479.3 1375.4,2477.1 1379.3,2474.3 C1383.8,2471.2 1388.2,2457.1 1392.7,2446.0 C1397.1,2434.9 1401.6,2418.1 1406.0,2406.0 C1410.4,2393.9 1414.9,2381.4 1419.3,2372.7 C1424.9,2361.7 1430.4,2348.9 1436.0,2346.0 C1442.7,2342.6 1449.3,2341.4 1456.0,2340.0 C1460.4,2339.0 1464.9,2338.8 1469.3,2337.7 C1474.9,2336.2 1480.4,2330.6 1486.0,2327.7 C1491.6,2324.8 1497.1,2320.0 1502.7,2320.0 C1507.1,2320.0 1511.6,2322.8 1516.0,2326.0 C1520.4,2329.2 1524.9,2339.2 1529.3,2349.3 C1533.8,2359.4 1538.2,2375.2 1542.7,2392.7 C1547.1,2410.2 1551.6,2435.6 1556.0,2459.3 C1560.4,2483.1 1564.9,2511.0 1569.3,2536.0 C1573.8,2561.0 1578.2,2583.5 1582.7,2609.3 C1587.1,2635.2 1591.6,2675.9 1596.0,2691.8 C1599.4,2704.2 1602.9,2716.6 1606.3,2718.5 C1607.1,2718.9 1607.9,2719.3 1608.7,2719.3 C1612.8,2719.3 1616.9,2698.0 1621.0,2679.3 C1624.9,2661.7 1628.8,2623.8 1632.7,2592.7 C1636.0,2565.9 1639.3,2533.7 1642.7,2506.0 C1646.0,2478.3 1649.3,2448.9 1652.7,2426.0 C1656.0,2403.1 1659.3,2379.3 1662.7,2366.0 C1666.0,2352.7 1669.3,2343.1 1672.7,2336.0 C1676.0,2328.9 1679.3,2323.6 1682.7,2319.3 C1687.1,2313.7 1691.6,2310.9 1696.0,2306.0 C1700.4,2301.1 1704.9,2296.5 1709.3,2289.3 C1713.8,2282.2 1718.2,2269.9 1722.7,2259.3 C1727.1,2248.8 1731.6,2235.8 1736.0,2226.0 C1739.3,2218.6 1742.7,2206.0 1746.0,2206.0 C1749.3,2206.0 1752.7,2206.0 1756.0,2206.0 C1759.9,2206.0 1763.8,2226.0 1767.7,2239.3 C1771.6,2252.7 1775.4,2271.8 1779.3,2289.3 C1783.8,2309.3 1788.2,2331.0 1792.7,2352.7 C1797.1,2374.3 1801.6,2395.0 1806.0,2419.3 C1809.3,2437.6 1812.7,2460.5 1816.0,2479.3 C1819.3,2498.2 1822.7,2532.7 1826.0,2532.7 C1830.4,2532.7 1834.9,2522.5 1839.3,2512.7 C1843.8,2502.8 1848.2,2476.4 1852.7,2456.0 C1857.1,2435.6 1861.6,2413.1 1866.0,2389.3 C1870.4,2365.6 1874.9,2341.5 1879.3,2312.7 C1882.7,2291.1 1886.0,2257.9 1889.3,2239.3 C1892.7,2220.7 1896.0,2195.3 1899.3,2194.3 C1903.2,2193.2 1907.1,2192.7 1911.0,2192.7 C1914.9,2192.7 1918.8,2207.9 1922.7,2219.3 C1926.0,2229.1 1929.3,2244.1 1932.7,2259.3 C1936.0,2274.6 1939.3,2296.3 1942.7,2312.7 C1947.1,2334.4 1951.6,2350.3 1956.0,2372.7 C1957.3,2379.4 1958.7,2388.0 1960.0,2394.7 C1962.1,2405.2 1964.2,2415.3 1966.3,2423.3 C1968.7,2432.1 1971.0,2443.9 1973.3,2446.0 C1976.7,2449.0 1980.0,2451.0 1983.3,2451.0 C1987.8,2451.0 1992.2,2442.9 1996.7,2436.0 C2001.1,2429.1 2005.6,2412.5 2010.0,2402.7 C2013.3,2395.3 2016.7,2385.9 2020.0,2382.7 C2023.9,2378.9 2027.8,2375.3 2031.7,2375.3 C2036.1,2375.3 2040.6,2380.5 2045.0,2386.0 C2048.9,2390.8 2052.8,2405.2 2056.7,2416.0 C2061.1,2428.3 2065.6,2443.9 2070.0,2456.0 C2074.4,2468.1 2078.9,2480.5 2083.3,2489.3 C2086.7,2495.9 2090.0,2505.2 2093.3,2506.0 C2097.8,2507.1 2102.2,2507.7 2106.7,2507.7 C2112.2,2507.7 2117.8,2493.5 2123.3,2486.0 C2128.9,2478.5 2134.4,2469.8 2140.0,2462.7 C2145.6,2455.5 2151.1,2448.7 2156.7,2442.7 C2160.6,2438.4 2164.4,2431.0 2168.3,2431.0 C2172.2,2431.0 2176.1,2431.0 2180.0,2431.0 C2183.3,2431.0 2186.7,2443.3 2190.0,2452.7 C2193.3,2462.0 2196.7,2479.3 2200.0,2492.7 C2204.4,2510.4 2208.9,2535.2 2213.3,2546.0 C2217.8,2556.8 2222.2,2569.3 2226.7,2569.3 C2231.1,2569.3 2235.6,2563.3 2240.0,2556.0 C2244.4,2548.7 2248.9,2516.4 2253.3,2492.7 C2256.7,2474.9 2260.0,2447.3 2263.3,2432.7 C2267.2,2415.6 2271.1,2402.5 2275.0,2392.7 C2278.9,2382.8 2282.8,2375.3 2286.7,2369.3 C2291.1,2362.5 2295.6,2352.7 2300.0,2352.7 C2314.4,2352.7 2328.9,2352.7 2343.3,2352.7" stroke="#2a00ff"/>
<path d="M1248.7,2169.3 C1251.1,2180.4 1253.6,2191.4 1256.0,2202.7 C1259.3,2218.0 1262.7,2233.2 1266.0,2249.3 C1269.3,2265.4 1272.7,2285.2 1276.0,2299.3 C1279.3,2313.4 1282.7,2326.9 1286.0,2336.0 C1289.3,2345.1 1292.7,2355.8 1296.0,2357.7 C1301.6,2360.8 1307.1,2361.7 1312.7,2362.7 C1317.1,2363.4 1321.6,2363.4 1326.0,2364.3 C1330.4,2365.3 1334.9,2371.1 1339.3,2376.0 C1343.8,2380.9 1348.2,2391.2 1352.7,2396.0 C1357.7,2401.4 1362.7,2408.7 1367.7,2408.7 C1371.6,2408.7 1375.4,2406.7 1379.3,2404.3 C1383.8,2401.6 1388.2,2388.9 1392.7,2379.3 C1397.1,2369.8 1401.6,2355.2 1406.0,2346.0 C1410.4,2336.8 1414.9,2329.0 1419.3,2322.7 C1424.9,2314.7 1430.4,2304.0 1436.0,2302.7 C1442.7,2301.0 1449.3,2301.3 1456.0,2300.0 C1460.4,2299.2 1464.9,2297.8 1469.3,2296.0 C1474.9,2293.8 1480.4,2288.5 1486.0,2286.0 C1491.6,2283.5 1497.1,2280.0 1502.7,2280.0 C1507.1,2280.0 1511.6,2282.8 1516.0,2286.0 C1520.4,2289.2 1524.9,2299.2 1529.3,2309.3 C1533.8,2319.4 1538.2,2335.5 1542.7,2352.7 C1547.1,2369.8 1551.6,2393.8 1556.0,2416.0 C1560.4,2438.2 1564.9,2463.2 1569.3,2486.0 C1573.8,2508.8 1578.2,2531.7 1582.7,2552.7 C1587.1,2573.6 1591.6,2601.0 1596.0,2612.2 C1599.4,2620.9 1602.9,2630.5 1606.3,2630.8 C1607.1,2630.9 1607.9,2631.0 1608.7,2631.0 C1612.8,2631.0 1616.9,2605.0 1621.0,2586.0 C1624.9,2568.0 1628.8,2541.1 1632.7,2512.7 C1636.0,2488.3 1639.3,2451.1 1642.7,2426.0 C1646.0,2400.9 1649.3,2377.6 1652.7,2359.3 C1656.0,2341.0 1659.3,2323.0 1662.7,2312.7 C1666.0,2302.3 1669.3,2294.5 1672.7,2289.3 C1676.0,2284.1 1679.3,2279.1 1682.7,2277.7 C1687.1,2275.8 1691.6,2275.8 1696.0,2274.3 C1699.3,2273.2 1702.7,2271.9 1706.0,2269.3 C1710.4,2265.9 1714.9,2252.5 1719.3,2242.7 C1723.8,2232.8 1728.2,2219.2 1732.7,2209.3 C1736.0,2202.0 1739.3,2191.0 1742.7,2189.3 C1746.6,2187.4 1750.4,2186.0 1754.3,2186.0 C1758.2,2186.0 1762.1,2202.0 1766.0,2212.7 C1770.4,2224.9 1774.9,2241.8 1779.3,2259.3 C1783.8,2276.8 1788.2,2299.3 1792.7,2319.3 C1797.1,2339.3 1801.6,2357.6 1806.0,2379.3 C1809.3,2395.7 1812.7,2424.2 1816.0,2432.7 C1819.3,2441.1 1822.7,2449.3 1826.0,2449.3 C1830.4,2449.3 1834.9,2436.8 1839.3,2426.0 C1843.8,2415.2 1848.2,2392.4 1852.7,2372.7 C1857.1,2352.9 1861.6,2327.1 1866.0,2306.0 C1870.4,2284.9 1874.9,2262.9 1879.3,2246.0 C1882.7,2233.3 1886.0,2219.6 1889.3,2212.7 C1892.7,2205.8 1896.0,2198.6 1899.3,2197.7 C1903.2,2196.6 1907.1,2196.0 1911.0,2196.0 C1914.9,2196.0 1918.8,2209.2 1922.7,2219.3 C1926.0,2228.0 1929.3,2242.8 1932.7,2256.0 C1936.0,2269.2 1939.3,2286.9 1942.7,2299.3 C1947.1,2316.0 1951.6,2332.4 1956.0,2342.7 C1957.3,2345.7 1958.7,2347.6 1960.0,2350.4 C1962.1,2354.7 1964.2,2360.0 1966.3,2364.5 C1968.7,2369.6 1971.0,2379.3 1973.3,2379.3 C1976.7,2379.3 1980.0,2379.3 1983.3,2379.3 C1986.7,2379.3 1990.0,2373.5 1993.3,2369.3 C1997.8,2363.7 2002.2,2353.8 2006.7,2346.0 C2011.7,2337.2 2016.7,2319.3 2021.7,2319.3 C2025.6,2319.3 2029.4,2319.3 2033.3,2319.3 C2037.8,2319.3 2042.2,2332.8 2046.7,2342.7 C2051.1,2352.5 2055.6,2368.8 2060.0,2382.7 C2064.4,2396.5 2068.9,2415.1 2073.3,2426.0 C2076.7,2434.2 2080.0,2443.3 2083.3,2446.0 C2086.7,2448.7 2090.0,2451.0 2093.3,2451.0 C2097.8,2451.0 2102.2,2441.8 2106.7,2436.0 C2112.2,2428.7 2117.8,2416.2 2123.3,2409.3 C2128.9,2402.5 2134.4,2396.8 2140.0,2392.7 C2145.6,2388.5 2151.1,2383.8 2156.7,2382.7 C2161.1,2381.8 2165.6,2381.0 2170.0,2381.0 C2174.4,2381.0 2178.9,2384.4 2183.3,2387.7 C2188.9,2391.8 2194.4,2403.1 2200.0,2412.7 C2204.4,2420.3 2208.9,2432.5 2213.3,2439.3 C2217.8,2446.2 2222.2,2456.0 2226.7,2456.0 C2231.1,2456.0 2235.6,2453.0 2240.0,2449.3 C2244.4,2445.6 2248.9,2428.2 2253.3,2416.0 C2256.7,2406.9 2260.0,2395.2 2263.3,2386.0 C2267.2,2375.2 2271.1,2364.0 2275.0,2356.0 C2278.9,2348.0 2282.8,2343.0 2286.7,2336.0 C2291.1,2328.0 2295.6,2311.0 2300.0,2311.0 C2314.4,2311.0 2328.9,2311.0 2343.3,2311.0" stroke="#007a1a"/>
<path d="M1248.7,2121.0 C1251.1,2131.6 1253.6,2141.7 1256.0,2152.7 C1259.3,2167.6 1262.7,2184.4 1266.0,2199.3 C1269.3,2214.3 1272.7,2230.8 1276.0,2242.7 C1279.3,2254.5 1282.7,2265.5 1286.0,2272.7 C1289.3,2279.8 1292.7,2286.3 1296.0,2289.3 C1301.6,2294.4 1307.1,2295.6 1312.7,2299.3 C1317.1,2302.3 1321.6,2304.9 1326.0,2309.3 C1330.4,2313.8 1334.9,2322.2 1339.3,2329.3 C1343.8,2336.5 1348.2,2347.0 1352.7,2352.7 C1357.7,2359.1 1362.7,2367.7 1367.7,2367.7 C1371.6,2367.7 1375.4,2366.2 1379.3,2364.3 C1383.8,2362.2 1388.2,2348.9 1392.7,2339.3 C1397.1,2329.8 1401.6,2315.9 1406.0,2306.0 C1410.4,2296.1 1414.9,2285.7 1419.3,2279.3 C1424.9,2271.4 1430.4,2264.4 1436.0,2261.0 C1442.7,2256.9 1449.3,2255.7 1456.0,2252.7 C1460.4,2250.6 1464.9,2248.8 1469.3,2246.0 C1474.9,2242.5 1480.4,2235.4 1486.0,2231.0 C1491.6,2226.6 1497.1,2219.3 1502.7,2219.3 C1507.1,2219.3 1511.6,2221.6 1516.0,2224.3 C1520.4,2227.0 1524.9,2236.4 1529.3,2246.0 C1533.8,2255.6 1538.2,2272.6 1542.7,2289.3 C1547.1,2306.1 1551.6,2328.3 1556.0,2349.3 C1560.4,2370.4 1564.9,2394.3 1569.3,2416.0 C1573.8,2437.7 1578.2,2458.2 1582.7,2479.3 C1587.1,2500.5 1591.6,2527.9 1596.0,2542.8 C1599.4,2554.3 1602.9,2564.9 1606.3,2570.0 C1607.1,2571.1 1607.9,2572.7 1608.7,2572.7 C1612.8,2572.7 1616.9,2549.7 1621.0,2532.7 C1624.9,2516.5 1628.8,2491.1 1632.7,2466.0 C1636.0,2444.5 1639.3,2415.9 1642.7,2392.7 C1646.0,2369.4 1649.3,2344.3 1652.7,2326.0 C1656.0,2307.7 1659.3,2292.3 1662.7,2279.3 C1666.0,2266.4 1669.3,2253.4 1672.7,2246.0 C1676.0,2238.6 1679.3,2233.6 1682.7,2229.3 C1687.1,2223.7 1691.6,2220.4 1696.0,2216.0 C1700.4,2211.6 1704.9,2208.0 1709.3,2202.7 C1713.8,2197.3 1718.2,2190.3 1722.7,2182.7 C1727.1,2175.0 1731.6,2164.0 1736.0,2156.0 C1739.3,2150.0 1742.7,2139.8 1746.0,2139.3 C1749.3,2138.9 1752.7,2138.7 1756.0,2138.7 C1759.9,2138.7 1763.8,2150.2 1767.7,2159.3 C1771.6,2168.4 1775.4,2185.0 1779.3,2199.3 C1783.8,2215.7 1788.2,2233.4 1792.7,2252.7 C1797.1,2272.0 1801.6,2294.3 1806.0,2316.0 C1809.3,2332.3 1812.7,2354.9 1816.0,2366.0 C1819.3,2377.1 1822.7,2391.0 1826.0,2391.0 C1830.4,2391.0 1834.9,2381.4 1839.3,2372.7 C1843.8,2363.9 1848.2,2342.6 1852.7,2326.0 C1857.1,2309.4 1861.6,2291.0 1866.0,2272.7 C1870.4,2254.4 1874.9,2235.1 1879.3,2216.0 C1882.7,2201.7 1886.0,2182.8 1889.3,2172.7 C1892.7,2162.6 1896.0,2151.8 1899.3,2149.3 C1903.2,2146.5 1907.1,2144.3 1911.0,2144.3 C1914.9,2144.3 1918.8,2156.3 1922.7,2166.0 C1926.0,2174.3 1929.3,2189.9 1932.7,2202.7 C1936.0,2215.4 1939.3,2230.7 1942.7,2242.7 C1947.1,2258.7 1951.6,2272.6 1956.0,2286.0 C1957.3,2290.0 1958.7,2294.1 1960.0,2297.5 C1962.1,2302.8 1964.2,2307.5 1966.3,2311.7 C1968.7,2316.4 1971.0,2324.3 1973.3,2324.3 C1976.7,2324.3 1980.0,2323.7 1983.3,2322.7 C1986.7,2321.7 1990.0,2314.0 1993.3,2309.3 C1997.8,2303.1 2002.2,2295.0 2006.7,2289.3 C2011.7,2282.9 2016.7,2272.7 2021.7,2272.7 C2025.6,2272.7 2029.4,2275.0 2033.3,2277.7 C2037.8,2280.7 2042.2,2292.4 2046.7,2302.7 C2051.1,2312.9 2055.6,2329.9 2060.0,2342.7 C2064.4,2355.4 2068.9,2370.8 2073.3,2379.3 C2076.7,2385.7 2080.0,2391.8 2083.3,2394.3 C2086.7,2396.8 2090.0,2399.3 2093.3,2399.3 C2097.8,2399.3 2102.2,2392.0 2106.7,2387.7 C2112.2,2382.3 2117.8,2374.5 2123.3,2369.3 C2128.9,2364.2 2134.4,2359.8 2140.0,2356.0 C2145.6,2352.2 2151.1,2348.5 2156.7,2346.0 C2161.1,2344.0 2165.6,2341.0 2170.0,2341.0 C2174.4,2341.0 2178.9,2342.6 2183.3,2344.3 C2188.9,2346.5 2194.4,2356.2 2200.0,2362.7 C2204.4,2367.9 2208.9,2376.2 2213.3,2379.3 C2217.8,2382.5 2222.2,2386.0 2226.7,2386.0 C2231.1,2386.0 2235.6,2382.0 2240.0,2377.7 C2244.4,2373.4 2248.9,2361.0 2253.3,2349.3 C2256.7,2340.6 2260.0,2325.1 2263.3,2316.0 C2267.2,2305.4 2271.1,2296.2 2275.0,2289.3 C2278.9,2282.5 2282.8,2277.9 2286.7,2272.7 C2291.1,2266.7 2295.6,2256.0 2300.0,2256.0 C2314.4,2256.0 2328.9,2256.0 2343.3,2256.0" stroke="#ff8c26"/>
<path d="M1248.7,2076.0 C1251.1,2086.0 1253.6,2095.4 1256.0,2106.0 C1259.3,2120.5 1262.7,2137.7 1266.0,2152.7 C1269.3,2167.6 1272.7,2183.4 1276.0,2196.0 C1279.3,2208.6 1282.7,2221.0 1286.0,2229.3 C1289.3,2237.7 1292.7,2246.1 1296.0,2249.3 C1301.6,2254.7 1307.1,2255.1 1312.7,2259.3 C1317.1,2262.7 1321.6,2266.7 1326.0,2272.7 C1330.4,2278.6 1334.9,2290.4 1339.3,2299.3 C1343.8,2308.2 1348.2,2320.5 1352.7,2326.0 C1357.7,2332.2 1362.7,2339.3 1367.7,2339.3 C1371.6,2339.3 1375.4,2336.2 1379.3,2332.7 C1383.8,2328.7 1388.2,2313.7 1392.7,2302.7 C1397.1,2291.7 1401.6,2276.3 1406.0,2266.0 C1410.4,2255.7 1414.9,2245.3 1419.3,2239.3 C1424.9,2231.8 1430.4,2226.0 1436.0,2222.7 C1442.7,2218.7 1449.3,2217.7 1456.0,2214.3 C1460.4,2212.1 1464.9,2209.4 1469.3,2206.0 C1474.9,2201.8 1480.4,2193.9 1486.0,2189.3 C1491.6,2184.8 1497.1,2177.7 1502.7,2177.7 C1507.1,2177.7 1511.6,2179.9 1516.0,2182.7 C1520.4,2185.4 1524.9,2196.2 1529.3,2206.0 C1533.8,2215.8 1538.2,2229.7 1542.7,2246.0 C1547.1,2262.3 1551.6,2287.7 1556.0,2309.3 C1560.4,2331.0 1564.9,2353.8 1569.3,2376.0 C1573.8,2398.2 1578.2,2419.4 1582.7,2442.7 C1587.1,2466.0 1591.6,2500.2 1596.0,2516.1 C1599.4,2528.5 1602.9,2540.6 1606.3,2544.2 C1607.1,2545.1 1607.9,2546.0 1608.7,2546.0 C1612.8,2546.0 1616.9,2522.7 1621.0,2506.0 C1624.9,2490.2 1628.8,2467.5 1632.7,2442.7 C1636.0,2421.4 1639.3,2389.8 1642.7,2366.0 C1646.0,2342.2 1649.3,2319.1 1652.7,2299.3 C1656.0,2279.6 1659.3,2256.8 1662.7,2246.0 C1666.0,2235.2 1669.3,2229.8 1672.7,2222.7 C1676.0,2215.5 1679.3,2207.2 1682.7,2202.7 C1687.1,2196.6 1691.6,2194.3 1696.0,2189.3 C1700.4,2184.4 1704.9,2179.5 1709.3,2172.7 C1713.8,2165.8 1718.2,2154.9 1722.7,2146.0 C1727.1,2137.1 1731.6,2127.4 1736.0,2119.3 C1739.3,2113.3 1742.7,2103.1 1746.0,2102.7 C1749.3,2102.2 1752.7,2102.0 1756.0,2102.0 C1759.9,2102.0 1763.8,2116.3 1767.7,2126.0 C1771.6,2135.7 1775.4,2148.7 1779.3,2162.7 C1783.8,2178.7 1788.2,2199.9 1792.7,2219.3 C1797.1,2238.8 1801.6,2257.6 1806.0,2279.3 C1809.3,2295.7 1812.7,2320.3 1816.0,2332.7 C1819.3,2345.0 1822.7,2361.0 1826.0,2361.0 C1830.4,2361.0 1834.9,2351.6 1839.3,2342.7 C1843.8,2333.7 1848.2,2309.9 1852.7,2292.7 C1857.1,2275.5 1861.6,2257.6 1866.0,2239.3 C1870.4,2221.0 1874.9,2203.2 1879.3,2182.7 C1882.7,2167.3 1886.0,2147.8 1889.3,2132.7 C1892.7,2117.5 1896.0,2092.8 1899.3,2091.0 C1903.2,2088.9 1907.1,2087.7 1911.0,2087.7 C1914.9,2087.7 1918.8,2102.1 1922.7,2112.7 C1926.0,2121.7 1929.3,2136.1 1932.7,2149.3 C1936.0,2162.6 1939.3,2179.2 1942.7,2192.7 C1947.1,2210.6 1951.6,2222.9 1956.0,2242.7 C1957.3,2248.6 1958.7,2257.4 1960.0,2263.1 C1962.1,2272.2 1964.2,2279.5 1966.3,2286.0 C1968.7,2293.1 1971.0,2304.3 1973.3,2304.3 C1976.7,2304.3 1980.0,2303.7 1983.3,2302.7 C1986.7,2301.6 1990.0,2290.0 1993.3,2282.7 C1997.8,2272.8 2002.2,2258.1 2006.7,2249.3 C2011.1,2240.6 2015.6,2227.7 2020.0,2227.7 C2024.4,2227.7 2028.9,2228.3 2033.3,2229.3 C2037.8,2230.4 2042.2,2246.8 2046.7,2259.3 C2051.1,2271.8 2055.6,2293.2 2060.0,2309.3 C2064.4,2325.4 2068.9,2344.8 2073.3,2356.0 C2076.7,2364.4 2080.0,2373.3 2083.3,2376.0 C2086.7,2378.7 2090.0,2381.0 2093.3,2381.0 C2097.8,2381.0 2102.2,2369.6 2106.7,2362.7 C2112.2,2354.0 2117.8,2340.7 2123.3,2332.7 C2128.9,2324.7 2134.4,2317.6 2140.0,2312.7 C2145.6,2307.8 2151.1,2303.0 2156.7,2301.0 C2161.1,2299.4 2165.6,2297.7 2170.0,2297.7 C2174.4,2297.7 2178.9,2301.9 2183.3,2306.0 C2188.9,2311.1 2194.4,2325.5 2200.0,2336.0 C2204.4,2344.4 2208.9,2357.3 2213.3,2362.7 C2217.8,2368.1 2222.2,2374.3 2226.7,2374.3 C2231.1,2374.3 2235.6,2370.6 2240.0,2366.0 C2244.4,2361.4 2248.9,2340.7 2253.3,2326.0 C2256.7,2314.9 2260.0,2296.3 2263.3,2289.3 C2267.2,2281.2 2271.1,2277.6 2275.0,2272.7 C2278.9,2267.7 2282.8,2264.0 2286.7,2259.3 C2291.1,2254.0 2295.6,2242.7 2300.0,2242.7 C2314.4,2242.7 2328.9,2242.7 2343.3,2242.7" stroke="#ff1f8f"/>
<path d="M1248.7,2041.0 C1251.1,2050.4 1253.6,2059.7 1256.0,2069.3 C1259.3,2082.4 1262.7,2096.0 1266.0,2109.3 C1269.3,2122.7 1272.7,2138.7 1276.0,2149.3 C1279.3,2160.0 1282.7,2169.2 1286.0,2176.0 C1289.3,2182.8 1292.7,2188.4 1296.0,2192.7 C1300.4,2198.3 1304.9,2201.6 1309.3,2206.0 C1313.8,2210.4 1318.2,2214.0 1322.7,2219.3 C1327.1,2224.7 1331.6,2232.2 1336.0,2239.3 C1340.4,2246.5 1344.9,2257.6 1349.3,2262.7 C1355.4,2269.6 1361.6,2277.7 1367.7,2277.7 C1371.6,2277.7 1375.4,2275.3 1379.3,2272.7 C1383.8,2269.6 1388.2,2258.1 1392.7,2249.3 C1397.1,2240.6 1401.6,2229.3 1406.0,2219.3 C1410.4,2209.3 1414.9,2196.5 1419.3,2189.3 C1423.8,2182.2 1428.2,2176.7 1432.7,2172.7 C1438.2,2167.6 1443.8,2164.2 1449.3,2161.0 C1454.9,2157.8 1460.4,2156.1 1466.0,2152.7 C1471.6,2149.2 1477.1,2143.1 1482.7,2139.3 C1488.2,2135.5 1493.8,2129.3 1499.3,2129.3 C1503.8,2129.3 1508.2,2130.8 1512.7,2132.7 C1517.1,2134.5 1521.6,2141.9 1526.0,2149.3 C1530.4,2156.7 1534.9,2169.3 1539.3,2182.7 C1543.8,2196.0 1548.2,2214.5 1552.7,2232.7 C1557.1,2250.8 1561.6,2271.6 1566.0,2292.7 C1570.4,2313.7 1574.9,2337.1 1579.3,2359.3 C1583.8,2381.6 1588.2,2401.9 1592.7,2426.0 C1593.8,2432.0 1594.9,2440.5 1596.0,2445.2 C1598.2,2454.4 1600.4,2462.8 1602.7,2465.7 C1603.9,2467.3 1605.1,2467.9 1606.3,2469.0 C1607.1,2469.7 1607.9,2471.0 1608.7,2471.0 C1612.8,2471.0 1616.9,2455.0 1621.0,2442.7 C1624.9,2431.0 1628.8,2413.1 1632.7,2392.7 C1636.0,2375.2 1639.3,2348.2 1642.7,2326.0 C1646.0,2303.8 1649.3,2277.6 1652.7,2259.3 C1656.0,2241.0 1659.3,2224.8 1662.7,2212.7 C1666.0,2200.5 1669.3,2191.4 1672.7,2182.7 C1676.0,2173.9 1679.3,2165.2 1682.7,2159.3 C1687.1,2151.5 1691.6,2146.8 1696.0,2141.0 C1700.4,2135.2 1704.9,2131.0 1709.3,2124.3 C1713.8,2117.7 1718.2,2107.9 1722.7,2099.3 C1727.1,2090.7 1731.6,2079.1 1736.0,2072.7 C1739.3,2067.8 1742.7,2061.0 1746.0,2061.0 C1749.3,2061.0 1752.7,2061.0 1756.0,2061.0 C1759.9,2061.0 1763.8,2073.3 1767.7,2082.7 C1771.6,2092.0 1775.4,2108.8 1779.3,2122.7 C1783.8,2138.6 1788.2,2155.5 1792.7,2172.7 C1797.1,2189.9 1801.6,2206.8 1806.0,2226.0 C1809.3,2240.4 1812.7,2265.1 1816.0,2272.7 C1819.3,2280.2 1822.7,2287.7 1826.0,2287.7 C1830.4,2287.7 1834.9,2282.0 1839.3,2276.0 C1843.8,2270.0 1848.2,2250.8 1852.7,2236.0 C1857.1,2221.2 1861.6,2203.2 1866.0,2186.0 C1870.4,2168.8 1874.9,2151.9 1879.3,2132.7 C1882.7,2118.3 1886.0,2098.6 1889.3,2086.0 C1892.7,2073.4 1896.0,2057.6 1899.3,2054.3 C1903.2,2050.5 1907.1,2047.7 1911.0,2047.7 C1914.9,2047.7 1918.8,2057.6 1922.7,2066.0 C1926.0,2073.2 1929.3,2086.8 1932.7,2099.3 C1936.0,2111.9 1939.3,2129.2 1942.7,2142.7 C1947.1,2160.6 1951.6,2173.1 1956.0,2192.7 C1957.3,2198.5 1958.7,2206.8 1960.0,2212.7 C1962.1,2222.0 1964.2,2230.2 1966.3,2237.1 C1968.1,2243.0 1969.9,2252.7 1971.7,2252.7 C1975.6,2252.7 1979.4,2252.1 1983.3,2251.0 C1986.7,2250.1 1990.0,2239.7 1993.3,2232.7 C1997.8,2223.3 2002.2,2208.1 2006.7,2199.3 C2011.1,2190.6 2015.6,2177.7 2020.0,2177.7 C2024.4,2177.7 2028.9,2178.3 2033.3,2179.3 C2037.8,2180.4 2042.2,2194.7 2046.7,2206.0 C2051.1,2217.3 2055.6,2238.3 2060.0,2252.7 C2064.4,2267.0 2068.9,2282.7 2073.3,2292.7 C2076.7,2300.2 2080.0,2310.0 2083.3,2311.0 C2086.7,2312.0 2090.0,2312.7 2093.3,2312.7 C2097.8,2312.7 2102.2,2299.9 2106.7,2292.7 C2112.2,2283.6 2117.8,2270.7 2123.3,2262.7 C2128.9,2254.7 2134.4,2245.7 2140.0,2242.7 C2145.6,2239.6 2151.1,2236.7 2156.7,2236.7 C2161.1,2236.7 2165.6,2237.8 2170.0,2239.3 C2174.4,2240.9 2178.9,2249.2 2183.3,2256.0 C2188.9,2264.5 2194.4,2278.2 2200.0,2289.3 C2204.4,2298.2 2208.9,2311.8 2213.3,2316.0 C2217.8,2320.2 2222.2,2324.3 2226.7,2324.3 C2231.1,2324.3 2235.6,2320.6 2240.0,2316.0 C2244.4,2311.4 2248.9,2290.7 2253.3,2276.0 C2256.7,2264.9 2260.0,2245.2 2263.3,2239.3 C2267.2,2232.5 2271.1,2231.3 2275.0,2226.0 C2278.9,2220.7 2282.8,2212.5 2286.7,2206.0 C2291.1,2198.6 2295.6,2184.3 2300.0,2184.3 C2314.4,2184.3 2328.9,2184.3 2343.3,2184.3" stroke="#ff1f1f"/>
<path d="M1243.3,3176.3 C1246.7,3191.9 1250.0,3205.5 1253.3,3223.0 C1256.7,3240.5 1260.0,3261.9 1263.3,3283.0 C1266.7,3304.1 1270.0,3328.0 1273.3,3349.7 C1276.7,3371.3 1280.0,3407.1 1283.3,3413.0 C1287.2,3419.8 1291.1,3424.7 1295.0,3424.7 C1298.9,3424.7 1302.8,3419.6 1306.7,3416.3 C1310.6,3413.1 1314.4,3404.7 1318.3,3404.7 C1322.2,3404.7 1326.1,3405.3 1330.0,3406.3 C1334.4,3407.5 1338.9,3419.8 1343.3,3426.3 C1347.2,3432.0 1351.1,3439.7 1355.0,3443.0 C1358.3,3445.8 1361.7,3449.0 1365.0,3449.0 C1368.9,3449.0 1372.8,3442.4 1376.7,3436.3 C1380.0,3431.1 1383.3,3418.7 1386.7,3409.7 C1391.1,3397.6 1395.6,3383.3 1400.0,3373.0 C1404.4,3362.7 1408.9,3350.6 1413.3,3346.3 C1417.8,3342.1 1422.2,3338.0 1426.7,3338.0 C1431.1,3338.0 1435.6,3342.3 1440.0,3344.7 C1443.9,3346.7 1447.8,3351.3 1451.7,3351.3 C1455.0,3351.3 1458.3,3350.6 1461.7,3349.7 C1465.6,3348.5 1469.4,3336.6 1473.3,3333.0 C1475.6,3331.0 1477.8,3330.4 1480.0,3328.3 C1484.8,3323.7 1489.6,3305.2 1494.4,3302.7 C1498.6,3300.5 1502.9,3298.7 1507.2,3298.7 C1511.4,3298.7 1515.7,3308.0 1519.9,3317.1 C1524.8,3327.5 1529.7,3353.5 1534.6,3380.0 C1538.1,3399.3 1541.6,3431.4 1545.2,3455.9 C1549.0,3482.0 1552.8,3504.6 1556.6,3531.7 C1559.8,3555.3 1563.1,3584.2 1566.4,3607.6 C1569.5,3629.3 1572.5,3649.6 1575.5,3668.3 C1580.1,3696.4 1584.6,3745.7 1589.2,3745.7 C1593.7,3745.7 1598.3,3745.7 1602.8,3745.7 C1604.9,3745.7 1606.9,3716.3 1608.9,3698.7 C1610.9,3681.0 1613.0,3656.0 1615.0,3638.0 C1617.5,3615.4 1620.0,3593.7 1622.6,3577.3 C1625.3,3559.2 1628.1,3552.3 1630.9,3531.7 C1633.2,3514.9 1635.5,3478.7 1637.7,3455.9 C1640.5,3428.0 1643.3,3401.8 1646.1,3380.0 C1649.3,3354.8 1652.5,3327.7 1655.7,3313.9 C1657.8,3304.7 1660.0,3295.1 1662.1,3293.1 C1665.3,3290.2 1668.5,3288.3 1671.7,3288.3 C1674.4,3288.3 1677.0,3292.2 1679.7,3294.7 C1682.0,3297.0 1684.3,3299.8 1686.7,3303.0 C1690.0,3307.6 1693.3,3319.7 1696.7,3319.7 C1701.1,3319.7 1705.6,3313.7 1710.0,3308.0 C1714.4,3302.3 1718.9,3288.8 1723.3,3276.3 C1726.7,3267.0 1730.0,3251.2 1733.3,3243.0 C1737.2,3233.4 1741.1,3220.3 1745.0,3220.3 C1749.4,3220.3 1753.9,3228.5 1758.3,3236.3 C1762.2,3243.2 1766.1,3257.2 1770.0,3273.0 C1773.3,3286.6 1776.7,3310.2 1780.0,3329.7 C1783.3,3349.1 1786.7,3370.5 1790.0,3389.7 C1794.4,3415.2 1798.9,3449.4 1803.3,3463.0 C1807.8,3476.6 1812.2,3491.3 1816.7,3491.3 C1821.1,3491.3 1825.6,3481.9 1830.0,3473.0 C1834.4,3464.1 1838.9,3442.0 1843.3,3423.0 C1847.8,3404.0 1852.2,3379.3 1856.7,3356.3 C1860.0,3339.1 1863.3,3319.6 1866.7,3303.0 C1870.0,3286.4 1873.3,3268.2 1876.7,3256.3 C1880.6,3242.5 1884.4,3223.0 1888.3,3223.0 C1892.2,3223.0 1896.1,3223.2 1900.0,3223.7 C1904.4,3224.2 1908.9,3242.7 1913.3,3256.3 C1916.7,3266.6 1920.0,3283.4 1923.3,3296.3 C1927.8,3313.6 1932.2,3328.0 1936.7,3346.3 C1941.1,3364.7 1945.6,3396.4 1950.0,3407.7 C1953.4,3416.4 1956.8,3426.1 1960.2,3426.1 C1964.0,3426.1 1967.8,3421.9 1971.7,3418.0 C1975.6,3414.0 1979.4,3403.8 1983.3,3396.3 C1987.2,3388.8 1991.1,3378.2 1995.0,3373.0 C1999.4,3367.0 2003.9,3359.7 2008.3,3359.7 C2012.2,3359.7 2016.1,3362.8 2020.0,3366.3 C2023.3,3369.3 2026.7,3378.3 2030.0,3386.3 C2033.3,3394.3 2036.7,3406.3 2040.0,3416.3 C2043.3,3426.3 2046.7,3436.9 2050.0,3446.3 C2053.3,3455.7 2056.7,3466.2 2060.0,3473.0 C2063.3,3479.8 2066.7,3488.5 2070.0,3489.7 C2072.8,3490.6 2075.6,3491.3 2078.3,3491.3 C2082.2,3491.3 2086.1,3479.8 2090.0,3473.0 C2094.4,3465.2 2098.9,3454.0 2103.3,3446.3 C2107.8,3438.7 2112.2,3431.4 2116.7,3426.3 C2122.2,3420.0 2127.8,3413.8 2133.3,3411.3 C2138.9,3408.8 2144.4,3406.3 2150.0,3406.3 C2153.3,3406.3 2156.7,3409.8 2160.0,3413.0 C2164.4,3417.2 2168.9,3427.6 2173.3,3436.3 C2177.8,3445.1 2182.2,3455.8 2186.7,3466.3 C2191.1,3476.9 2195.6,3488.7 2200.0,3499.7 C2203.9,3509.2 2207.8,3528.0 2211.7,3528.0 C2215.6,3528.0 2219.4,3524.3 2223.3,3519.7 C2226.7,3515.7 2230.0,3498.9 2233.3,3486.3 C2236.7,3473.8 2240.0,3456.4 2243.3,3443.0 C2247.2,3427.4 2251.1,3409.8 2255.0,3399.7 C2259.4,3388.0 2263.9,3381.6 2268.3,3373.0 C2272.8,3364.4 2277.2,3348.0 2281.7,3348.0 C2296.1,3348.0 2310.6,3348.0 2325.0,3348.0" stroke="#000000"/>
<path d="M1243.3,3113.0 C1246.7,3126.3 1250.0,3137.4 1253.3,3153.0 C1256.7,3168.6 1260.0,3189.7 1263.3,3209.7 C1266.7,3229.6 1270.0,3252.5 1273.3,3273.0 C1276.7,3293.5 1280.0,3317.8 1283.3,3333.0 C1286.7,3348.2 1290.0,3369.7 1293.3,3369.7 C1297.2,3369.7 1301.1,3368.0 1305.0,3366.3 C1309.4,3364.4 1313.9,3354.2 1318.3,3353.0 C1321.7,3352.1 1325.0,3351.3 1328.3,3351.3 C1332.2,3351.3 1336.1,3356.2 1340.0,3359.7 C1344.4,3363.7 1348.9,3372.3 1353.3,3376.3 C1357.2,3379.8 1361.1,3384.7 1365.0,3384.7 C1368.9,3384.7 1372.8,3380.6 1376.7,3376.3 C1380.0,3372.6 1383.3,3360.6 1386.7,3353.0 C1391.1,3342.8 1395.6,3331.8 1400.0,3323.0 C1404.4,3314.2 1408.9,3304.9 1413.3,3299.7 C1417.8,3294.5 1422.2,3288.0 1426.7,3288.0 C1431.1,3288.0 1435.6,3289.8 1440.0,3291.3 C1443.3,3292.5 1446.7,3296.3 1450.0,3296.3 C1453.3,3296.3 1456.7,3295.6 1460.0,3294.7 C1464.4,3293.4 1468.9,3282.4 1473.3,3278.0 C1475.6,3275.8 1477.8,3274.8 1480.0,3272.4 C1484.3,3267.7 1488.5,3255.2 1492.8,3250.0 C1495.2,3247.1 1497.6,3244.4 1500.0,3243.0 C1502.8,3241.4 1505.6,3239.7 1508.3,3239.7 C1511.1,3239.7 1513.9,3246.2 1516.7,3251.6 C1519.9,3257.8 1523.1,3270.6 1526.3,3281.9 C1529.0,3291.4 1531.7,3301.2 1534.3,3313.9 C1537.9,3331.2 1541.6,3354.4 1545.2,3380.0 C1548.2,3401.4 1551.2,3429.5 1554.3,3455.9 C1557.1,3480.1 1559.8,3509.3 1562.6,3531.7 C1565.4,3554.2 1568.2,3573.1 1571.0,3592.4 C1574.0,3613.6 1577.0,3636.0 1580.1,3653.1 C1583.6,3673.1 1587.2,3703.9 1590.7,3704.7 C1594.7,3705.7 1598.8,3706.3 1602.8,3706.3 C1605.9,3706.3 1608.9,3674.0 1611.9,3653.1 C1615.0,3632.3 1618.0,3598.3 1621.0,3577.3 C1623.6,3559.7 1626.1,3550.7 1628.6,3531.7 C1631.2,3512.8 1633.7,3480.0 1636.2,3455.9 C1639.0,3429.4 1641.8,3404.1 1644.6,3380.0 C1647.8,3352.4 1650.9,3318.6 1654.1,3301.1 C1656.3,3289.4 1658.4,3279.8 1660.5,3274.0 C1663.2,3266.6 1665.8,3261.0 1668.5,3258.0 C1671.2,3254.9 1673.8,3251.6 1676.5,3251.6 C1679.9,3251.6 1683.3,3255.5 1686.7,3256.3 C1690.0,3257.2 1693.3,3258.0 1696.7,3258.0 C1701.1,3258.0 1705.6,3245.7 1710.0,3236.3 C1714.4,3227.0 1718.9,3210.4 1723.3,3196.3 C1726.7,3185.8 1730.0,3169.5 1733.3,3163.0 C1737.2,3155.4 1741.1,3147.0 1745.0,3147.0 C1748.9,3147.0 1752.8,3159.4 1756.7,3169.7 C1760.0,3178.5 1763.3,3194.4 1766.7,3209.7 C1770.0,3224.9 1773.3,3245.8 1776.7,3263.0 C1781.1,3286.0 1785.6,3306.9 1790.0,3329.7 C1794.4,3352.4 1798.9,3379.1 1803.3,3399.7 C1807.8,3420.2 1812.2,3454.7 1816.7,3454.7 C1821.1,3454.7 1825.6,3443.4 1830.0,3433.0 C1834.4,3422.6 1838.9,3397.6 1843.3,3376.3 C1847.8,3355.0 1852.2,3328.6 1856.7,3303.0 C1860.0,3283.8 1863.3,3261.8 1866.7,3243.0 C1870.0,3224.2 1873.3,3203.7 1876.7,3189.7 C1880.6,3173.3 1884.4,3149.7 1888.3,3149.7 C1892.2,3149.7 1896.1,3150.3 1900.0,3151.3 C1904.4,3152.5 1908.9,3168.1 1913.3,3183.0 C1916.7,3194.2 1920.0,3220.0 1923.3,3236.3 C1927.8,3258.1 1932.2,3277.9 1936.7,3296.3 C1941.1,3314.8 1945.6,3335.1 1950.0,3347.7 C1953.4,3357.5 1956.9,3362.9 1960.3,3371.3 C1960.8,3372.4 1961.2,3374.7 1961.7,3374.7 C1965.0,3374.7 1968.3,3374.0 1971.7,3373.0 C1975.6,3371.8 1979.4,3360.6 1983.3,3353.0 C1987.2,3345.4 1991.1,3333.7 1995.0,3326.3 C1999.4,3317.9 2003.9,3304.7 2008.3,3304.7 C2012.2,3304.7 2016.1,3304.7 2020.0,3304.7 C2023.3,3304.7 2026.7,3317.6 2030.0,3326.3 C2033.3,3335.1 2036.7,3348.6 2040.0,3359.7 C2043.3,3370.8 2046.7,3382.5 2050.0,3393.0 C2053.3,3403.5 2056.7,3416.3 2060.0,3423.0 C2063.3,3429.7 2066.7,3434.6 2070.0,3438.0 C2072.8,3440.9 2075.6,3444.7 2078.3,3444.7 C2082.2,3444.7 2086.1,3440.2 2090.0,3436.3 C2094.4,3431.9 2098.9,3420.2 2103.3,3413.0 C2107.8,3405.8 2112.2,3399.0 2116.7,3393.0 C2122.2,3385.6 2127.8,3377.6 2133.3,3373.0 C2138.9,3368.4 2144.4,3362.3 2150.0,3362.3 C2153.3,3362.3 2156.7,3364.3 2160.0,3366.3 C2164.4,3369.1 2168.9,3377.7 2173.3,3386.3 C2177.8,3395.0 2182.2,3410.2 2186.7,3423.0 C2191.1,3435.8 2195.6,3451.9 2200.0,3463.0 C2203.9,3472.7 2207.8,3488.0 2211.7,3488.0 C2215.6,3488.0 2219.4,3486.0 2223.3,3483.0 C2226.7,3480.4 2230.0,3462.2 2233.3,3449.7 C2236.7,3437.1 2240.0,3420.7 2243.3,3406.3 C2247.2,3389.6 2251.1,3367.9 2255.0,3356.3 C2259.4,3343.1 2263.9,3337.0 2268.3,3326.3 C2272.8,3315.7 2277.2,3292.3 2281.7,3292.3 C2296.1,3292.3 2310.6,3292.3 2325.0,3292.3" stroke="#2a00ff"/>
<path d="M1243.3,3069.7 C1246.7,3083.0 1250.0,3093.7 1253.3,3109.7 C1256.7,3125.7 1260.0,3149.7 1263.3,3169.7 C1266.7,3189.7 1270.0,3210.8 1273.3,3229.7 C1276.7,3248.5 1280.0,3268.1 1283.3,3283.0 C1286.7,3297.9 1290.0,3319.5 1293.3,3321.3 C1297.2,3323.4 1301.1,3324.7 1305.0,3324.7 C1309.4,3324.7 1313.9,3321.3 1318.3,3321.3 C1322.2,3321.3 1326.1,3323.8 1330.0,3326.3 C1334.4,3329.3 1338.9,3339.2 1343.3,3346.3 C1347.8,3353.5 1352.2,3364.1 1356.7,3369.7 C1359.4,3373.1 1362.2,3378.0 1365.0,3378.0 C1368.9,3378.0 1372.8,3375.1 1376.7,3371.3 C1380.0,3368.1 1383.3,3352.7 1386.7,3343.0 C1391.1,3330.1 1395.6,3314.4 1400.0,3303.0 C1404.4,3291.6 1408.9,3280.1 1413.3,3273.0 C1417.8,3265.9 1422.2,3258.5 1426.7,3256.3 C1431.1,3254.2 1435.6,3252.3 1440.0,3252.3 C1443.3,3252.3 1446.7,3252.3 1450.0,3252.3 C1453.3,3252.3 1456.7,3251.0 1460.0,3249.7 C1464.4,3247.8 1468.9,3240.8 1473.3,3236.3 C1477.8,3231.9 1482.2,3225.7 1486.7,3223.0 C1491.1,3220.3 1495.6,3217.3 1500.0,3217.3 C1502.8,3217.3 1505.6,3218.1 1508.3,3219.0 C1512.2,3220.3 1516.1,3226.8 1520.0,3236.3 C1521.0,3238.9 1522.1,3245.6 1523.1,3250.0 C1525.8,3261.2 1528.5,3271.1 1531.1,3281.9 C1534.3,3295.0 1537.5,3305.7 1540.7,3321.9 C1543.7,3337.1 1546.7,3359.7 1549.7,3380.0 C1553.3,3403.9 1556.8,3422.9 1560.3,3455.9 C1562.4,3474.7 1564.4,3513.8 1566.4,3531.7 C1569.5,3558.7 1572.5,3574.5 1575.5,3592.4 C1580.6,3622.3 1585.6,3667.7 1590.7,3671.4 C1594.5,3674.1 1598.3,3675.9 1602.1,3675.9 C1604.9,3675.9 1607.6,3654.2 1610.4,3638.0 C1613.0,3623.2 1615.5,3595.6 1618.0,3577.3 C1620.3,3560.7 1622.6,3549.2 1624.8,3531.7 C1627.6,3510.5 1630.4,3482.4 1633.2,3455.9 C1635.7,3431.8 1638.2,3401.1 1640.8,3380.0 C1644.7,3347.4 1648.6,3324.1 1652.5,3297.9 C1655.1,3280.7 1657.7,3256.8 1660.3,3248.2 C1664.6,3233.6 1669.0,3221.2 1673.3,3220.3 C1677.8,3219.5 1682.2,3219.7 1686.7,3219.0 C1690.0,3218.5 1693.3,3217.8 1696.7,3216.3 C1701.1,3214.3 1705.6,3200.3 1710.0,3189.7 C1714.4,3179.0 1718.9,3163.7 1723.3,3149.7 C1726.7,3139.1 1730.0,3122.1 1733.3,3116.3 C1737.2,3109.6 1741.1,3103.0 1745.0,3103.0 C1748.9,3103.0 1752.8,3115.6 1756.7,3126.3 C1760.0,3135.5 1763.3,3153.7 1766.7,3169.7 C1770.0,3185.6 1773.3,3205.8 1776.7,3223.0 C1781.1,3246.0 1785.6,3266.4 1790.0,3289.7 C1794.4,3312.9 1798.9,3340.0 1803.3,3363.0 C1807.8,3386.0 1812.2,3428.0 1816.7,3428.0 C1821.1,3428.0 1825.6,3416.6 1830.0,3406.3 C1834.4,3396.1 1838.9,3373.2 1843.3,3353.0 C1847.8,3332.8 1852.2,3308.0 1856.7,3283.0 C1860.0,3264.3 1863.3,3242.4 1866.7,3223.0 C1870.0,3203.6 1873.3,3182.0 1876.7,3166.3 C1880.6,3148.0 1884.4,3119.7 1888.3,3119.7 C1892.2,3119.7 1896.1,3121.0 1900.0,3123.0 C1904.4,3125.3 1908.9,3143.7 1913.3,3159.7 C1916.7,3171.7 1920.0,3193.4 1923.3,3209.7 C1927.8,3231.3 1932.2,3255.1 1936.7,3273.0 C1941.1,3290.9 1945.6,3309.1 1950.0,3319.7 C1953.4,3327.7 1956.8,3337.6 1960.2,3338.3 C1964.0,3339.2 1967.8,3339.7 1971.7,3339.7 C1975.6,3339.7 1979.4,3329.5 1983.3,3323.0 C1987.2,3316.5 1991.1,3306.4 1995.0,3299.7 C1999.4,3292.0 2003.9,3280.1 2008.3,3279.7 C2012.2,3279.2 2016.1,3279.0 2020.0,3279.0 C2023.3,3279.0 2026.7,3289.0 2030.0,3296.3 C2033.3,3303.7 2036.7,3315.8 2040.0,3326.3 C2043.3,3336.9 2046.7,3348.0 2050.0,3359.7 C2053.3,3371.3 2056.7,3386.8 2060.0,3396.3 C2063.3,3405.8 2066.7,3415.1 2070.0,3419.7 C2072.8,3423.5 2075.6,3428.0 2078.3,3428.0 C2082.2,3428.0 2086.1,3423.6 2090.0,3419.7 C2094.4,3415.2 2098.9,3403.5 2103.3,3396.3 C2107.8,3389.2 2112.2,3381.7 2116.7,3376.3 C2122.2,3369.6 2127.8,3364.0 2133.3,3359.7 C2138.9,3355.3 2144.4,3349.0 2150.0,3349.0 C2153.3,3349.0 2156.7,3349.3 2160.0,3349.7 C2164.4,3350.2 2168.9,3359.5 2173.3,3366.3 C2177.8,3373.2 2182.2,3384.1 2186.7,3393.0 C2191.1,3401.9 2195.6,3411.5 2200.0,3419.7 C2203.9,3426.8 2207.8,3439.7 2211.7,3439.7 C2215.6,3439.7 2219.4,3436.7 2223.3,3433.0 C2226.7,3429.8 2230.0,3417.3 2233.3,3406.3 C2236.7,3395.3 2240.0,3375.8 2243.3,3363.0 C2247.2,3348.1 2251.1,3332.1 2255.0,3323.0 C2259.4,3312.6 2263.9,3309.2 2268.3,3299.7 C2272.8,3290.2 2277.2,3263.0 2281.7,3263.0 C2296.1,3263.0 2310.6,3263.0 2325.0,3263.0" stroke="#007a1a"/>
<path d="M1243.3,3053.0 C1246.7,3066.3 1250.0,3078.2 1253.3,3093.0 C1256.7,3107.8 1260.0,3125.8 1263.3,3143.0 C1266.7,3160.2 1270.0,3178.6 1273.3,3196.3 C1276.7,3214.1 1280.0,3237.3 1283.3,3249.7 C1286.7,3262.0 1290.0,3278.0 1293.3,3278.0 C1297.2,3278.0 1301.1,3278.0 1305.0,3278.0 C1309.4,3278.0 1313.9,3275.7 1318.3,3275.7 C1322.2,3275.7 1326.1,3279.6 1330.0,3283.0 C1334.4,3286.9 1338.9,3296.9 1343.3,3303.0 C1347.8,3309.1 1352.2,3314.8 1356.7,3319.7 C1359.4,3322.7 1362.2,3328.0 1365.0,3328.0 C1368.9,3328.0 1372.8,3324.0 1376.7,3319.7 C1380.0,3316.0 1383.3,3304.4 1386.7,3296.3 C1391.1,3285.6 1395.6,3272.2 1400.0,3263.0 C1404.4,3253.8 1408.9,3245.0 1413.3,3239.7 C1417.8,3234.3 1422.2,3228.0 1426.7,3227.3 C1431.1,3226.7 1435.6,3226.3 1440.0,3226.3 C1443.3,3226.3 1446.7,3227.0 1450.0,3227.0 C1453.3,3227.0 1456.7,3224.5 1460.0,3222.3 C1464.4,3219.4 1468.9,3212.7 1473.3,3206.3 C1477.8,3200.0 1482.2,3189.5 1486.7,3183.0 C1491.1,3176.5 1495.6,3167.0 1500.0,3166.3 C1502.8,3165.9 1505.6,3165.7 1508.3,3165.7 C1512.2,3165.7 1516.1,3175.3 1520.0,3183.0 C1524.4,3191.8 1528.9,3191.7 1533.3,3223.0 C1533.7,3225.3 1534.0,3246.6 1534.3,3250.0 C1537.5,3283.3 1540.7,3278.4 1543.9,3297.9 C1547.4,3319.1 1550.8,3354.0 1554.3,3380.0 C1557.8,3406.6 1561.4,3424.6 1564.9,3455.9 C1567.2,3476.0 1569.5,3514.9 1571.7,3531.7 C1574.5,3552.3 1577.3,3562.9 1580.1,3577.3 C1583.6,3595.5 1587.2,3628.9 1590.7,3628.9 C1594.7,3628.9 1598.8,3628.9 1602.8,3628.9 C1605.9,3628.9 1608.9,3595.0 1611.9,3577.3 C1614.5,3562.5 1617.0,3550.7 1619.5,3531.7 C1622.1,3512.8 1624.6,3481.2 1627.1,3455.9 C1629.6,3430.6 1632.2,3403.1 1634.7,3380.0 C1638.0,3350.1 1641.3,3323.7 1644.5,3297.9 C1646.7,3281.2 1648.8,3260.8 1650.9,3250.0 C1654.0,3234.7 1657.0,3225.6 1660.0,3216.3 C1664.4,3202.7 1668.9,3182.3 1673.3,3182.3 C1677.8,3182.3 1682.2,3182.3 1686.7,3182.3 C1690.0,3182.3 1693.3,3181.9 1696.7,3181.3 C1701.1,3180.5 1705.6,3166.2 1710.0,3156.3 C1714.4,3146.4 1718.9,3132.4 1723.3,3119.7 C1726.7,3110.1 1730.0,3093.9 1733.3,3089.7 C1737.2,3084.7 1741.1,3080.3 1745.0,3080.3 C1748.9,3080.3 1752.8,3090.7 1756.7,3099.7 C1760.0,3107.3 1763.3,3122.6 1766.7,3136.3 C1770.0,3150.0 1773.3,3166.9 1776.7,3183.0 C1781.1,3204.4 1785.6,3227.4 1790.0,3249.7 C1794.4,3271.9 1798.9,3295.9 1803.3,3316.3 C1807.8,3336.8 1812.2,3373.0 1816.7,3373.0 C1821.1,3373.0 1825.6,3362.5 1830.0,3353.0 C1834.4,3343.5 1838.9,3321.2 1843.3,3303.0 C1847.8,3284.8 1852.2,3266.0 1856.7,3243.0 C1860.0,3225.7 1863.3,3201.8 1866.7,3183.0 C1870.0,3164.2 1873.3,3142.6 1876.7,3129.7 C1880.6,3114.6 1884.4,3094.7 1888.3,3094.7 C1892.2,3094.7 1896.1,3095.3 1900.0,3096.3 C1904.4,3097.5 1908.9,3115.8 1913.3,3129.7 C1916.7,3140.0 1920.0,3156.3 1923.3,3169.7 C1927.8,3187.4 1932.2,3205.0 1936.7,3223.0 C1941.1,3241.0 1945.6,3266.7 1950.0,3277.7 C1953.4,3286.2 1956.8,3296.3 1960.2,3296.3 C1964.0,3296.3 1967.8,3292.8 1971.7,3289.7 C1975.6,3286.5 1979.4,3279.1 1983.3,3273.0 C1987.2,3266.9 1991.1,3258.6 1995.0,3253.0 C1999.4,3246.6 2003.9,3236.3 2008.3,3236.3 C2012.2,3236.3 2016.1,3239.5 2020.0,3243.0 C2023.3,3246.0 2026.7,3255.0 2030.0,3263.0 C2033.3,3271.0 2036.7,3282.5 2040.0,3293.0 C2043.3,3303.5 2046.7,3315.8 2050.0,3326.3 C2053.3,3336.9 2056.7,3348.7 2060.0,3356.3 C2063.3,3363.9 2066.7,3369.9 2070.0,3374.7 C2072.8,3378.7 2075.6,3384.7 2078.3,3384.7 C2082.2,3384.7 2086.1,3380.1 2090.0,3376.3 C2094.4,3372.1 2098.9,3363.0 2103.3,3356.3 C2107.8,3349.7 2112.2,3342.3 2116.7,3336.3 C2122.2,3328.9 2127.8,3321.7 2133.3,3316.3 C2138.9,3311.0 2144.4,3303.0 2150.0,3303.0 C2153.3,3303.0 2156.7,3303.3 2160.0,3303.7 C2164.4,3304.2 2168.9,3311.2 2173.3,3316.3 C2177.8,3321.5 2182.2,3328.7 2186.7,3336.3 C2191.1,3344.0 2195.6,3355.2 2200.0,3363.0 C2203.9,3369.8 2207.8,3381.3 2211.7,3381.3 C2215.6,3381.3 2219.4,3377.4 2223.3,3373.0 C2226.7,3369.2 2230.0,3357.0 2233.3,3346.3 C2236.7,3335.7 2240.0,3316.8 2243.3,3306.3 C2247.2,3294.1 2251.1,3284.5 2255.0,3276.3 C2259.4,3267.0 2263.9,3261.0 2268.3,3253.0 C2272.8,3245.0 2277.2,3228.0 2281.7,3228.0 C2296.1,3228.0 2310.6,3228.0 2325.0,3228.0" stroke="#ff8c26"/>
<path d="M1243.3,3023.0 C1246.7,3036.3 1250.0,3048.6 1253.3,3063.0 C1256.7,3077.4 1260.0,3093.6 1263.3,3109.7 C1266.7,3125.8 1270.0,3142.0 1273.3,3159.7 C1276.7,3177.4 1280.0,3204.2 1283.3,3216.3 C1286.7,3228.4 1290.0,3243.0 1293.3,3243.0 C1296.7,3243.0 1300.0,3241.0 1303.3,3239.7 C1307.8,3237.9 1312.2,3233.0 1316.7,3233.0 C1321.1,3233.0 1325.6,3238.2 1330.0,3243.0 C1334.4,3247.8 1338.9,3260.8 1343.3,3269.7 C1346.7,3276.3 1350.0,3285.2 1353.3,3289.7 C1357.2,3294.9 1361.1,3301.3 1365.0,3301.3 C1368.9,3301.3 1372.8,3295.6 1376.7,3289.7 C1380.0,3284.6 1383.3,3269.3 1386.7,3259.7 C1391.1,3246.9 1395.6,3232.5 1400.0,3223.0 C1404.4,3213.5 1408.9,3204.3 1413.3,3199.7 C1417.8,3195.0 1422.2,3189.7 1426.7,3189.7 C1431.1,3189.7 1435.6,3190.7 1440.0,3191.3 C1443.3,3191.8 1446.7,3193.0 1450.0,3193.0 C1453.3,3193.0 1456.7,3191.5 1460.0,3189.7 C1463.3,3187.8 1466.7,3178.7 1470.0,3173.0 C1474.4,3165.4 1478.9,3155.8 1483.3,3149.7 C1487.8,3143.6 1492.2,3135.4 1496.7,3134.7 C1500.6,3134.1 1504.4,3133.7 1508.3,3133.7 C1512.2,3133.7 1516.1,3144.8 1520.0,3153.0 C1524.4,3162.4 1528.9,3171.0 1533.3,3193.0 C1535.3,3202.5 1537.2,3238.3 1539.1,3250.0 C1542.3,3269.4 1545.5,3275.4 1548.7,3289.9 C1551.4,3302.1 1554.0,3301.5 1556.7,3329.9 C1557.1,3334.8 1557.6,3373.0 1558.1,3380.0 C1561.4,3429.7 1564.6,3432.3 1567.9,3455.9 C1571.7,3483.0 1575.5,3511.6 1579.3,3531.7 C1583.1,3551.9 1586.9,3581.8 1590.7,3581.8 C1594.7,3581.8 1598.8,3581.3 1602.8,3580.3 C1606.1,3579.5 1609.4,3552.9 1612.7,3531.7 C1615.0,3517.1 1617.3,3490.9 1619.5,3471.0 C1623.1,3440.1 1626.6,3410.3 1630.2,3380.0 C1633.3,3352.6 1636.5,3323.4 1639.7,3297.9 C1641.9,3281.0 1644.0,3261.7 1646.1,3250.0 C1650.8,3224.5 1655.4,3206.9 1660.0,3193.0 C1664.4,3179.6 1668.9,3163.3 1673.3,3161.3 C1677.8,3159.3 1682.2,3159.5 1686.7,3158.0 C1690.0,3156.9 1693.3,3155.6 1696.7,3153.0 C1701.1,3149.5 1705.6,3136.6 1710.0,3126.3 C1714.4,3116.0 1718.9,3103.1 1723.3,3089.7 C1726.7,3079.6 1730.0,3060.9 1733.3,3056.3 C1737.2,3050.9 1741.1,3046.3 1745.0,3046.3 C1748.9,3046.3 1752.8,3057.2 1756.7,3066.3 C1760.0,3074.2 1763.3,3089.3 1766.7,3103.0 C1770.0,3116.7 1773.3,3133.6 1776.7,3149.7 C1781.1,3171.1 1785.6,3193.1 1790.0,3216.3 C1794.4,3239.6 1798.9,3269.1 1803.3,3289.7 C1807.8,3310.3 1812.2,3343.0 1816.7,3343.0 C1821.1,3343.0 1825.6,3332.3 1830.0,3323.0 C1834.4,3313.7 1838.9,3293.8 1843.3,3276.3 C1847.8,3258.8 1852.2,3240.4 1856.7,3216.3 C1860.0,3198.3 1863.3,3171.9 1866.7,3149.7 C1870.0,3127.4 1873.3,3099.8 1876.7,3083.0 C1880.6,3063.4 1884.4,3036.3 1888.3,3036.3 C1892.2,3036.3 1896.1,3038.5 1900.0,3041.3 C1904.4,3044.6 1908.9,3066.2 1913.3,3083.0 C1916.7,3095.6 1920.0,3113.2 1923.3,3129.7 C1927.8,3151.6 1932.2,3177.0 1936.7,3199.7 C1941.1,3222.3 1945.6,3251.5 1950.0,3265.8 C1953.4,3276.7 1956.8,3290.5 1960.2,3290.5 C1964.0,3290.5 1967.8,3285.9 1971.7,3281.3 C1975.6,3276.7 1979.4,3263.7 1983.3,3253.0 C1987.2,3242.3 1991.1,3225.1 1995.0,3216.3 C1999.4,3206.3 2003.9,3193.0 2008.3,3193.0 C2012.2,3193.0 2016.1,3195.1 2020.0,3198.0 C2023.3,3200.5 2026.7,3213.1 2030.0,3223.0 C2033.3,3232.9 2036.7,3247.4 2040.0,3259.7 C2043.3,3271.9 2046.7,3284.7 2050.0,3296.3 C2053.3,3308.0 2056.7,3321.8 2060.0,3329.7 C2063.3,3337.6 2066.7,3345.0 2070.0,3348.0 C2072.8,3350.5 2075.6,3353.0 2078.3,3353.0 C2082.2,3353.0 2086.1,3345.0 2090.0,3339.7 C2094.4,3333.5 2098.9,3324.1 2103.3,3316.3 C2107.8,3308.6 2112.2,3298.7 2116.7,3293.0 C2122.2,3285.9 2127.8,3280.3 2133.3,3276.3 C2138.9,3272.3 2144.4,3267.0 2150.0,3267.0 C2153.3,3267.0 2156.7,3268.2 2160.0,3269.7 C2164.4,3271.6 2168.9,3279.2 2173.3,3286.3 C2177.8,3293.5 2182.2,3306.3 2186.7,3316.3 C2191.1,3326.3 2195.6,3337.7 2200.0,3346.3 C2203.9,3353.9 2207.8,3366.3 2211.7,3366.3 C2215.0,3366.3 2218.3,3365.0 2221.7,3363.0 C2225.6,3360.7 2229.4,3343.1 2233.3,3329.7 C2236.7,3318.1 2240.0,3299.7 2243.3,3286.3 C2247.2,3270.7 2251.1,3252.3 2255.0,3243.0 C2259.4,3232.3 2263.9,3228.4 2268.3,3219.7 C2272.2,3212.1 2276.1,3194.0 2280.0,3194.0 C2295.0,3194.0 2310.0,3194.0 2325.0,3194.0" stroke="#ff1f8f"/>
<path d="M1245.0,2993.0 C1247.8,3006.3 1250.6,3019.8 1253.3,3033.0 C1256.7,3048.8 1260.0,3064.7 1263.3,3079.7 C1266.7,3094.6 1270.0,3109.1 1273.3,3123.0 C1276.7,3136.9 1280.0,3154.1 1283.3,3163.0 C1286.7,3171.9 1290.0,3179.3 1293.3,3183.0 C1297.8,3188.0 1302.2,3190.3 1306.7,3193.0 C1311.1,3195.7 1315.6,3196.5 1320.0,3199.7 C1324.4,3202.8 1328.9,3209.9 1333.3,3216.3 C1337.8,3222.8 1342.2,3232.8 1346.7,3239.7 C1352.2,3248.2 1357.8,3262.3 1363.3,3262.3 C1367.8,3262.3 1372.2,3257.7 1376.7,3253.0 C1381.1,3248.3 1385.6,3233.5 1390.0,3223.0 C1394.4,3212.5 1398.9,3199.5 1403.3,3189.7 C1407.8,3179.8 1412.2,3168.9 1416.7,3163.0 C1421.1,3157.1 1425.6,3151.8 1430.0,3149.7 C1435.6,3147.1 1441.1,3146.8 1446.7,3144.7 C1451.1,3143.0 1455.6,3141.3 1460.0,3138.0 C1464.4,3134.7 1468.9,3125.8 1473.3,3119.7 C1477.8,3113.6 1482.2,3105.9 1486.7,3101.3 C1490.0,3097.9 1493.3,3093.0 1496.7,3093.0 C1500.6,3093.0 1504.4,3094.1 1508.3,3095.7 C1512.2,3097.2 1516.1,3107.3 1520.0,3116.3 C1523.3,3124.1 1526.7,3136.7 1530.0,3149.7 C1533.3,3162.6 1536.7,3176.8 1540.0,3196.3 C1542.4,3210.2 1544.7,3235.7 1547.1,3250.0 C1549.8,3266.1 1552.4,3272.3 1555.1,3289.9 C1558.1,3309.9 1561.1,3355.7 1564.1,3380.0 C1567.9,3410.5 1571.7,3434.4 1575.5,3455.9 C1578.1,3470.2 1580.6,3481.8 1583.1,3493.8 C1585.6,3505.8 1588.2,3528.0 1590.7,3528.0 C1594.7,3528.0 1598.8,3528.0 1602.8,3528.0 C1606.1,3528.0 1609.4,3503.5 1612.7,3486.2 C1615.0,3474.3 1617.3,3457.2 1619.5,3440.7 C1622.1,3422.3 1624.6,3400.1 1627.1,3380.0 C1630.3,3355.1 1633.4,3328.4 1636.5,3305.9 C1638.1,3294.5 1639.7,3285.3 1641.3,3274.0 C1642.4,3266.4 1643.5,3257.9 1644.5,3250.0 C1646.4,3236.4 1648.2,3221.1 1650.0,3209.7 C1653.3,3188.7 1656.7,3168.6 1660.0,3156.3 C1664.4,3140.0 1668.9,3124.9 1673.3,3119.7 C1677.8,3114.4 1682.2,3112.7 1686.7,3109.7 C1691.1,3106.6 1695.6,3105.6 1700.0,3101.3 C1703.3,3098.2 1706.7,3090.0 1710.0,3083.0 C1714.4,3073.7 1718.9,3061.2 1723.3,3049.7 C1726.7,3041.1 1730.0,3025.9 1733.3,3023.0 C1737.2,3019.6 1741.1,3017.0 1745.0,3017.0 C1748.9,3017.0 1752.8,3027.4 1756.7,3036.3 C1760.0,3044.0 1763.3,3058.9 1766.7,3073.0 C1770.0,3087.1 1773.3,3106.3 1776.7,3123.0 C1781.1,3145.2 1785.6,3167.4 1790.0,3189.7 C1794.4,3211.9 1798.9,3243.1 1803.3,3256.3 C1807.8,3269.6 1812.2,3284.7 1816.7,3284.7 C1821.1,3284.7 1825.6,3276.9 1830.0,3269.7 C1834.4,3262.4 1838.9,3245.7 1843.3,3229.7 C1847.8,3213.7 1852.2,3192.7 1856.7,3169.7 C1860.0,3152.4 1863.3,3130.7 1866.7,3109.7 C1870.0,3088.6 1873.3,3056.9 1876.7,3043.0 C1880.6,3026.8 1884.4,3008.0 1888.3,3008.0 C1892.8,3008.0 1897.2,3008.0 1901.7,3008.0 C1905.6,3008.0 1909.4,3028.7 1913.3,3043.0 C1916.7,3055.2 1920.0,3073.6 1923.3,3089.7 C1927.8,3111.1 1932.2,3134.0 1936.7,3156.3 C1941.1,3178.7 1945.6,3212.3 1950.0,3223.7 C1953.4,3232.4 1956.8,3241.7 1960.2,3241.7 C1964.0,3241.7 1967.8,3237.2 1971.7,3233.0 C1975.6,3228.7 1979.4,3218.8 1983.3,3209.7 C1987.2,3200.5 1991.1,3184.2 1995.0,3176.3 C1999.4,3167.3 2003.9,3155.7 2008.3,3155.7 C2012.2,3155.7 2016.1,3160.0 2020.0,3164.7 C2023.3,3168.7 2026.7,3180.1 2030.0,3189.7 C2033.3,3199.2 2036.7,3211.4 2040.0,3223.0 C2043.3,3234.6 2046.7,3248.7 2050.0,3259.7 C2053.3,3270.7 2056.7,3282.5 2060.0,3289.7 C2063.3,3296.8 2066.7,3304.6 2070.0,3306.3 C2072.8,3307.8 2075.6,3309.0 2078.3,3309.0 C2082.2,3309.0 2086.1,3301.5 2090.0,3296.3 C2094.4,3290.4 2098.9,3280.8 2103.3,3273.0 C2107.8,3265.2 2112.2,3256.1 2116.7,3249.7 C2121.1,3243.2 2125.6,3237.0 2130.0,3233.0 C2134.4,3229.0 2138.9,3223.7 2143.3,3223.7 C2146.7,3223.7 2150.0,3224.1 2153.3,3224.7 C2156.7,3225.3 2160.0,3231.7 2163.3,3236.3 C2167.8,3242.5 2172.2,3250.9 2176.7,3259.7 C2181.1,3268.4 2185.6,3279.5 2190.0,3289.7 C2193.3,3297.3 2196.7,3307.8 2200.0,3313.0 C2203.3,3318.2 2206.7,3324.7 2210.0,3324.7 C2213.9,3324.7 2217.8,3322.5 2221.7,3319.7 C2225.6,3316.8 2229.4,3301.0 2233.3,3289.7 C2236.7,3280.0 2240.0,3268.0 2243.3,3256.3 C2247.2,3242.7 2251.1,3223.1 2255.0,3213.0 C2258.9,3202.9 2262.8,3197.4 2266.7,3189.7 C2271.1,3180.8 2275.6,3163.0 2280.0,3163.0 C2295.0,3163.0 2310.0,3163.0 2325.0,3163.0" stroke="#ff1f1f"/>
</g>
<g fill="#000">
<rect x="137" y="133" width="2225" height="5"/><rect x="137" y="979" width="2225" height="7"/><rect x="137" y="133" width="5" height="853"/><rect x="2355" y="133" width="7" height="853"/><rect x="1234" y="133" width="7" height="853"/>
<rect x="140" y="1074" width="2220" height="7"/><rect x="140" y="1922" width="2220" height="7"/><rect x="140" y="1074" width="5" height="855"/><rect x="2355" y="1074" width="5" height="855"/><rect x="1229" y="1074" width="7" height="855"/>
<rect x="137" y="2016" width="2223" height="5"/><rect x="137" y="2862" width="2223" height="5"/><rect x="137" y="2016" width="5" height="851"/><rect x="2355" y="2016" width="5" height="851"/><rect x="1234" y="2016" width="7" height="851"/>
<rect x="147" y="2974" width="2213" height="5"/><rect x="147" y="3821" width="2213" height="5"/><rect x="147" y="2974" width="6" height="852"/><rect x="2355" y="2974" width="5" height="852"/><rect x="1228" y="2974" width="6" height="852"/>
</g>
<text x="128.21" y="111.00" font-family='"Liberation Sans", Arial, sans-serif' font-weight="bold" font-size="93.62" fill="#000" textLength="726.99" lengthAdjust="spacingAndGlyphs">Lung parenchyma</text>
<text x="142.49" y="1058.00" font-family='"Liberation Sans", Arial, sans-serif' font-weight="bold" font-size="90.00" fill="#000" textLength="871.31" lengthAdjust="spacingAndGlyphs">Bronchi cilliated cells</text>
<text x="138.88" y="2006.30" font-family='"Liberation Sans", Arial, sans-serif' font-weight="bold" font-size="91.74" fill="#000" textLength="447.59" lengthAdjust="spacingAndGlyphs">Atelectasis</text>
<text x="144.31" y="2955.30" font-family='"Liberation Sans", Arial, sans-serif' font-weight="bold" font-size="92.32" fill="#000" textLength="993.19" lengthAdjust="spacingAndGlyphs">Fibrous/muscular tissue</text>
<text x="151.43" y="975.70" font-family='"Liberation Sans", Arial, sans-serif' font-weight="bold" font-size="62.46" fill="#000" textLength="92.72" lengthAdjust="spacingAndGlyphs">1A.</text>
<text x="1250.81" y="973.10" font-family='"Liberation Sans", Arial, sans-serif' font-weight="bold" font-size="62.32" fill="#000" textLength="93.05" lengthAdjust="spacingAndGlyphs">2A.</text>
<text x="154.87" y="1920.20" font-family='"Liberation Sans", Arial, sans-serif' font-weight="bold" font-size="62.46" fill="#000" textLength="89.22" lengthAdjust="spacingAndGlyphs">1B.</text>
<text x="1250.89" y="1914.80" font-family='"Liberation Sans", Arial, sans-serif' font-weight="bold" font-size="62.46" fill="#000" textLength="89.52" lengthAdjust="spacingAndGlyphs">2B.</text>
<text x="149.28" y="2859.00" font-family='"Liberation Sans", Arial, sans-serif' font-weight="bold" font-size="61.14" fill="#000" textLength="86.60" lengthAdjust="spacingAndGlyphs">1C.</text>
<text x="1253.09" y="2856.60" font-family='"Liberation Sans", Arial, sans-serif' font-weight="bold" font-size="61.86" fill="#000" textLength="84.71" lengthAdjust="spacingAndGlyphs">2C.</text>
<text x="163.37" y="3812.70" font-family='"Liberation Sans", Arial, sans-serif' font-weight="bold" font-size="62.75" fill="#000" textLength="89.22" lengthAdjust="spacingAndGlyphs">1D.</text>
<text x="1244.96" y="3812.70" font-family='"Liberation Sans", Arial, sans-serif' font-weight="bold" font-size="58.99" fill="#000" textLength="90.80" lengthAdjust="spacingAndGlyphs">2D.</text>
<text x="348.40" y="965.20" font-family='"Liberation Sans", Arial, sans-serif' font-weight="bold" font-size="55.00" fill="#000" textLength="119.73" lengthAdjust="spacingAndGlyphs">1655</text>
<text x="1561.50" y="961.00" font-family='"Liberation Sans", Arial, sans-serif' font-weight="bold" font-size="51.43" fill="#000" textLength="119.83" lengthAdjust="spacingAndGlyphs">1235</text>
<text x="347.67" y="1920.60" font-family='"Liberation Sans", Arial, sans-serif' font-weight="bold" font-size="54.71" fill="#000" textLength="120.77" lengthAdjust="spacingAndGlyphs">1655</text>
<text x="1556.58" y="1914.00" font-family='"Liberation Sans", Arial, sans-serif' font-weight="bold" font-size="56.43" fill="#000" textLength="120.35" lengthAdjust="spacingAndGlyphs">1235</text>
<text x="353.82" y="2837.10" font-family='"Liberation Sans", Arial, sans-serif' font-weight="bold" font-size="53.86" fill="#000" textLength="119.00" lengthAdjust="spacingAndGlyphs">1655</text>
<text x="1559.10" y="2832.00" font-family='"Liberation Sans", Arial, sans-serif' font-weight="bold" font-size="54.29" fill="#000" textLength="119.73" lengthAdjust="spacingAndGlyphs">1235</text>
<text x="341.17" y="3803.80" font-family='"Liberation Sans", Arial, sans-serif' font-weight="bold" font-size="55.86" fill="#000" textLength="120.77" lengthAdjust="spacingAndGlyphs">1655</text>
<text x="1530.16" y="3794.70" font-family='"Liberation Sans", Arial, sans-serif' font-weight="bold" font-size="53.86" fill="#000" textLength="121.08" lengthAdjust="spacingAndGlyphs">1235</text>
<text transform="translate(264.40,677.53) rotate(-90)" font-family='"Liberation Sans", Arial, sans-serif' font-weight="bold" font-size="53.86" fill="#000" textLength="120.78" lengthAdjust="spacingAndGlyphs">1684</text>
<text transform="translate(313.30,718.39) rotate(-90)" font-family='"Liberation Sans", Arial, sans-serif' font-weight="bold" font-size="57.14" fill="#ff00ff" textLength="122.78" lengthAdjust="spacingAndGlyphs">1680</text>
<text transform="translate(419.80,568.06) rotate(-90)" font-family='"Liberation Sans", Arial, sans-serif' font-weight="bold" font-size="54.14" fill="#ff2ccb" textLength="121.94" lengthAdjust="spacingAndGlyphs">1652</text>
<text transform="translate(570.00,711.01) rotate(-90)" font-family='"Liberation Sans", Arial, sans-serif' font-weight="bold" font-size="57.14" fill="#ff2020" textLength="120.11" lengthAdjust="spacingAndGlyphs">1628</text>
<text transform="translate(965.00,843.53) rotate(-90)" font-family='"Liberation Sans", Arial, sans-serif' font-weight="bold" font-size="57.97" fill="#000" textLength="120.96" lengthAdjust="spacingAndGlyphs">1547</text>
<text transform="translate(1145.00,731.09) rotate(-90)" font-family='"Liberation Sans", Arial, sans-serif' font-weight="bold" font-size="57.14" fill="#000" textLength="123.01" lengthAdjust="spacingAndGlyphs">1516</text>
<text transform="translate(1412.50,813.60) rotate(-90)" font-family='"Liberation Sans", Arial, sans-serif' font-weight="bold" font-size="57.14" fill="#000" textLength="123.30" lengthAdjust="spacingAndGlyphs">1312</text>
<text transform="translate(1525.00,681.11) rotate(-90)" font-family='"Liberation Sans", Arial, sans-serif' font-weight="bold" font-size="57.14" fill="#000" textLength="123.59" lengthAdjust="spacingAndGlyphs">1277</text>
<text transform="translate(1750.00,663.61) rotate(-90)" font-family='"Liberation Sans", Arial, sans-serif' font-weight="bold" font-size="57.14" fill="#000" textLength="123.59" lengthAdjust="spacingAndGlyphs">1207</text>
<text transform="translate(1867.50,838.61) rotate(-90)" font-family='"Liberation Sans", Arial, sans-serif' font-weight="bold" font-size="57.14" fill="#000" textLength="120.53" lengthAdjust="spacingAndGlyphs">1166</text>
<text transform="translate(2013.00,794.82) rotate(-90)" font-family='"Liberation Sans", Arial, sans-serif' font-weight="bold" font-size="55.71" fill="#000" textLength="124.34" lengthAdjust="spacingAndGlyphs">1116</text>
<text transform="translate(2109.00,833.58) rotate(-90)" font-family='"Liberation Sans", Arial, sans-serif' font-weight="bold" font-size="53.57" fill="#000" textLength="122.44" lengthAdjust="spacingAndGlyphs">1081</text>
<text transform="translate(2233.00,871.09) rotate(-90)" font-family='"Liberation Sans", Arial, sans-serif' font-weight="bold" font-size="55.71" fill="#000" textLength="122.72" lengthAdjust="spacingAndGlyphs">1038</text>
<text transform="translate(276.70,1699.22) rotate(-90)" font-family='"Liberation Sans", Arial, sans-serif' font-weight="bold" font-size="57.14" fill="#000" textLength="120.47" lengthAdjust="spacingAndGlyphs">1684</text>
<text transform="translate(534.00,1319.68) rotate(-90)" font-family='"Liberation Sans", Arial, sans-serif' font-weight="bold" font-size="54.43" fill="#ff2ccb" textLength="119.10" lengthAdjust="spacingAndGlyphs">1631</text>
<text transform="translate(966.00,1788.38) rotate(-90)" font-family='"Liberation Sans", Arial, sans-serif' font-weight="bold" font-size="56.96" fill="#000" textLength="115.70" lengthAdjust="spacingAndGlyphs">1547</text>
<text transform="translate(1145.00,1684.22) rotate(-90)" font-family='"Liberation Sans", Arial, sans-serif' font-weight="bold" font-size="57.14" fill="#000" textLength="120.39" lengthAdjust="spacingAndGlyphs">1516</text>
<text transform="translate(1403.70,1779.33) rotate(-90)" font-family='"Liberation Sans", Arial, sans-serif' font-weight="bold" font-size="57.14" fill="#000" textLength="124.25" lengthAdjust="spacingAndGlyphs">1310</text>
<text transform="translate(1481.10,1641.49) rotate(-90)" font-family='"Liberation Sans", Arial, sans-serif' font-weight="bold" font-size="57.71" fill="#ff2ccb" textLength="123.01" lengthAdjust="spacingAndGlyphs">1286</text>
<text transform="translate(1521.90,1635.17) rotate(-90)" font-family='"Liberation Sans", Arial, sans-serif' font-weight="bold" font-size="49.71" fill="#000" textLength="108.45" lengthAdjust="spacingAndGlyphs">1277</text>
<text transform="translate(1727.70,1650.65) rotate(-90)" font-family='"Liberation Sans", Arial, sans-serif' font-weight="bold" font-size="52.43" fill="#000" textLength="114.62" lengthAdjust="spacingAndGlyphs">1205</text>
<text transform="translate(1834.30,1810.91) rotate(-90)" font-family='"Liberation Sans", Arial, sans-serif' font-weight="bold" font-size="57.14" fill="#000" textLength="120.53" lengthAdjust="spacingAndGlyphs">1166</text>
<text transform="translate(1982.00,1744.41) rotate(-90)" font-family='"Liberation Sans", Arial, sans-serif' font-weight="bold" font-size="57.14" fill="#000" textLength="120.67" lengthAdjust="spacingAndGlyphs">1116</text>
<text transform="translate(2124.00,1815.85) rotate(-90)" font-family='"Liberation Sans", Arial, sans-serif' font-weight="bold" font-size="54.29" fill="#000" textLength="121.50" lengthAdjust="spacingAndGlyphs">1081</text>
<text transform="translate(2263.30,1869.21) rotate(-90)" font-family='"Liberation Sans", Arial, sans-serif' font-weight="bold" font-size="57.14" fill="#000" textLength="120.11" lengthAdjust="spacingAndGlyphs">1038</text>
<text transform="translate(285.00,2699.52) rotate(-90)" font-family='"Liberation Sans", Arial, sans-serif' font-weight="bold" font-size="55.71" fill="#000" textLength="120.47" lengthAdjust="spacingAndGlyphs">1684</text>
<text transform="translate(956.70,2744.53) rotate(-90)" font-family='"Liberation Sans", Arial, sans-serif' font-weight="bold" font-size="55.65" fill="#000" textLength="120.96" lengthAdjust="spacingAndGlyphs">1547</text>
<text transform="translate(1136.00,2662.87) rotate(-90)" font-family='"Liberation Sans", Arial, sans-serif' font-weight="bold" font-size="55.29" fill="#000" textLength="122.07" lengthAdjust="spacingAndGlyphs">1516</text>
<text transform="translate(1389.30,2699.58) rotate(-90)" font-family='"Liberation Sans", Arial, sans-serif' font-weight="bold" font-size="54.71" fill="#000" textLength="122.46" lengthAdjust="spacingAndGlyphs">1312</text>
<text transform="translate(1502.70,2582.88) rotate(-90)" font-family='"Liberation Sans", Arial, sans-serif' font-weight="bold" font-size="54.86" fill="#000" textLength="122.65" lengthAdjust="spacingAndGlyphs">1277</text>
<text transform="translate(1729.30,2564.58) rotate(-90)" font-family='"Liberation Sans", Arial, sans-serif' font-weight="bold" font-size="54.71" fill="#000" textLength="122.46" lengthAdjust="spacingAndGlyphs">1202</text>
<text transform="translate(1844.30,2719.66) rotate(-90)" font-family='"Liberation Sans", Arial, sans-serif' font-weight="bold" font-size="54.71" fill="#000" textLength="122.31" lengthAdjust="spacingAndGlyphs">1166</text>
<text transform="translate(1993.00,2669.76) rotate(-90)" font-family='"Liberation Sans", Arial, sans-serif' font-weight="bold" font-size="55.71" fill="#000" textLength="122.46" lengthAdjust="spacingAndGlyphs">1116</text>
<text transform="translate(2116.00,2722.85) rotate(-90)" font-family='"Liberation Sans", Arial, sans-serif' font-weight="bold" font-size="53.86" fill="#000" textLength="121.50" lengthAdjust="spacingAndGlyphs">1081</text>
<text transform="translate(2253.30,2776.26) rotate(-90)" font-family='"Liberation Sans", Arial, sans-serif' font-weight="bold" font-size="56.14" fill="#000" textLength="121.89" lengthAdjust="spacingAndGlyphs">1038</text>
<text transform="translate(262.70,3531.57) rotate(-90)" font-family='"Liberation Sans", Arial, sans-serif' font-weight="bold" font-size="55.29" fill="#000" textLength="122.13" lengthAdjust="spacingAndGlyphs">1684</text>
<text transform="translate(932.70,3688.29) rotate(-90)" font-family='"Liberation Sans", Arial, sans-serif' font-weight="bold" font-size="56.09" fill="#000" textLength="122.75" lengthAdjust="spacingAndGlyphs">1547</text>
<text transform="translate(1128.30,3549.92) rotate(-90)" font-family='"Liberation Sans", Arial, sans-serif' font-weight="bold" font-size="54.71" fill="#000" textLength="123.85" lengthAdjust="spacingAndGlyphs">1516</text>
<text transform="translate(1376.70,3601.58) rotate(-90)" font-family='"Liberation Sans", Arial, sans-serif' font-weight="bold" font-size="57.14" fill="#000" textLength="122.46" lengthAdjust="spacingAndGlyphs">1310</text>
<text transform="translate(1471.70,3496.63) rotate(-90)" font-family='"Liberation Sans", Arial, sans-serif' font-weight="bold" font-size="54.86" fill="#000" textLength="124.14" lengthAdjust="spacingAndGlyphs">1280</text>
<text transform="translate(1716.00,3458.25) rotate(-90)" font-family='"Liberation Sans", Arial, sans-serif' font-weight="bold" font-size="58.57" fill="#000" textLength="121.60" lengthAdjust="spacingAndGlyphs">1205</text>
<text transform="translate(1823.40,3635.95) rotate(-90)" font-family='"Liberation Sans", Arial, sans-serif' font-weight="bold" font-size="55.29" fill="#000" textLength="121.89" lengthAdjust="spacingAndGlyphs">1166</text>
<text transform="translate(1980.10,3575.46) rotate(-90)" font-family='"Liberation Sans", Arial, sans-serif' font-weight="bold" font-size="55.29" fill="#000" textLength="125.50" lengthAdjust="spacingAndGlyphs">1116</text>
<text transform="translate(2094.00,3624.85) rotate(-90)" font-family='"Liberation Sans", Arial, sans-serif' font-weight="bold" font-size="58.14" fill="#000" textLength="121.50" lengthAdjust="spacingAndGlyphs">1081</text>
<text transform="translate(2245.00,3674.86) rotate(-90)" font-family='"Liberation Sans", Arial, sans-serif' font-weight="bold" font-size="57.14" fill="#000" textLength="121.78" lengthAdjust="spacingAndGlyphs">1038</text>
<text transform="translate(112,667) rotate(-90)" font-family='"Liberation Serif", "Times New Roman", serif' font-size="56" fill="#000" textLength="226" lengthAdjust="spacingAndGlyphs">δ<tspan font-size="51" dy="-32">2</tspan><tspan dy="32">A/(δν)</tspan><tspan font-size="51" dy="-32">2</tspan></text>
<text transform="translate(112,1569) rotate(-90)" font-family='"Liberation Serif", "Times New Roman", serif' font-size="56" fill="#000" textLength="225" lengthAdjust="spacingAndGlyphs">δ<tspan font-size="51" dy="-32">2</tspan><tspan dy="32">A/(δν)</tspan><tspan font-size="51" dy="-32">2</tspan></text>
<text transform="translate(101,2559) rotate(-90)" font-family='"Liberation Serif", "Times New Roman", serif' font-size="56" fill="#000" textLength="224.5" lengthAdjust="spacingAndGlyphs">δ<tspan font-size="51" dy="-32">2</tspan><tspan dy="32">A/(δν)</tspan><tspan font-size="51" dy="-32">2</tspan></text>
<text transform="translate(123,3498) rotate(-90)" font-family='"Liberation Serif", "Times New Roman", serif' font-size="56" fill="#000" textLength="225" lengthAdjust="spacingAndGlyphs">δ<tspan font-size="51" dy="-32">2</tspan><tspan dy="32">A/(δν)</tspan><tspan font-size="51" dy="-32">2</tspan></text>
<text x="921.19" y="3904.50" font-family='"Liberation Sans", Arial, sans-serif' font-weight="normal" font-size="58.41" fill="#000" textLength="481.34" lengthAdjust="spacingAndGlyphs">Wavenumber [cm</text>
<text x="1402.33" y="3885.00" font-family='"Liberation Sans", Arial, sans-serif' font-weight="normal" font-size="39.71" fill="#000" textLength="33.00" lengthAdjust="spacingAndGlyphs">-1</text>
<text x="1440.80" y="3903.00" font-family='"Liberation Sans", Arial, sans-serif' font-weight="normal" font-size="62.07" fill="#000" textLength="13.96" lengthAdjust="spacingAndGlyphs">]</text>
<rect x="208" y="3946.2" width="73" height="73" rx="3" fill="#000000"/>
<text x="308.63" y="4005.80" font-family='"Liberation Sans", Arial, sans-serif' font-weight="bold" font-size="63.59" fill="#000" textLength="200.74" lengthAdjust="spacingAndGlyphs">control</text>
<rect x="536.7" y="3946.2" width="73" height="73" rx="3" fill="#3300ff"/>
<text x="639.20" y="4005.80" font-family='"Liberation Sans", Arial, sans-serif' font-weight="bold" font-size="63.59" fill="#000" textLength="193.29" lengthAdjust="spacingAndGlyphs">week 1</text>
<rect x="866" y="3946.2" width="73" height="73" rx="3" fill="#008015"/>
<text x="969.00" y="4005.80" font-family='"Liberation Sans", Arial, sans-serif' font-weight="bold" font-size="63.59" fill="#000" textLength="195.40" lengthAdjust="spacingAndGlyphs">week 2</text>
<rect x="1196" y="3946.2" width="73" height="73" rx="3" fill="#ff9a33"/>
<text x="1298.60" y="4005.80" font-family='"Liberation Sans", Arial, sans-serif' font-weight="bold" font-size="63.59" fill="#000" textLength="194.80" lengthAdjust="spacingAndGlyphs">week 3</text>
<rect x="1523.7" y="3946.2" width="73" height="73" rx="3" fill="#ff3399"/>
<text x="1627.00" y="4005.80" font-family='"Liberation Sans", Arial, sans-serif' font-weight="bold" font-size="63.59" fill="#000" textLength="193.11" lengthAdjust="spacingAndGlyphs">week 4</text>
<rect x="1853" y="3946.2" width="73" height="73" rx="3" fill="#ff2424"/>
<text x="1955.60" y="4005.80" font-family='"Liberation Sans", Arial, sans-serif' font-weight="bold" font-size="63.59" fill="#000" textLength="194.30" lengthAdjust="spacingAndGlyphs">week 5</text>
</svg></body></html>
